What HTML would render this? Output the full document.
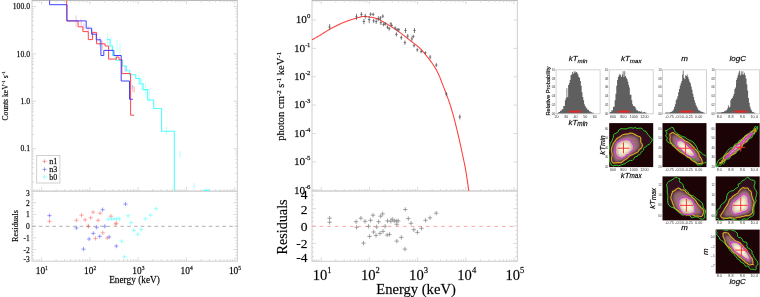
<!DOCTYPE html>
<html><head><meta charset="utf-8"><style>
html,body{margin:0;padding:0;background:#fff;}
svg{display:block;will-change:transform;}
text{stroke:#000;stroke-width:0.28px;stroke-opacity:0.55;}
text.t{stroke:none;}
</style></head><body>
<svg xmlns="http://www.w3.org/2000/svg" width="760" height="297" viewBox="0 0 760 297">
<rect width="760" height="297" fill="#fff"/>
<rect x="32.0" y="0.4" width="205.4" height="190.79999999999998" fill="none" stroke="#d2d2d2" stroke-width="1.1"/>
<line x1="32.00" y1="0.35" x2="237.40" y2="0.35" stroke="#b0b0b0" stroke-width="0.9" />
<rect x="32.0" y="191.2" width="205.4" height="70.0" fill="none" stroke="#d2d2d2" stroke-width="1.1"/>
<line x1="34.12" y1="0.40" x2="34.12" y2="2.40" stroke="#d2d2d2" stroke-width="0.8" />
<line x1="36.92" y1="0.40" x2="36.92" y2="2.40" stroke="#d2d2d2" stroke-width="0.8" />
<line x1="39.39" y1="0.40" x2="39.39" y2="2.40" stroke="#d2d2d2" stroke-width="0.8" />
<line x1="41.60" y1="0.40" x2="41.60" y2="4.40" stroke="#d2d2d2" stroke-width="0.8" />
<line x1="56.14" y1="0.40" x2="56.14" y2="2.40" stroke="#d2d2d2" stroke-width="0.8" />
<line x1="64.64" y1="0.40" x2="64.64" y2="2.40" stroke="#d2d2d2" stroke-width="0.8" />
<line x1="70.68" y1="0.40" x2="70.68" y2="2.40" stroke="#d2d2d2" stroke-width="0.8" />
<line x1="75.36" y1="0.40" x2="75.36" y2="2.40" stroke="#d2d2d2" stroke-width="0.8" />
<line x1="79.18" y1="0.40" x2="79.18" y2="2.40" stroke="#d2d2d2" stroke-width="0.8" />
<line x1="82.42" y1="0.40" x2="82.42" y2="2.40" stroke="#d2d2d2" stroke-width="0.8" />
<line x1="85.22" y1="0.40" x2="85.22" y2="2.40" stroke="#d2d2d2" stroke-width="0.8" />
<line x1="87.69" y1="0.40" x2="87.69" y2="2.40" stroke="#d2d2d2" stroke-width="0.8" />
<line x1="89.90" y1="0.40" x2="89.90" y2="4.40" stroke="#d2d2d2" stroke-width="0.8" />
<line x1="104.44" y1="0.40" x2="104.44" y2="2.40" stroke="#d2d2d2" stroke-width="0.8" />
<line x1="112.94" y1="0.40" x2="112.94" y2="2.40" stroke="#d2d2d2" stroke-width="0.8" />
<line x1="118.98" y1="0.40" x2="118.98" y2="2.40" stroke="#d2d2d2" stroke-width="0.8" />
<line x1="123.66" y1="0.40" x2="123.66" y2="2.40" stroke="#d2d2d2" stroke-width="0.8" />
<line x1="127.48" y1="0.40" x2="127.48" y2="2.40" stroke="#d2d2d2" stroke-width="0.8" />
<line x1="130.72" y1="0.40" x2="130.72" y2="2.40" stroke="#d2d2d2" stroke-width="0.8" />
<line x1="133.52" y1="0.40" x2="133.52" y2="2.40" stroke="#d2d2d2" stroke-width="0.8" />
<line x1="135.99" y1="0.40" x2="135.99" y2="2.40" stroke="#d2d2d2" stroke-width="0.8" />
<line x1="138.20" y1="0.40" x2="138.20" y2="4.40" stroke="#d2d2d2" stroke-width="0.8" />
<line x1="152.74" y1="0.40" x2="152.74" y2="2.40" stroke="#d2d2d2" stroke-width="0.8" />
<line x1="161.24" y1="0.40" x2="161.24" y2="2.40" stroke="#d2d2d2" stroke-width="0.8" />
<line x1="167.28" y1="0.40" x2="167.28" y2="2.40" stroke="#d2d2d2" stroke-width="0.8" />
<line x1="171.96" y1="0.40" x2="171.96" y2="2.40" stroke="#d2d2d2" stroke-width="0.8" />
<line x1="175.78" y1="0.40" x2="175.78" y2="2.40" stroke="#d2d2d2" stroke-width="0.8" />
<line x1="179.02" y1="0.40" x2="179.02" y2="2.40" stroke="#d2d2d2" stroke-width="0.8" />
<line x1="181.82" y1="0.40" x2="181.82" y2="2.40" stroke="#d2d2d2" stroke-width="0.8" />
<line x1="184.29" y1="0.40" x2="184.29" y2="2.40" stroke="#d2d2d2" stroke-width="0.8" />
<line x1="186.50" y1="0.40" x2="186.50" y2="4.40" stroke="#d2d2d2" stroke-width="0.8" />
<line x1="201.04" y1="0.40" x2="201.04" y2="2.40" stroke="#d2d2d2" stroke-width="0.8" />
<line x1="209.54" y1="0.40" x2="209.54" y2="2.40" stroke="#d2d2d2" stroke-width="0.8" />
<line x1="215.58" y1="0.40" x2="215.58" y2="2.40" stroke="#d2d2d2" stroke-width="0.8" />
<line x1="220.26" y1="0.40" x2="220.26" y2="2.40" stroke="#d2d2d2" stroke-width="0.8" />
<line x1="224.08" y1="0.40" x2="224.08" y2="2.40" stroke="#d2d2d2" stroke-width="0.8" />
<line x1="227.32" y1="0.40" x2="227.32" y2="2.40" stroke="#d2d2d2" stroke-width="0.8" />
<line x1="230.12" y1="0.40" x2="230.12" y2="2.40" stroke="#d2d2d2" stroke-width="0.8" />
<line x1="232.59" y1="0.40" x2="232.59" y2="2.40" stroke="#d2d2d2" stroke-width="0.8" />
<line x1="234.80" y1="0.40" x2="234.80" y2="4.40" stroke="#d2d2d2" stroke-width="0.8" />
<line x1="34.12" y1="191.20" x2="34.12" y2="189.20" stroke="#d2d2d2" stroke-width="0.8" />
<line x1="36.92" y1="191.20" x2="36.92" y2="189.20" stroke="#d2d2d2" stroke-width="0.8" />
<line x1="39.39" y1="191.20" x2="39.39" y2="189.20" stroke="#d2d2d2" stroke-width="0.8" />
<line x1="41.60" y1="191.20" x2="41.60" y2="187.20" stroke="#d2d2d2" stroke-width="0.8" />
<line x1="56.14" y1="191.20" x2="56.14" y2="189.20" stroke="#d2d2d2" stroke-width="0.8" />
<line x1="64.64" y1="191.20" x2="64.64" y2="189.20" stroke="#d2d2d2" stroke-width="0.8" />
<line x1="70.68" y1="191.20" x2="70.68" y2="189.20" stroke="#d2d2d2" stroke-width="0.8" />
<line x1="75.36" y1="191.20" x2="75.36" y2="189.20" stroke="#d2d2d2" stroke-width="0.8" />
<line x1="79.18" y1="191.20" x2="79.18" y2="189.20" stroke="#d2d2d2" stroke-width="0.8" />
<line x1="82.42" y1="191.20" x2="82.42" y2="189.20" stroke="#d2d2d2" stroke-width="0.8" />
<line x1="85.22" y1="191.20" x2="85.22" y2="189.20" stroke="#d2d2d2" stroke-width="0.8" />
<line x1="87.69" y1="191.20" x2="87.69" y2="189.20" stroke="#d2d2d2" stroke-width="0.8" />
<line x1="89.90" y1="191.20" x2="89.90" y2="187.20" stroke="#d2d2d2" stroke-width="0.8" />
<line x1="104.44" y1="191.20" x2="104.44" y2="189.20" stroke="#d2d2d2" stroke-width="0.8" />
<line x1="112.94" y1="191.20" x2="112.94" y2="189.20" stroke="#d2d2d2" stroke-width="0.8" />
<line x1="118.98" y1="191.20" x2="118.98" y2="189.20" stroke="#d2d2d2" stroke-width="0.8" />
<line x1="123.66" y1="191.20" x2="123.66" y2="189.20" stroke="#d2d2d2" stroke-width="0.8" />
<line x1="127.48" y1="191.20" x2="127.48" y2="189.20" stroke="#d2d2d2" stroke-width="0.8" />
<line x1="130.72" y1="191.20" x2="130.72" y2="189.20" stroke="#d2d2d2" stroke-width="0.8" />
<line x1="133.52" y1="191.20" x2="133.52" y2="189.20" stroke="#d2d2d2" stroke-width="0.8" />
<line x1="135.99" y1="191.20" x2="135.99" y2="189.20" stroke="#d2d2d2" stroke-width="0.8" />
<line x1="138.20" y1="191.20" x2="138.20" y2="187.20" stroke="#d2d2d2" stroke-width="0.8" />
<line x1="152.74" y1="191.20" x2="152.74" y2="189.20" stroke="#d2d2d2" stroke-width="0.8" />
<line x1="161.24" y1="191.20" x2="161.24" y2="189.20" stroke="#d2d2d2" stroke-width="0.8" />
<line x1="167.28" y1="191.20" x2="167.28" y2="189.20" stroke="#d2d2d2" stroke-width="0.8" />
<line x1="171.96" y1="191.20" x2="171.96" y2="189.20" stroke="#d2d2d2" stroke-width="0.8" />
<line x1="175.78" y1="191.20" x2="175.78" y2="189.20" stroke="#d2d2d2" stroke-width="0.8" />
<line x1="179.02" y1="191.20" x2="179.02" y2="189.20" stroke="#d2d2d2" stroke-width="0.8" />
<line x1="181.82" y1="191.20" x2="181.82" y2="189.20" stroke="#d2d2d2" stroke-width="0.8" />
<line x1="184.29" y1="191.20" x2="184.29" y2="189.20" stroke="#d2d2d2" stroke-width="0.8" />
<line x1="186.50" y1="191.20" x2="186.50" y2="187.20" stroke="#d2d2d2" stroke-width="0.8" />
<line x1="201.04" y1="191.20" x2="201.04" y2="189.20" stroke="#d2d2d2" stroke-width="0.8" />
<line x1="209.54" y1="191.20" x2="209.54" y2="189.20" stroke="#d2d2d2" stroke-width="0.8" />
<line x1="215.58" y1="191.20" x2="215.58" y2="189.20" stroke="#d2d2d2" stroke-width="0.8" />
<line x1="220.26" y1="191.20" x2="220.26" y2="189.20" stroke="#d2d2d2" stroke-width="0.8" />
<line x1="224.08" y1="191.20" x2="224.08" y2="189.20" stroke="#d2d2d2" stroke-width="0.8" />
<line x1="227.32" y1="191.20" x2="227.32" y2="189.20" stroke="#d2d2d2" stroke-width="0.8" />
<line x1="230.12" y1="191.20" x2="230.12" y2="189.20" stroke="#d2d2d2" stroke-width="0.8" />
<line x1="232.59" y1="191.20" x2="232.59" y2="189.20" stroke="#d2d2d2" stroke-width="0.8" />
<line x1="234.80" y1="191.20" x2="234.80" y2="187.20" stroke="#d2d2d2" stroke-width="0.8" />
<line x1="34.12" y1="261.20" x2="34.12" y2="259.20" stroke="#d2d2d2" stroke-width="0.8" />
<line x1="36.92" y1="261.20" x2="36.92" y2="259.20" stroke="#d2d2d2" stroke-width="0.8" />
<line x1="39.39" y1="261.20" x2="39.39" y2="259.20" stroke="#d2d2d2" stroke-width="0.8" />
<line x1="41.60" y1="261.20" x2="41.60" y2="257.20" stroke="#d2d2d2" stroke-width="0.8" />
<line x1="56.14" y1="261.20" x2="56.14" y2="259.20" stroke="#d2d2d2" stroke-width="0.8" />
<line x1="64.64" y1="261.20" x2="64.64" y2="259.20" stroke="#d2d2d2" stroke-width="0.8" />
<line x1="70.68" y1="261.20" x2="70.68" y2="259.20" stroke="#d2d2d2" stroke-width="0.8" />
<line x1="75.36" y1="261.20" x2="75.36" y2="259.20" stroke="#d2d2d2" stroke-width="0.8" />
<line x1="79.18" y1="261.20" x2="79.18" y2="259.20" stroke="#d2d2d2" stroke-width="0.8" />
<line x1="82.42" y1="261.20" x2="82.42" y2="259.20" stroke="#d2d2d2" stroke-width="0.8" />
<line x1="85.22" y1="261.20" x2="85.22" y2="259.20" stroke="#d2d2d2" stroke-width="0.8" />
<line x1="87.69" y1="261.20" x2="87.69" y2="259.20" stroke="#d2d2d2" stroke-width="0.8" />
<line x1="89.90" y1="261.20" x2="89.90" y2="257.20" stroke="#d2d2d2" stroke-width="0.8" />
<line x1="104.44" y1="261.20" x2="104.44" y2="259.20" stroke="#d2d2d2" stroke-width="0.8" />
<line x1="112.94" y1="261.20" x2="112.94" y2="259.20" stroke="#d2d2d2" stroke-width="0.8" />
<line x1="118.98" y1="261.20" x2="118.98" y2="259.20" stroke="#d2d2d2" stroke-width="0.8" />
<line x1="123.66" y1="261.20" x2="123.66" y2="259.20" stroke="#d2d2d2" stroke-width="0.8" />
<line x1="127.48" y1="261.20" x2="127.48" y2="259.20" stroke="#d2d2d2" stroke-width="0.8" />
<line x1="130.72" y1="261.20" x2="130.72" y2="259.20" stroke="#d2d2d2" stroke-width="0.8" />
<line x1="133.52" y1="261.20" x2="133.52" y2="259.20" stroke="#d2d2d2" stroke-width="0.8" />
<line x1="135.99" y1="261.20" x2="135.99" y2="259.20" stroke="#d2d2d2" stroke-width="0.8" />
<line x1="138.20" y1="261.20" x2="138.20" y2="257.20" stroke="#d2d2d2" stroke-width="0.8" />
<line x1="152.74" y1="261.20" x2="152.74" y2="259.20" stroke="#d2d2d2" stroke-width="0.8" />
<line x1="161.24" y1="261.20" x2="161.24" y2="259.20" stroke="#d2d2d2" stroke-width="0.8" />
<line x1="167.28" y1="261.20" x2="167.28" y2="259.20" stroke="#d2d2d2" stroke-width="0.8" />
<line x1="171.96" y1="261.20" x2="171.96" y2="259.20" stroke="#d2d2d2" stroke-width="0.8" />
<line x1="175.78" y1="261.20" x2="175.78" y2="259.20" stroke="#d2d2d2" stroke-width="0.8" />
<line x1="179.02" y1="261.20" x2="179.02" y2="259.20" stroke="#d2d2d2" stroke-width="0.8" />
<line x1="181.82" y1="261.20" x2="181.82" y2="259.20" stroke="#d2d2d2" stroke-width="0.8" />
<line x1="184.29" y1="261.20" x2="184.29" y2="259.20" stroke="#d2d2d2" stroke-width="0.8" />
<line x1="186.50" y1="261.20" x2="186.50" y2="257.20" stroke="#d2d2d2" stroke-width="0.8" />
<line x1="201.04" y1="261.20" x2="201.04" y2="259.20" stroke="#d2d2d2" stroke-width="0.8" />
<line x1="209.54" y1="261.20" x2="209.54" y2="259.20" stroke="#d2d2d2" stroke-width="0.8" />
<line x1="215.58" y1="261.20" x2="215.58" y2="259.20" stroke="#d2d2d2" stroke-width="0.8" />
<line x1="220.26" y1="261.20" x2="220.26" y2="259.20" stroke="#d2d2d2" stroke-width="0.8" />
<line x1="224.08" y1="261.20" x2="224.08" y2="259.20" stroke="#d2d2d2" stroke-width="0.8" />
<line x1="227.32" y1="261.20" x2="227.32" y2="259.20" stroke="#d2d2d2" stroke-width="0.8" />
<line x1="230.12" y1="261.20" x2="230.12" y2="259.20" stroke="#d2d2d2" stroke-width="0.8" />
<line x1="232.59" y1="261.20" x2="232.59" y2="259.20" stroke="#d2d2d2" stroke-width="0.8" />
<line x1="234.80" y1="261.20" x2="234.80" y2="257.20" stroke="#d2d2d2" stroke-width="0.8" />
<line x1="32.00" y1="181.83" x2="34.00" y2="181.83" stroke="#d2d2d2" stroke-width="0.8" />
<line x1="237.40" y1="181.83" x2="235.40" y2="181.83" stroke="#d2d2d2" stroke-width="0.8" />
<line x1="32.00" y1="173.48" x2="34.00" y2="173.48" stroke="#d2d2d2" stroke-width="0.8" />
<line x1="237.40" y1="173.48" x2="235.40" y2="173.48" stroke="#d2d2d2" stroke-width="0.8" />
<line x1="32.00" y1="167.56" x2="34.00" y2="167.56" stroke="#d2d2d2" stroke-width="0.8" />
<line x1="237.40" y1="167.56" x2="235.40" y2="167.56" stroke="#d2d2d2" stroke-width="0.8" />
<line x1="32.00" y1="162.97" x2="34.00" y2="162.97" stroke="#d2d2d2" stroke-width="0.8" />
<line x1="237.40" y1="162.97" x2="235.40" y2="162.97" stroke="#d2d2d2" stroke-width="0.8" />
<line x1="32.00" y1="159.22" x2="34.00" y2="159.22" stroke="#d2d2d2" stroke-width="0.8" />
<line x1="237.40" y1="159.22" x2="235.40" y2="159.22" stroke="#d2d2d2" stroke-width="0.8" />
<line x1="32.00" y1="156.04" x2="34.00" y2="156.04" stroke="#d2d2d2" stroke-width="0.8" />
<line x1="237.40" y1="156.04" x2="235.40" y2="156.04" stroke="#d2d2d2" stroke-width="0.8" />
<line x1="32.00" y1="153.29" x2="34.00" y2="153.29" stroke="#d2d2d2" stroke-width="0.8" />
<line x1="237.40" y1="153.29" x2="235.40" y2="153.29" stroke="#d2d2d2" stroke-width="0.8" />
<line x1="32.00" y1="150.87" x2="34.00" y2="150.87" stroke="#d2d2d2" stroke-width="0.8" />
<line x1="237.40" y1="150.87" x2="235.40" y2="150.87" stroke="#d2d2d2" stroke-width="0.8" />
<line x1="32.00" y1="148.70" x2="36.00" y2="148.70" stroke="#d2d2d2" stroke-width="0.8" />
<line x1="237.40" y1="148.70" x2="233.40" y2="148.70" stroke="#d2d2d2" stroke-width="0.8" />
<line x1="32.00" y1="134.43" x2="34.00" y2="134.43" stroke="#d2d2d2" stroke-width="0.8" />
<line x1="237.40" y1="134.43" x2="235.40" y2="134.43" stroke="#d2d2d2" stroke-width="0.8" />
<line x1="32.00" y1="126.08" x2="34.00" y2="126.08" stroke="#d2d2d2" stroke-width="0.8" />
<line x1="237.40" y1="126.08" x2="235.40" y2="126.08" stroke="#d2d2d2" stroke-width="0.8" />
<line x1="32.00" y1="120.16" x2="34.00" y2="120.16" stroke="#d2d2d2" stroke-width="0.8" />
<line x1="237.40" y1="120.16" x2="235.40" y2="120.16" stroke="#d2d2d2" stroke-width="0.8" />
<line x1="32.00" y1="115.57" x2="34.00" y2="115.57" stroke="#d2d2d2" stroke-width="0.8" />
<line x1="237.40" y1="115.57" x2="235.40" y2="115.57" stroke="#d2d2d2" stroke-width="0.8" />
<line x1="32.00" y1="111.82" x2="34.00" y2="111.82" stroke="#d2d2d2" stroke-width="0.8" />
<line x1="237.40" y1="111.82" x2="235.40" y2="111.82" stroke="#d2d2d2" stroke-width="0.8" />
<line x1="32.00" y1="108.64" x2="34.00" y2="108.64" stroke="#d2d2d2" stroke-width="0.8" />
<line x1="237.40" y1="108.64" x2="235.40" y2="108.64" stroke="#d2d2d2" stroke-width="0.8" />
<line x1="32.00" y1="105.89" x2="34.00" y2="105.89" stroke="#d2d2d2" stroke-width="0.8" />
<line x1="237.40" y1="105.89" x2="235.40" y2="105.89" stroke="#d2d2d2" stroke-width="0.8" />
<line x1="32.00" y1="103.47" x2="34.00" y2="103.47" stroke="#d2d2d2" stroke-width="0.8" />
<line x1="237.40" y1="103.47" x2="235.40" y2="103.47" stroke="#d2d2d2" stroke-width="0.8" />
<line x1="32.00" y1="101.30" x2="36.00" y2="101.30" stroke="#d2d2d2" stroke-width="0.8" />
<line x1="237.40" y1="101.30" x2="233.40" y2="101.30" stroke="#d2d2d2" stroke-width="0.8" />
<line x1="32.00" y1="87.03" x2="34.00" y2="87.03" stroke="#d2d2d2" stroke-width="0.8" />
<line x1="237.40" y1="87.03" x2="235.40" y2="87.03" stroke="#d2d2d2" stroke-width="0.8" />
<line x1="32.00" y1="78.68" x2="34.00" y2="78.68" stroke="#d2d2d2" stroke-width="0.8" />
<line x1="237.40" y1="78.68" x2="235.40" y2="78.68" stroke="#d2d2d2" stroke-width="0.8" />
<line x1="32.00" y1="72.76" x2="34.00" y2="72.76" stroke="#d2d2d2" stroke-width="0.8" />
<line x1="237.40" y1="72.76" x2="235.40" y2="72.76" stroke="#d2d2d2" stroke-width="0.8" />
<line x1="32.00" y1="68.17" x2="34.00" y2="68.17" stroke="#d2d2d2" stroke-width="0.8" />
<line x1="237.40" y1="68.17" x2="235.40" y2="68.17" stroke="#d2d2d2" stroke-width="0.8" />
<line x1="32.00" y1="64.42" x2="34.00" y2="64.42" stroke="#d2d2d2" stroke-width="0.8" />
<line x1="237.40" y1="64.42" x2="235.40" y2="64.42" stroke="#d2d2d2" stroke-width="0.8" />
<line x1="32.00" y1="61.24" x2="34.00" y2="61.24" stroke="#d2d2d2" stroke-width="0.8" />
<line x1="237.40" y1="61.24" x2="235.40" y2="61.24" stroke="#d2d2d2" stroke-width="0.8" />
<line x1="32.00" y1="58.49" x2="34.00" y2="58.49" stroke="#d2d2d2" stroke-width="0.8" />
<line x1="237.40" y1="58.49" x2="235.40" y2="58.49" stroke="#d2d2d2" stroke-width="0.8" />
<line x1="32.00" y1="56.07" x2="34.00" y2="56.07" stroke="#d2d2d2" stroke-width="0.8" />
<line x1="237.40" y1="56.07" x2="235.40" y2="56.07" stroke="#d2d2d2" stroke-width="0.8" />
<line x1="32.00" y1="53.90" x2="36.00" y2="53.90" stroke="#d2d2d2" stroke-width="0.8" />
<line x1="237.40" y1="53.90" x2="233.40" y2="53.90" stroke="#d2d2d2" stroke-width="0.8" />
<line x1="32.00" y1="39.63" x2="34.00" y2="39.63" stroke="#d2d2d2" stroke-width="0.8" />
<line x1="237.40" y1="39.63" x2="235.40" y2="39.63" stroke="#d2d2d2" stroke-width="0.8" />
<line x1="32.00" y1="31.28" x2="34.00" y2="31.28" stroke="#d2d2d2" stroke-width="0.8" />
<line x1="237.40" y1="31.28" x2="235.40" y2="31.28" stroke="#d2d2d2" stroke-width="0.8" />
<line x1="32.00" y1="25.36" x2="34.00" y2="25.36" stroke="#d2d2d2" stroke-width="0.8" />
<line x1="237.40" y1="25.36" x2="235.40" y2="25.36" stroke="#d2d2d2" stroke-width="0.8" />
<line x1="32.00" y1="20.77" x2="34.00" y2="20.77" stroke="#d2d2d2" stroke-width="0.8" />
<line x1="237.40" y1="20.77" x2="235.40" y2="20.77" stroke="#d2d2d2" stroke-width="0.8" />
<line x1="32.00" y1="17.02" x2="34.00" y2="17.02" stroke="#d2d2d2" stroke-width="0.8" />
<line x1="237.40" y1="17.02" x2="235.40" y2="17.02" stroke="#d2d2d2" stroke-width="0.8" />
<line x1="32.00" y1="13.84" x2="34.00" y2="13.84" stroke="#d2d2d2" stroke-width="0.8" />
<line x1="237.40" y1="13.84" x2="235.40" y2="13.84" stroke="#d2d2d2" stroke-width="0.8" />
<line x1="32.00" y1="11.09" x2="34.00" y2="11.09" stroke="#d2d2d2" stroke-width="0.8" />
<line x1="237.40" y1="11.09" x2="235.40" y2="11.09" stroke="#d2d2d2" stroke-width="0.8" />
<line x1="32.00" y1="8.67" x2="34.00" y2="8.67" stroke="#d2d2d2" stroke-width="0.8" />
<line x1="237.40" y1="8.67" x2="235.40" y2="8.67" stroke="#d2d2d2" stroke-width="0.8" />
<line x1="32.00" y1="6.50" x2="36.00" y2="6.50" stroke="#d2d2d2" stroke-width="0.8" />
<line x1="237.40" y1="6.50" x2="233.40" y2="6.50" stroke="#d2d2d2" stroke-width="0.8" />
<line x1="32.00" y1="258.27" x2="34.00" y2="258.27" stroke="#d2d2d2" stroke-width="0.8" />
<line x1="237.40" y1="258.27" x2="235.40" y2="258.27" stroke="#d2d2d2" stroke-width="0.8" />
<line x1="32.00" y1="255.35" x2="34.00" y2="255.35" stroke="#d2d2d2" stroke-width="0.8" />
<line x1="237.40" y1="255.35" x2="235.40" y2="255.35" stroke="#d2d2d2" stroke-width="0.8" />
<line x1="32.00" y1="252.42" x2="34.00" y2="252.42" stroke="#d2d2d2" stroke-width="0.8" />
<line x1="237.40" y1="252.42" x2="235.40" y2="252.42" stroke="#d2d2d2" stroke-width="0.8" />
<line x1="32.00" y1="249.50" x2="36.00" y2="249.50" stroke="#d2d2d2" stroke-width="0.8" />
<line x1="237.40" y1="249.50" x2="233.40" y2="249.50" stroke="#d2d2d2" stroke-width="0.8" />
<line x1="32.00" y1="246.57" x2="34.00" y2="246.57" stroke="#d2d2d2" stroke-width="0.8" />
<line x1="237.40" y1="246.57" x2="235.40" y2="246.57" stroke="#d2d2d2" stroke-width="0.8" />
<line x1="32.00" y1="243.65" x2="34.00" y2="243.65" stroke="#d2d2d2" stroke-width="0.8" />
<line x1="237.40" y1="243.65" x2="235.40" y2="243.65" stroke="#d2d2d2" stroke-width="0.8" />
<line x1="32.00" y1="240.72" x2="34.00" y2="240.72" stroke="#d2d2d2" stroke-width="0.8" />
<line x1="237.40" y1="240.72" x2="235.40" y2="240.72" stroke="#d2d2d2" stroke-width="0.8" />
<line x1="32.00" y1="237.80" x2="36.00" y2="237.80" stroke="#d2d2d2" stroke-width="0.8" />
<line x1="237.40" y1="237.80" x2="233.40" y2="237.80" stroke="#d2d2d2" stroke-width="0.8" />
<line x1="32.00" y1="234.88" x2="34.00" y2="234.88" stroke="#d2d2d2" stroke-width="0.8" />
<line x1="237.40" y1="234.88" x2="235.40" y2="234.88" stroke="#d2d2d2" stroke-width="0.8" />
<line x1="32.00" y1="231.95" x2="34.00" y2="231.95" stroke="#d2d2d2" stroke-width="0.8" />
<line x1="237.40" y1="231.95" x2="235.40" y2="231.95" stroke="#d2d2d2" stroke-width="0.8" />
<line x1="32.00" y1="229.03" x2="34.00" y2="229.03" stroke="#d2d2d2" stroke-width="0.8" />
<line x1="237.40" y1="229.03" x2="235.40" y2="229.03" stroke="#d2d2d2" stroke-width="0.8" />
<line x1="32.00" y1="226.10" x2="36.00" y2="226.10" stroke="#d2d2d2" stroke-width="0.8" />
<line x1="237.40" y1="226.10" x2="233.40" y2="226.10" stroke="#d2d2d2" stroke-width="0.8" />
<line x1="32.00" y1="223.17" x2="34.00" y2="223.17" stroke="#d2d2d2" stroke-width="0.8" />
<line x1="237.40" y1="223.17" x2="235.40" y2="223.17" stroke="#d2d2d2" stroke-width="0.8" />
<line x1="32.00" y1="220.25" x2="34.00" y2="220.25" stroke="#d2d2d2" stroke-width="0.8" />
<line x1="237.40" y1="220.25" x2="235.40" y2="220.25" stroke="#d2d2d2" stroke-width="0.8" />
<line x1="32.00" y1="217.32" x2="34.00" y2="217.32" stroke="#d2d2d2" stroke-width="0.8" />
<line x1="237.40" y1="217.32" x2="235.40" y2="217.32" stroke="#d2d2d2" stroke-width="0.8" />
<line x1="32.00" y1="214.40" x2="36.00" y2="214.40" stroke="#d2d2d2" stroke-width="0.8" />
<line x1="237.40" y1="214.40" x2="233.40" y2="214.40" stroke="#d2d2d2" stroke-width="0.8" />
<line x1="32.00" y1="211.47" x2="34.00" y2="211.47" stroke="#d2d2d2" stroke-width="0.8" />
<line x1="237.40" y1="211.47" x2="235.40" y2="211.47" stroke="#d2d2d2" stroke-width="0.8" />
<line x1="32.00" y1="208.55" x2="34.00" y2="208.55" stroke="#d2d2d2" stroke-width="0.8" />
<line x1="237.40" y1="208.55" x2="235.40" y2="208.55" stroke="#d2d2d2" stroke-width="0.8" />
<line x1="32.00" y1="205.62" x2="34.00" y2="205.62" stroke="#d2d2d2" stroke-width="0.8" />
<line x1="237.40" y1="205.62" x2="235.40" y2="205.62" stroke="#d2d2d2" stroke-width="0.8" />
<line x1="32.00" y1="202.70" x2="36.00" y2="202.70" stroke="#d2d2d2" stroke-width="0.8" />
<line x1="237.40" y1="202.70" x2="233.40" y2="202.70" stroke="#d2d2d2" stroke-width="0.8" />
<line x1="32.00" y1="199.78" x2="34.00" y2="199.78" stroke="#d2d2d2" stroke-width="0.8" />
<line x1="237.40" y1="199.78" x2="235.40" y2="199.78" stroke="#d2d2d2" stroke-width="0.8" />
<line x1="32.00" y1="196.85" x2="34.00" y2="196.85" stroke="#d2d2d2" stroke-width="0.8" />
<line x1="237.40" y1="196.85" x2="235.40" y2="196.85" stroke="#d2d2d2" stroke-width="0.8" />
<line x1="32.00" y1="193.93" x2="34.00" y2="193.93" stroke="#d2d2d2" stroke-width="0.8" />
<line x1="237.40" y1="193.93" x2="235.40" y2="193.93" stroke="#d2d2d2" stroke-width="0.8" />
<line x1="32.00" y1="226.30" x2="237.40" y2="226.30" stroke="#a8a8a8" stroke-width="0.9" stroke-dasharray="3.6,3.2"/>
<text x="30.00" y="9.20" font-family="Liberation Serif" font-size="7.7" text-anchor="end" fill="#000" >100.0</text>
<text x="30.00" y="56.60" font-family="Liberation Serif" font-size="7.7" text-anchor="end" fill="#000" >10.0</text>
<text x="30.00" y="104.00" font-family="Liberation Serif" font-size="7.7" text-anchor="end" fill="#000" >1.0</text>
<text x="30.00" y="151.40" font-family="Liberation Serif" font-size="7.7" text-anchor="end" fill="#000" >0.1</text>
<text x="29.80" y="195.90" font-family="Liberation Serif" font-size="7.5" text-anchor="end" fill="#000" >3</text>
<text x="29.80" y="205.80" font-family="Liberation Serif" font-size="7.5" text-anchor="end" fill="#000" >2</text>
<text x="29.80" y="217.40" font-family="Liberation Serif" font-size="7.5" text-anchor="end" fill="#000" >1</text>
<text x="29.80" y="229.10" font-family="Liberation Serif" font-size="7.5" text-anchor="end" fill="#000" >0</text>
<text x="29.80" y="240.80" font-family="Liberation Serif" font-size="7.5" text-anchor="end" fill="#000" >-1</text>
<text x="29.80" y="252.50" font-family="Liberation Serif" font-size="7.5" text-anchor="end" fill="#000" >-2</text>
<text x="29.80" y="262.00" font-family="Liberation Serif" font-size="7.5" text-anchor="end" fill="#000" >-3</text>
<text x="41.80" y="274.0" font-family="Liberation Serif" font-size="9.4" fill="#000" text-anchor="middle">10<tspan dy="-3.9" font-size="5.6">1</tspan></text>
<text x="90.10" y="274.0" font-family="Liberation Serif" font-size="9.4" fill="#000" text-anchor="middle">10<tspan dy="-3.9" font-size="5.6">2</tspan></text>
<text x="138.40" y="274.0" font-family="Liberation Serif" font-size="9.4" fill="#000" text-anchor="middle">10<tspan dy="-3.9" font-size="5.6">3</tspan></text>
<text x="186.70" y="274.0" font-family="Liberation Serif" font-size="9.4" fill="#000" text-anchor="middle">10<tspan dy="-3.9" font-size="5.6">4</tspan></text>
<text x="235.00" y="274.0" font-family="Liberation Serif" font-size="9.4" fill="#000" text-anchor="middle">10<tspan dy="-3.9" font-size="5.6">5</tspan></text>
<text x="134.50" y="283.20" font-family="Liberation Serif" font-size="9.3" text-anchor="middle" fill="#000" >Energy (keV)</text>
<text transform="translate(8.2,95.8) rotate(-90)" font-family="Liberation Serif" font-size="7.6" text-anchor="middle" fill="#000">Counts keV<tspan dy="-3.6" font-size="5">-1</tspan><tspan dy="3.6"> s</tspan><tspan dy="-3.6" font-size="5">-1</tspan></text>
<text transform="translate(18,226) rotate(-90)" font-family="Liberation Serif" font-size="8.2" text-anchor="middle" fill="#000">Residuals</text>
<rect x="36.7" y="155.4" width="23.2" height="27.6" fill="none" stroke="#c4c4c4" stroke-width="0.8"/>
<line x1="42.50" y1="161.40" x2="46.50" y2="161.40" stroke="#ff8080" stroke-width="0.8" />
<line x1="44.50" y1="159.40" x2="44.50" y2="163.40" stroke="#ff8080" stroke-width="0.8" />
<text x="49.30" y="164.00" font-family="Liberation Serif" font-size="8" text-anchor="start" fill="#000" >n1</text>
<line x1="42.50" y1="169.40" x2="46.50" y2="169.40" stroke="#8080ff" stroke-width="0.8" />
<line x1="44.50" y1="167.40" x2="44.50" y2="171.40" stroke="#8080ff" stroke-width="0.8" />
<text x="49.30" y="172.00" font-family="Liberation Serif" font-size="8" text-anchor="start" fill="#000" >n3</text>
<line x1="42.50" y1="176.90" x2="46.50" y2="176.90" stroke="#80ffff" stroke-width="0.8" />
<line x1="44.50" y1="174.90" x2="44.50" y2="178.90" stroke="#80ffff" stroke-width="0.8" />
<text x="49.30" y="179.50" font-family="Liberation Serif" font-size="8" text-anchor="start" fill="#000" >b0</text>
<line x1="76.10" y1="15.40" x2="76.10" y2="26.80" stroke="#e8b0e0" stroke-width="0.8" />
<line x1="81.20" y1="18.80" x2="81.20" y2="26.20" stroke="#ffb0b0" stroke-width="0.8" />
<line x1="83.90" y1="23.50" x2="83.90" y2="30.20" stroke="#c8b8ff" stroke-width="0.8" />
<line x1="88.20" y1="26.20" x2="88.20" y2="33.60" stroke="#ffb8b8" stroke-width="0.8" />
<line x1="92.30" y1="29.00" x2="92.30" y2="36.50" stroke="#c0c0ff" stroke-width="0.8" />
<line x1="96.30" y1="33.00" x2="96.30" y2="42.00" stroke="#ffb8b8" stroke-width="0.8" />
<line x1="99.70" y1="37.00" x2="99.70" y2="46.00" stroke="#c0c0ff" stroke-width="0.8" />
<line x1="102.40" y1="41.00" x2="102.40" y2="50.00" stroke="#ffb8b8" stroke-width="0.8" />
<line x1="107.60" y1="33.80" x2="107.60" y2="45.00" stroke="#b0ffff" stroke-width="0.8" />
<line x1="111.00" y1="37.00" x2="111.00" y2="50.00" stroke="#b0ffff" stroke-width="0.8" />
<line x1="117.00" y1="40.00" x2="117.00" y2="52.00" stroke="#b0ffff" stroke-width="0.8" />
<line x1="120.00" y1="43.00" x2="120.00" y2="58.00" stroke="#b0ffff" stroke-width="0.8" />
<line x1="125.10" y1="65.90" x2="125.10" y2="71.80" stroke="#b8b8ff" stroke-width="0.8" />
<line x1="132.80" y1="85.90" x2="132.80" y2="91.80" stroke="#ffa8a8" stroke-width="0.8" />
<line x1="134.30" y1="86.50" x2="134.30" y2="92.50" stroke="#ffa8a8" stroke-width="0.8" />
<line x1="132.40" y1="85.00" x2="132.40" y2="89.00" stroke="#b0b0ff" stroke-width="0.8" />
<line x1="138.70" y1="74.80" x2="138.70" y2="85.00" stroke="#b0ffff" stroke-width="0.8" />
<line x1="141.70" y1="78.50" x2="141.70" y2="89.60" stroke="#b0ffff" stroke-width="0.8" />
<line x1="145.40" y1="83.70" x2="145.40" y2="95.50" stroke="#b0ffff" stroke-width="0.8" />
<line x1="149.30" y1="89.60" x2="149.30" y2="102.00" stroke="#b0ffff" stroke-width="0.8" />
<line x1="166.30" y1="127.00" x2="166.30" y2="135.00" stroke="#a0ffff" stroke-width="0.8" />
<line x1="180.00" y1="151.00" x2="180.00" y2="158.00" stroke="#a0ffff" stroke-width="0.8" />
<line x1="194.30" y1="183.00" x2="194.30" y2="189.00" stroke="#a0ffff" stroke-width="0.8" />
<path d="M107.00,39.50 L110.00,39.50 L110.00,46.00 L112.50,46.00 L112.50,55.50 L116.00,55.50 L116.00,60.20 L122.60,60.20 L122.60,66.00 L126.30,66.00 L126.30,70.80 L129.60,70.80 L129.60,74.80 L135.80,74.80 L135.80,78.50 L139.90,78.50 L139.90,83.70 L143.10,83.70 L143.10,89.60 L147.60,89.60 L147.60,100.00 L153.70,100.00 L153.70,108.50 L161.60,108.50 L161.60,131.30 L174.30,131.30 L174.30,190.50" stroke="#50ffff" stroke-width="1.1" fill="none" />
<path d="M66.70,0.50 L66.70,20.90 L78.10,20.90 L78.10,26.80 L82.90,26.80 L82.90,31.60 L88.30,31.60 L88.30,39.60 L92.60,39.60 L92.60,32.40 L96.60,32.40 L96.60,43.80 L100.40,43.80 L105.10,43.80 L105.10,46.00 L108.60,46.00 L108.60,59.10 L116.40,59.10 L116.40,57.00 L119.00,57.00 L119.00,59.60 L121.80,59.60 L121.80,73.60 L130.60,73.60 L130.60,115.20 L134.20,115.20" stroke="#ff4646" stroke-width="1.0" fill="none" />
<path d="M49.60,0.50 L49.60,4.70 L67.00,4.70 L67.00,20.90 L86.20,20.90 L86.20,28.20 L91.60,28.20 L91.60,34.20 L96.30,34.20 L96.30,39.80 L100.90,39.80 L100.90,55.50 L103.80,55.50 L103.80,50.40 L113.90,50.40 L113.90,55.50 L121.20,55.50 L121.20,81.00 L129.50,81.00 L129.50,99.30 L132.80,99.30" stroke="#4040ff" stroke-width="1.0" fill="none" />
<line x1="203.50" y1="190.30" x2="209.60" y2="190.30" stroke="#50ffff" stroke-width="1.3" />
<line x1="47.40" y1="215.60" x2="51.60" y2="215.60" stroke="#7878ff" stroke-width="0.75" />
<line x1="49.50" y1="213.50" x2="49.50" y2="217.70" stroke="#7878ff" stroke-width="0.75" />
<line x1="47.40" y1="221.30" x2="51.60" y2="221.30" stroke="#ff8a8a" stroke-width="0.75" />
<line x1="49.50" y1="219.20" x2="49.50" y2="223.40" stroke="#ff8a8a" stroke-width="0.75" />
<line x1="74.30" y1="220.30" x2="78.50" y2="220.30" stroke="#ff8a8a" stroke-width="0.75" />
<line x1="76.40" y1="218.20" x2="76.40" y2="222.40" stroke="#ff8a8a" stroke-width="0.75" />
<line x1="74.30" y1="227.90" x2="78.50" y2="227.90" stroke="#7878ff" stroke-width="0.75" />
<line x1="76.40" y1="225.80" x2="76.40" y2="230.00" stroke="#7878ff" stroke-width="0.75" />
<line x1="79.40" y1="215.20" x2="83.60" y2="215.20" stroke="#ff8a8a" stroke-width="0.75" />
<line x1="81.50" y1="213.10" x2="81.50" y2="217.30" stroke="#ff8a8a" stroke-width="0.75" />
<line x1="83.00" y1="219.80" x2="87.20" y2="219.80" stroke="#ff8a8a" stroke-width="0.75" />
<line x1="85.10" y1="217.70" x2="85.10" y2="221.90" stroke="#ff8a8a" stroke-width="0.75" />
<line x1="86.20" y1="226.30" x2="90.40" y2="226.30" stroke="#e06060" stroke-width="0.75" />
<line x1="88.30" y1="224.20" x2="88.30" y2="228.40" stroke="#e06060" stroke-width="0.75" />
<line x1="88.60" y1="217.80" x2="92.80" y2="217.80" stroke="#ff8a8a" stroke-width="0.75" />
<line x1="90.70" y1="215.70" x2="90.70" y2="219.90" stroke="#ff8a8a" stroke-width="0.75" />
<line x1="91.00" y1="212.20" x2="95.20" y2="212.20" stroke="#ff8a8a" stroke-width="0.75" />
<line x1="93.10" y1="210.10" x2="93.10" y2="214.30" stroke="#ff8a8a" stroke-width="0.75" />
<line x1="87.00" y1="239.00" x2="91.20" y2="239.00" stroke="#7878ff" stroke-width="0.75" />
<line x1="89.10" y1="236.90" x2="89.10" y2="241.10" stroke="#7878ff" stroke-width="0.75" />
<line x1="81.40" y1="249.10" x2="85.60" y2="249.10" stroke="#7878ff" stroke-width="0.75" />
<line x1="83.50" y1="247.00" x2="83.50" y2="251.20" stroke="#7878ff" stroke-width="0.75" />
<line x1="91.20" y1="233.40" x2="95.40" y2="233.40" stroke="#7878ff" stroke-width="0.75" />
<line x1="93.30" y1="231.30" x2="93.30" y2="235.50" stroke="#7878ff" stroke-width="0.75" />
<line x1="93.40" y1="238.40" x2="97.60" y2="238.40" stroke="#ff8a8a" stroke-width="0.75" />
<line x1="95.50" y1="236.30" x2="95.50" y2="240.50" stroke="#ff8a8a" stroke-width="0.75" />
<line x1="94.60" y1="227.30" x2="98.80" y2="227.30" stroke="#7878ff" stroke-width="0.75" />
<line x1="96.70" y1="225.20" x2="96.70" y2="229.40" stroke="#7878ff" stroke-width="0.75" />
<line x1="96.00" y1="220.30" x2="100.20" y2="220.30" stroke="#ff8a8a" stroke-width="0.75" />
<line x1="98.10" y1="218.20" x2="98.10" y2="222.40" stroke="#ff8a8a" stroke-width="0.75" />
<line x1="98.10" y1="213.20" x2="102.30" y2="213.20" stroke="#ff8a8a" stroke-width="0.75" />
<line x1="100.20" y1="211.10" x2="100.20" y2="215.30" stroke="#ff8a8a" stroke-width="0.75" />
<line x1="100.50" y1="209.70" x2="104.70" y2="209.70" stroke="#7878ff" stroke-width="0.75" />
<line x1="102.60" y1="207.60" x2="102.60" y2="211.80" stroke="#7878ff" stroke-width="0.75" />
<line x1="97.60" y1="236.40" x2="101.80" y2="236.40" stroke="#7878ff" stroke-width="0.75" />
<line x1="99.70" y1="234.30" x2="99.70" y2="238.50" stroke="#7878ff" stroke-width="0.75" />
<line x1="100.70" y1="232.80" x2="104.90" y2="232.80" stroke="#ff8a8a" stroke-width="0.75" />
<line x1="102.80" y1="230.70" x2="102.80" y2="234.90" stroke="#ff8a8a" stroke-width="0.75" />
<line x1="102.70" y1="226.30" x2="106.90" y2="226.30" stroke="#7878ff" stroke-width="0.75" />
<line x1="104.80" y1="224.20" x2="104.80" y2="228.40" stroke="#7878ff" stroke-width="0.75" />
<line x1="105.10" y1="238.00" x2="109.30" y2="238.00" stroke="#ff8a8a" stroke-width="0.75" />
<line x1="107.20" y1="235.90" x2="107.20" y2="240.10" stroke="#ff8a8a" stroke-width="0.75" />
<line x1="107.10" y1="237.00" x2="111.30" y2="237.00" stroke="#7878ff" stroke-width="0.75" />
<line x1="109.20" y1="234.90" x2="109.20" y2="239.10" stroke="#7878ff" stroke-width="0.75" />
<line x1="108.80" y1="216.20" x2="113.00" y2="216.20" stroke="#ff8a8a" stroke-width="0.75" />
<line x1="110.90" y1="214.10" x2="110.90" y2="218.30" stroke="#ff8a8a" stroke-width="0.75" />
<line x1="106.10" y1="219.20" x2="110.30" y2="219.20" stroke="#78ffff" stroke-width="0.75" />
<line x1="108.20" y1="217.10" x2="108.20" y2="221.30" stroke="#78ffff" stroke-width="0.75" />
<line x1="109.40" y1="218.80" x2="113.60" y2="218.80" stroke="#78ffff" stroke-width="0.75" />
<line x1="111.50" y1="216.70" x2="111.50" y2="220.90" stroke="#78ffff" stroke-width="0.75" />
<line x1="111.90" y1="218.80" x2="116.10" y2="218.80" stroke="#78ffff" stroke-width="0.75" />
<line x1="114.00" y1="216.70" x2="114.00" y2="220.90" stroke="#78ffff" stroke-width="0.75" />
<line x1="114.40" y1="218.80" x2="118.60" y2="218.80" stroke="#78ffff" stroke-width="0.75" />
<line x1="116.50" y1="216.70" x2="116.50" y2="220.90" stroke="#78ffff" stroke-width="0.75" />
<line x1="117.20" y1="218.80" x2="121.40" y2="218.80" stroke="#78ffff" stroke-width="0.75" />
<line x1="119.30" y1="216.70" x2="119.30" y2="220.90" stroke="#78ffff" stroke-width="0.75" />
<line x1="114.20" y1="223.30" x2="118.40" y2="223.30" stroke="#ff8a8a" stroke-width="0.75" />
<line x1="116.30" y1="221.20" x2="116.30" y2="225.40" stroke="#ff8a8a" stroke-width="0.75" />
<line x1="123.40" y1="204.10" x2="127.60" y2="204.10" stroke="#7878ff" stroke-width="0.75" />
<line x1="125.50" y1="202.00" x2="125.50" y2="206.20" stroke="#7878ff" stroke-width="0.75" />
<line x1="126.00" y1="215.80" x2="130.20" y2="215.80" stroke="#78ffff" stroke-width="0.75" />
<line x1="128.10" y1="213.70" x2="128.10" y2="217.90" stroke="#78ffff" stroke-width="0.75" />
<line x1="129.00" y1="222.70" x2="133.20" y2="222.70" stroke="#78ffff" stroke-width="0.75" />
<line x1="131.10" y1="220.60" x2="131.10" y2="224.80" stroke="#78ffff" stroke-width="0.75" />
<line x1="131.60" y1="230.40" x2="135.80" y2="230.40" stroke="#78ffff" stroke-width="0.75" />
<line x1="133.70" y1="228.30" x2="133.70" y2="232.50" stroke="#78ffff" stroke-width="0.75" />
<line x1="135.70" y1="234.40" x2="139.90" y2="234.40" stroke="#78ffff" stroke-width="0.75" />
<line x1="137.80" y1="232.30" x2="137.80" y2="236.50" stroke="#78ffff" stroke-width="0.75" />
<line x1="139.10" y1="229.30" x2="143.30" y2="229.30" stroke="#78ffff" stroke-width="0.75" />
<line x1="141.20" y1="227.20" x2="141.20" y2="231.40" stroke="#78ffff" stroke-width="0.75" />
<line x1="143.20" y1="218.80" x2="147.40" y2="218.80" stroke="#78ffff" stroke-width="0.75" />
<line x1="145.30" y1="216.70" x2="145.30" y2="220.90" stroke="#78ffff" stroke-width="0.75" />
<line x1="148.20" y1="215.20" x2="152.40" y2="215.20" stroke="#78ffff" stroke-width="0.75" />
<line x1="150.30" y1="213.10" x2="150.30" y2="217.30" stroke="#78ffff" stroke-width="0.75" />
<line x1="153.90" y1="208.70" x2="158.10" y2="208.70" stroke="#78ffff" stroke-width="0.75" />
<line x1="156.00" y1="206.60" x2="156.00" y2="210.80" stroke="#78ffff" stroke-width="0.75" />
<line x1="119.50" y1="241.10" x2="123.70" y2="241.10" stroke="#78ffff" stroke-width="0.75" />
<line x1="121.60" y1="239.00" x2="121.60" y2="243.20" stroke="#78ffff" stroke-width="0.75" />
<line x1="122.30" y1="256.80" x2="126.50" y2="256.80" stroke="#78ffff" stroke-width="0.75" />
<line x1="124.40" y1="254.70" x2="124.40" y2="258.90" stroke="#78ffff" stroke-width="0.75" />
<line x1="114.20" y1="246.10" x2="118.40" y2="246.10" stroke="#7878ff" stroke-width="0.75" />
<line x1="116.30" y1="244.00" x2="116.30" y2="248.20" stroke="#7878ff" stroke-width="0.75" />
<line x1="113.60" y1="224.00" x2="117.80" y2="224.00" stroke="#ff8a8a" stroke-width="0.75" />
<line x1="115.70" y1="221.90" x2="115.70" y2="226.10" stroke="#ff8a8a" stroke-width="0.75" />
<rect x="312.0" y="0.4" width="205.39999999999998" height="190.6" fill="none" stroke="#d2d2d2" stroke-width="1.1"/>
<line x1="312.00" y1="0.35" x2="517.40" y2="0.35" stroke="#b0b0b0" stroke-width="0.9" />
<rect x="312.0" y="191.0" width="205.39999999999998" height="70.30000000000001" fill="none" stroke="#d2d2d2" stroke-width="1.1"/>
<line x1="313.73" y1="0.40" x2="313.73" y2="2.40" stroke="#d2d2d2" stroke-width="0.8" />
<line x1="316.53" y1="0.40" x2="316.53" y2="2.40" stroke="#d2d2d2" stroke-width="0.8" />
<line x1="318.99" y1="0.40" x2="318.99" y2="2.40" stroke="#d2d2d2" stroke-width="0.8" />
<line x1="321.20" y1="0.40" x2="321.20" y2="4.40" stroke="#d2d2d2" stroke-width="0.8" />
<line x1="335.71" y1="0.40" x2="335.71" y2="2.40" stroke="#d2d2d2" stroke-width="0.8" />
<line x1="344.20" y1="0.40" x2="344.20" y2="2.40" stroke="#d2d2d2" stroke-width="0.8" />
<line x1="350.22" y1="0.40" x2="350.22" y2="2.40" stroke="#d2d2d2" stroke-width="0.8" />
<line x1="354.89" y1="0.40" x2="354.89" y2="2.40" stroke="#d2d2d2" stroke-width="0.8" />
<line x1="358.71" y1="0.40" x2="358.71" y2="2.40" stroke="#d2d2d2" stroke-width="0.8" />
<line x1="361.93" y1="0.40" x2="361.93" y2="2.40" stroke="#d2d2d2" stroke-width="0.8" />
<line x1="364.73" y1="0.40" x2="364.73" y2="2.40" stroke="#d2d2d2" stroke-width="0.8" />
<line x1="367.19" y1="0.40" x2="367.19" y2="2.40" stroke="#d2d2d2" stroke-width="0.8" />
<line x1="369.40" y1="0.40" x2="369.40" y2="4.40" stroke="#d2d2d2" stroke-width="0.8" />
<line x1="383.91" y1="0.40" x2="383.91" y2="2.40" stroke="#d2d2d2" stroke-width="0.8" />
<line x1="392.40" y1="0.40" x2="392.40" y2="2.40" stroke="#d2d2d2" stroke-width="0.8" />
<line x1="398.42" y1="0.40" x2="398.42" y2="2.40" stroke="#d2d2d2" stroke-width="0.8" />
<line x1="403.09" y1="0.40" x2="403.09" y2="2.40" stroke="#d2d2d2" stroke-width="0.8" />
<line x1="406.91" y1="0.40" x2="406.91" y2="2.40" stroke="#d2d2d2" stroke-width="0.8" />
<line x1="410.13" y1="0.40" x2="410.13" y2="2.40" stroke="#d2d2d2" stroke-width="0.8" />
<line x1="412.93" y1="0.40" x2="412.93" y2="2.40" stroke="#d2d2d2" stroke-width="0.8" />
<line x1="415.39" y1="0.40" x2="415.39" y2="2.40" stroke="#d2d2d2" stroke-width="0.8" />
<line x1="417.60" y1="0.40" x2="417.60" y2="4.40" stroke="#d2d2d2" stroke-width="0.8" />
<line x1="432.11" y1="0.40" x2="432.11" y2="2.40" stroke="#d2d2d2" stroke-width="0.8" />
<line x1="440.60" y1="0.40" x2="440.60" y2="2.40" stroke="#d2d2d2" stroke-width="0.8" />
<line x1="446.62" y1="0.40" x2="446.62" y2="2.40" stroke="#d2d2d2" stroke-width="0.8" />
<line x1="451.29" y1="0.40" x2="451.29" y2="2.40" stroke="#d2d2d2" stroke-width="0.8" />
<line x1="455.11" y1="0.40" x2="455.11" y2="2.40" stroke="#d2d2d2" stroke-width="0.8" />
<line x1="458.33" y1="0.40" x2="458.33" y2="2.40" stroke="#d2d2d2" stroke-width="0.8" />
<line x1="461.13" y1="0.40" x2="461.13" y2="2.40" stroke="#d2d2d2" stroke-width="0.8" />
<line x1="463.59" y1="0.40" x2="463.59" y2="2.40" stroke="#d2d2d2" stroke-width="0.8" />
<line x1="465.80" y1="0.40" x2="465.80" y2="4.40" stroke="#d2d2d2" stroke-width="0.8" />
<line x1="480.31" y1="0.40" x2="480.31" y2="2.40" stroke="#d2d2d2" stroke-width="0.8" />
<line x1="488.80" y1="0.40" x2="488.80" y2="2.40" stroke="#d2d2d2" stroke-width="0.8" />
<line x1="494.82" y1="0.40" x2="494.82" y2="2.40" stroke="#d2d2d2" stroke-width="0.8" />
<line x1="499.49" y1="0.40" x2="499.49" y2="2.40" stroke="#d2d2d2" stroke-width="0.8" />
<line x1="503.31" y1="0.40" x2="503.31" y2="2.40" stroke="#d2d2d2" stroke-width="0.8" />
<line x1="506.53" y1="0.40" x2="506.53" y2="2.40" stroke="#d2d2d2" stroke-width="0.8" />
<line x1="509.33" y1="0.40" x2="509.33" y2="2.40" stroke="#d2d2d2" stroke-width="0.8" />
<line x1="511.79" y1="0.40" x2="511.79" y2="2.40" stroke="#d2d2d2" stroke-width="0.8" />
<line x1="514.00" y1="0.40" x2="514.00" y2="4.40" stroke="#d2d2d2" stroke-width="0.8" />
<line x1="313.73" y1="191.00" x2="313.73" y2="189.00" stroke="#d2d2d2" stroke-width="0.8" />
<line x1="316.53" y1="191.00" x2="316.53" y2="189.00" stroke="#d2d2d2" stroke-width="0.8" />
<line x1="318.99" y1="191.00" x2="318.99" y2="189.00" stroke="#d2d2d2" stroke-width="0.8" />
<line x1="321.20" y1="191.00" x2="321.20" y2="187.00" stroke="#d2d2d2" stroke-width="0.8" />
<line x1="335.71" y1="191.00" x2="335.71" y2="189.00" stroke="#d2d2d2" stroke-width="0.8" />
<line x1="344.20" y1="191.00" x2="344.20" y2="189.00" stroke="#d2d2d2" stroke-width="0.8" />
<line x1="350.22" y1="191.00" x2="350.22" y2="189.00" stroke="#d2d2d2" stroke-width="0.8" />
<line x1="354.89" y1="191.00" x2="354.89" y2="189.00" stroke="#d2d2d2" stroke-width="0.8" />
<line x1="358.71" y1="191.00" x2="358.71" y2="189.00" stroke="#d2d2d2" stroke-width="0.8" />
<line x1="361.93" y1="191.00" x2="361.93" y2="189.00" stroke="#d2d2d2" stroke-width="0.8" />
<line x1="364.73" y1="191.00" x2="364.73" y2="189.00" stroke="#d2d2d2" stroke-width="0.8" />
<line x1="367.19" y1="191.00" x2="367.19" y2="189.00" stroke="#d2d2d2" stroke-width="0.8" />
<line x1="369.40" y1="191.00" x2="369.40" y2="187.00" stroke="#d2d2d2" stroke-width="0.8" />
<line x1="383.91" y1="191.00" x2="383.91" y2="189.00" stroke="#d2d2d2" stroke-width="0.8" />
<line x1="392.40" y1="191.00" x2="392.40" y2="189.00" stroke="#d2d2d2" stroke-width="0.8" />
<line x1="398.42" y1="191.00" x2="398.42" y2="189.00" stroke="#d2d2d2" stroke-width="0.8" />
<line x1="403.09" y1="191.00" x2="403.09" y2="189.00" stroke="#d2d2d2" stroke-width="0.8" />
<line x1="406.91" y1="191.00" x2="406.91" y2="189.00" stroke="#d2d2d2" stroke-width="0.8" />
<line x1="410.13" y1="191.00" x2="410.13" y2="189.00" stroke="#d2d2d2" stroke-width="0.8" />
<line x1="412.93" y1="191.00" x2="412.93" y2="189.00" stroke="#d2d2d2" stroke-width="0.8" />
<line x1="415.39" y1="191.00" x2="415.39" y2="189.00" stroke="#d2d2d2" stroke-width="0.8" />
<line x1="417.60" y1="191.00" x2="417.60" y2="187.00" stroke="#d2d2d2" stroke-width="0.8" />
<line x1="432.11" y1="191.00" x2="432.11" y2="189.00" stroke="#d2d2d2" stroke-width="0.8" />
<line x1="440.60" y1="191.00" x2="440.60" y2="189.00" stroke="#d2d2d2" stroke-width="0.8" />
<line x1="446.62" y1="191.00" x2="446.62" y2="189.00" stroke="#d2d2d2" stroke-width="0.8" />
<line x1="451.29" y1="191.00" x2="451.29" y2="189.00" stroke="#d2d2d2" stroke-width="0.8" />
<line x1="455.11" y1="191.00" x2="455.11" y2="189.00" stroke="#d2d2d2" stroke-width="0.8" />
<line x1="458.33" y1="191.00" x2="458.33" y2="189.00" stroke="#d2d2d2" stroke-width="0.8" />
<line x1="461.13" y1="191.00" x2="461.13" y2="189.00" stroke="#d2d2d2" stroke-width="0.8" />
<line x1="463.59" y1="191.00" x2="463.59" y2="189.00" stroke="#d2d2d2" stroke-width="0.8" />
<line x1="465.80" y1="191.00" x2="465.80" y2="187.00" stroke="#d2d2d2" stroke-width="0.8" />
<line x1="480.31" y1="191.00" x2="480.31" y2="189.00" stroke="#d2d2d2" stroke-width="0.8" />
<line x1="488.80" y1="191.00" x2="488.80" y2="189.00" stroke="#d2d2d2" stroke-width="0.8" />
<line x1="494.82" y1="191.00" x2="494.82" y2="189.00" stroke="#d2d2d2" stroke-width="0.8" />
<line x1="499.49" y1="191.00" x2="499.49" y2="189.00" stroke="#d2d2d2" stroke-width="0.8" />
<line x1="503.31" y1="191.00" x2="503.31" y2="189.00" stroke="#d2d2d2" stroke-width="0.8" />
<line x1="506.53" y1="191.00" x2="506.53" y2="189.00" stroke="#d2d2d2" stroke-width="0.8" />
<line x1="509.33" y1="191.00" x2="509.33" y2="189.00" stroke="#d2d2d2" stroke-width="0.8" />
<line x1="511.79" y1="191.00" x2="511.79" y2="189.00" stroke="#d2d2d2" stroke-width="0.8" />
<line x1="514.00" y1="191.00" x2="514.00" y2="187.00" stroke="#d2d2d2" stroke-width="0.8" />
<line x1="313.73" y1="261.30" x2="313.73" y2="259.30" stroke="#d2d2d2" stroke-width="0.8" />
<line x1="316.53" y1="261.30" x2="316.53" y2="259.30" stroke="#d2d2d2" stroke-width="0.8" />
<line x1="318.99" y1="261.30" x2="318.99" y2="259.30" stroke="#d2d2d2" stroke-width="0.8" />
<line x1="321.20" y1="261.30" x2="321.20" y2="257.30" stroke="#d2d2d2" stroke-width="0.8" />
<line x1="335.71" y1="261.30" x2="335.71" y2="259.30" stroke="#d2d2d2" stroke-width="0.8" />
<line x1="344.20" y1="261.30" x2="344.20" y2="259.30" stroke="#d2d2d2" stroke-width="0.8" />
<line x1="350.22" y1="261.30" x2="350.22" y2="259.30" stroke="#d2d2d2" stroke-width="0.8" />
<line x1="354.89" y1="261.30" x2="354.89" y2="259.30" stroke="#d2d2d2" stroke-width="0.8" />
<line x1="358.71" y1="261.30" x2="358.71" y2="259.30" stroke="#d2d2d2" stroke-width="0.8" />
<line x1="361.93" y1="261.30" x2="361.93" y2="259.30" stroke="#d2d2d2" stroke-width="0.8" />
<line x1="364.73" y1="261.30" x2="364.73" y2="259.30" stroke="#d2d2d2" stroke-width="0.8" />
<line x1="367.19" y1="261.30" x2="367.19" y2="259.30" stroke="#d2d2d2" stroke-width="0.8" />
<line x1="369.40" y1="261.30" x2="369.40" y2="257.30" stroke="#d2d2d2" stroke-width="0.8" />
<line x1="383.91" y1="261.30" x2="383.91" y2="259.30" stroke="#d2d2d2" stroke-width="0.8" />
<line x1="392.40" y1="261.30" x2="392.40" y2="259.30" stroke="#d2d2d2" stroke-width="0.8" />
<line x1="398.42" y1="261.30" x2="398.42" y2="259.30" stroke="#d2d2d2" stroke-width="0.8" />
<line x1="403.09" y1="261.30" x2="403.09" y2="259.30" stroke="#d2d2d2" stroke-width="0.8" />
<line x1="406.91" y1="261.30" x2="406.91" y2="259.30" stroke="#d2d2d2" stroke-width="0.8" />
<line x1="410.13" y1="261.30" x2="410.13" y2="259.30" stroke="#d2d2d2" stroke-width="0.8" />
<line x1="412.93" y1="261.30" x2="412.93" y2="259.30" stroke="#d2d2d2" stroke-width="0.8" />
<line x1="415.39" y1="261.30" x2="415.39" y2="259.30" stroke="#d2d2d2" stroke-width="0.8" />
<line x1="417.60" y1="261.30" x2="417.60" y2="257.30" stroke="#d2d2d2" stroke-width="0.8" />
<line x1="432.11" y1="261.30" x2="432.11" y2="259.30" stroke="#d2d2d2" stroke-width="0.8" />
<line x1="440.60" y1="261.30" x2="440.60" y2="259.30" stroke="#d2d2d2" stroke-width="0.8" />
<line x1="446.62" y1="261.30" x2="446.62" y2="259.30" stroke="#d2d2d2" stroke-width="0.8" />
<line x1="451.29" y1="261.30" x2="451.29" y2="259.30" stroke="#d2d2d2" stroke-width="0.8" />
<line x1="455.11" y1="261.30" x2="455.11" y2="259.30" stroke="#d2d2d2" stroke-width="0.8" />
<line x1="458.33" y1="261.30" x2="458.33" y2="259.30" stroke="#d2d2d2" stroke-width="0.8" />
<line x1="461.13" y1="261.30" x2="461.13" y2="259.30" stroke="#d2d2d2" stroke-width="0.8" />
<line x1="463.59" y1="261.30" x2="463.59" y2="259.30" stroke="#d2d2d2" stroke-width="0.8" />
<line x1="465.80" y1="261.30" x2="465.80" y2="257.30" stroke="#d2d2d2" stroke-width="0.8" />
<line x1="480.31" y1="261.30" x2="480.31" y2="259.30" stroke="#d2d2d2" stroke-width="0.8" />
<line x1="488.80" y1="261.30" x2="488.80" y2="259.30" stroke="#d2d2d2" stroke-width="0.8" />
<line x1="494.82" y1="261.30" x2="494.82" y2="259.30" stroke="#d2d2d2" stroke-width="0.8" />
<line x1="499.49" y1="261.30" x2="499.49" y2="259.30" stroke="#d2d2d2" stroke-width="0.8" />
<line x1="503.31" y1="261.30" x2="503.31" y2="259.30" stroke="#d2d2d2" stroke-width="0.8" />
<line x1="506.53" y1="261.30" x2="506.53" y2="259.30" stroke="#d2d2d2" stroke-width="0.8" />
<line x1="509.33" y1="261.30" x2="509.33" y2="259.30" stroke="#d2d2d2" stroke-width="0.8" />
<line x1="511.79" y1="261.30" x2="511.79" y2="259.30" stroke="#d2d2d2" stroke-width="0.8" />
<line x1="514.00" y1="261.30" x2="514.00" y2="257.30" stroke="#d2d2d2" stroke-width="0.8" />
<line x1="312.00" y1="20.00" x2="316.00" y2="20.00" stroke="#d2d2d2" stroke-width="0.8" />
<line x1="517.40" y1="20.00" x2="513.40" y2="20.00" stroke="#d2d2d2" stroke-width="0.8" />
<line x1="312.00" y1="48.38" x2="316.00" y2="48.38" stroke="#d2d2d2" stroke-width="0.8" />
<line x1="517.40" y1="48.38" x2="513.40" y2="48.38" stroke="#d2d2d2" stroke-width="0.8" />
<line x1="312.00" y1="76.76" x2="316.00" y2="76.76" stroke="#d2d2d2" stroke-width="0.8" />
<line x1="517.40" y1="76.76" x2="513.40" y2="76.76" stroke="#d2d2d2" stroke-width="0.8" />
<line x1="312.00" y1="105.14" x2="316.00" y2="105.14" stroke="#d2d2d2" stroke-width="0.8" />
<line x1="517.40" y1="105.14" x2="513.40" y2="105.14" stroke="#d2d2d2" stroke-width="0.8" />
<line x1="312.00" y1="133.52" x2="316.00" y2="133.52" stroke="#d2d2d2" stroke-width="0.8" />
<line x1="517.40" y1="133.52" x2="513.40" y2="133.52" stroke="#d2d2d2" stroke-width="0.8" />
<line x1="312.00" y1="161.90" x2="316.00" y2="161.90" stroke="#d2d2d2" stroke-width="0.8" />
<line x1="517.40" y1="161.90" x2="513.40" y2="161.90" stroke="#d2d2d2" stroke-width="0.8" />
<line x1="312.00" y1="190.28" x2="316.00" y2="190.28" stroke="#d2d2d2" stroke-width="0.8" />
<line x1="517.40" y1="190.28" x2="513.40" y2="190.28" stroke="#d2d2d2" stroke-width="0.8" />
<line x1="312.00" y1="260.80" x2="316.00" y2="260.80" stroke="#d2d2d2" stroke-width="0.8" />
<line x1="517.40" y1="260.80" x2="513.40" y2="260.80" stroke="#d2d2d2" stroke-width="0.8" />
<line x1="312.00" y1="256.45" x2="314.00" y2="256.45" stroke="#d2d2d2" stroke-width="0.8" />
<line x1="517.40" y1="256.45" x2="515.40" y2="256.45" stroke="#d2d2d2" stroke-width="0.8" />
<line x1="312.00" y1="252.10" x2="314.00" y2="252.10" stroke="#d2d2d2" stroke-width="0.8" />
<line x1="517.40" y1="252.10" x2="515.40" y2="252.10" stroke="#d2d2d2" stroke-width="0.8" />
<line x1="312.00" y1="247.75" x2="314.00" y2="247.75" stroke="#d2d2d2" stroke-width="0.8" />
<line x1="517.40" y1="247.75" x2="515.40" y2="247.75" stroke="#d2d2d2" stroke-width="0.8" />
<line x1="312.00" y1="243.40" x2="316.00" y2="243.40" stroke="#d2d2d2" stroke-width="0.8" />
<line x1="517.40" y1="243.40" x2="513.40" y2="243.40" stroke="#d2d2d2" stroke-width="0.8" />
<line x1="312.00" y1="239.05" x2="314.00" y2="239.05" stroke="#d2d2d2" stroke-width="0.8" />
<line x1="517.40" y1="239.05" x2="515.40" y2="239.05" stroke="#d2d2d2" stroke-width="0.8" />
<line x1="312.00" y1="234.70" x2="314.00" y2="234.70" stroke="#d2d2d2" stroke-width="0.8" />
<line x1="517.40" y1="234.70" x2="515.40" y2="234.70" stroke="#d2d2d2" stroke-width="0.8" />
<line x1="312.00" y1="230.35" x2="314.00" y2="230.35" stroke="#d2d2d2" stroke-width="0.8" />
<line x1="517.40" y1="230.35" x2="515.40" y2="230.35" stroke="#d2d2d2" stroke-width="0.8" />
<line x1="312.00" y1="226.00" x2="316.00" y2="226.00" stroke="#d2d2d2" stroke-width="0.8" />
<line x1="517.40" y1="226.00" x2="513.40" y2="226.00" stroke="#d2d2d2" stroke-width="0.8" />
<line x1="312.00" y1="221.65" x2="314.00" y2="221.65" stroke="#d2d2d2" stroke-width="0.8" />
<line x1="517.40" y1="221.65" x2="515.40" y2="221.65" stroke="#d2d2d2" stroke-width="0.8" />
<line x1="312.00" y1="217.30" x2="314.00" y2="217.30" stroke="#d2d2d2" stroke-width="0.8" />
<line x1="517.40" y1="217.30" x2="515.40" y2="217.30" stroke="#d2d2d2" stroke-width="0.8" />
<line x1="312.00" y1="212.95" x2="314.00" y2="212.95" stroke="#d2d2d2" stroke-width="0.8" />
<line x1="517.40" y1="212.95" x2="515.40" y2="212.95" stroke="#d2d2d2" stroke-width="0.8" />
<line x1="312.00" y1="208.60" x2="316.00" y2="208.60" stroke="#d2d2d2" stroke-width="0.8" />
<line x1="517.40" y1="208.60" x2="513.40" y2="208.60" stroke="#d2d2d2" stroke-width="0.8" />
<line x1="312.00" y1="204.25" x2="314.00" y2="204.25" stroke="#d2d2d2" stroke-width="0.8" />
<line x1="517.40" y1="204.25" x2="515.40" y2="204.25" stroke="#d2d2d2" stroke-width="0.8" />
<line x1="312.00" y1="199.90" x2="314.00" y2="199.90" stroke="#d2d2d2" stroke-width="0.8" />
<line x1="517.40" y1="199.90" x2="515.40" y2="199.90" stroke="#d2d2d2" stroke-width="0.8" />
<line x1="312.00" y1="195.55" x2="314.00" y2="195.55" stroke="#d2d2d2" stroke-width="0.8" />
<line x1="517.40" y1="195.55" x2="515.40" y2="195.55" stroke="#d2d2d2" stroke-width="0.8" />
<line x1="312.00" y1="226.40" x2="517.40" y2="226.40" stroke="#ff9a9a" stroke-width="0.9" stroke-dasharray="3.5,4.1"/>
<text x="309.9" y="23.30" font-family="Liberation Serif" font-size="11.3" fill="#000" text-anchor="end">10<tspan dy="-5.0" font-size="6.8" letter-spacing="-0.5">0</tspan></text>
<text x="309.9" y="51.68" font-family="Liberation Serif" font-size="11.3" fill="#000" text-anchor="end">10<tspan dy="-5.0" font-size="6.8" letter-spacing="-0.5">-1</tspan></text>
<text x="309.9" y="80.06" font-family="Liberation Serif" font-size="11.3" fill="#000" text-anchor="end">10<tspan dy="-5.0" font-size="6.8" letter-spacing="-0.5">-2</tspan></text>
<text x="309.9" y="108.44" font-family="Liberation Serif" font-size="11.3" fill="#000" text-anchor="end">10<tspan dy="-5.0" font-size="6.8" letter-spacing="-0.5">-3</tspan></text>
<text x="309.9" y="136.82" font-family="Liberation Serif" font-size="11.3" fill="#000" text-anchor="end">10<tspan dy="-5.0" font-size="6.8" letter-spacing="-0.5">-4</tspan></text>
<text x="309.9" y="165.20" font-family="Liberation Serif" font-size="11.3" fill="#000" text-anchor="end">10<tspan dy="-5.0" font-size="6.8" letter-spacing="-0.5">-5</tspan></text>
<text x="309.9" y="193.58" font-family="Liberation Serif" font-size="11.3" fill="#000" text-anchor="end">10<tspan dy="-5.0" font-size="6.8" letter-spacing="-0.5">-6</tspan></text>
<text x="307.50" y="199.30" font-family="Liberation Serif" font-size="13.5" text-anchor="end" fill="#000" >4</text>
<text x="307.50" y="214.20" font-family="Liberation Serif" font-size="13.5" text-anchor="end" fill="#000" >2</text>
<text x="307.50" y="230.90" font-family="Liberation Serif" font-size="13.5" text-anchor="end" fill="#000" >0</text>
<text x="307.50" y="247.90" font-family="Liberation Serif" font-size="13.5" text-anchor="end" fill="#000" >-2</text>
<text x="307.50" y="262.20" font-family="Liberation Serif" font-size="13.5" text-anchor="end" fill="#000" >-4</text>
<text x="312.70" y="279.8" font-family="Liberation Serif" font-size="14.6" fill="#000">10<tspan dy="-7.0" font-size="8.6">1</tspan></text>
<text x="360.90" y="279.8" font-family="Liberation Serif" font-size="14.6" fill="#000">10<tspan dy="-7.0" font-size="8.6">2</tspan></text>
<text x="409.10" y="279.8" font-family="Liberation Serif" font-size="14.6" fill="#000">10<tspan dy="-7.0" font-size="8.6">3</tspan></text>
<text x="457.30" y="279.8" font-family="Liberation Serif" font-size="14.6" fill="#000">10<tspan dy="-7.0" font-size="8.6">4</tspan></text>
<text x="505.50" y="279.8" font-family="Liberation Serif" font-size="14.6" fill="#000">10<tspan dy="-7.0" font-size="8.6">5</tspan></text>
<text x="416.00" y="293.60" font-family="Liberation Serif" font-size="14.6" text-anchor="middle" fill="#000" >Energy (keV)</text>
<text transform="translate(284.4,96.3) rotate(-90)" font-family="Liberation Serif" font-size="10.5" text-anchor="middle" fill="#000">photon cm<tspan dy="-3.6" font-size="7">-2</tspan><tspan dy="3.6"> s</tspan><tspan dy="-3.6" font-size="7">-1</tspan><tspan dy="3.6"> keV</tspan><tspan dy="-3.6" font-size="7">-1</tspan></text>
<text transform="translate(286.8,227) rotate(-90)" font-family="Liberation Serif" font-size="14.2" text-anchor="middle" fill="#000">Residuals</text>
<path d="M312.00,39.80 L312.50,39.53 L313.00,39.26 L313.50,38.99 L314.00,38.71 L314.50,38.44 L315.00,38.16 L315.50,37.88 L316.00,37.60 L316.50,37.32 L317.00,37.03 L317.50,36.75 L318.00,36.46 L318.50,36.17 L319.00,35.88 L319.50,35.59 L320.00,35.30 L320.50,35.00 L321.00,34.70 L321.50,34.39 L322.00,34.08 L322.50,33.77 L323.00,33.45 L323.50,33.13 L324.00,32.81 L324.50,32.49 L325.00,32.16 L325.50,31.84 L326.00,31.52 L326.50,31.21 L327.00,30.89 L327.50,30.58 L328.00,30.28 L328.50,29.98 L329.00,29.68 L329.50,29.39 L330.00,29.11 L330.50,28.84 L331.00,28.56 L331.50,28.29 L332.00,28.02 L332.50,27.75 L333.00,27.48 L333.50,27.22 L334.00,26.95 L334.50,26.69 L335.00,26.43 L335.50,26.17 L336.00,25.92 L336.50,25.67 L337.00,25.42 L337.50,25.17 L338.00,24.93 L338.50,24.69 L339.00,24.45 L339.50,24.21 L340.00,23.98 L340.50,23.76 L341.00,23.53 L341.50,23.31 L342.00,23.10 L342.50,22.89 L343.00,22.68 L343.50,22.48 L344.00,22.28 L344.50,22.09 L345.00,21.89 L345.50,21.70 L346.00,21.51 L346.50,21.33 L347.00,21.14 L347.50,20.96 L348.00,20.78 L348.50,20.61 L349.00,20.43 L349.50,20.26 L350.00,20.09 L350.50,19.93 L351.00,19.76 L351.50,19.60 L352.00,19.44 L352.50,19.29 L353.00,19.13 L353.50,18.98 L354.00,18.84 L354.50,18.69 L355.00,18.55 L355.50,18.41 L356.00,18.28 L356.50,18.15 L357.00,18.01 L357.50,17.86 L358.00,17.71 L358.50,17.56 L359.00,17.41 L359.50,17.27 L360.00,17.13 L360.50,16.99 L361.00,16.87 L361.50,16.76 L362.00,16.67 L362.50,16.60 L363.00,16.54 L363.50,16.51 L364.00,16.50 L364.50,16.51 L365.00,16.52 L365.50,16.55 L366.00,16.58 L366.50,16.63 L367.00,16.67 L367.50,16.73 L368.00,16.79 L368.50,16.86 L369.00,16.93 L369.50,17.00 L370.00,17.08 L370.50,17.16 L371.00,17.24 L371.50,17.32 L372.00,17.40 L372.50,17.49 L373.00,17.59 L373.50,17.70 L374.00,17.83 L374.50,17.96 L375.00,18.11 L375.50,18.26 L376.00,18.42 L376.50,18.59 L377.00,18.76 L377.50,18.94 L378.00,19.13 L378.50,19.34 L379.00,19.56 L379.50,19.80 L380.00,20.06 L380.50,20.32 L381.00,20.59 L381.50,20.87 L382.00,21.16 L382.50,21.45 L383.00,21.74 L383.50,22.03 L384.00,22.33 L384.50,22.62 L385.00,22.90 L385.50,23.18 L386.00,23.47 L386.50,23.76 L387.00,24.05 L387.50,24.34 L388.00,24.64 L388.50,24.94 L389.00,25.24 L389.50,25.54 L390.00,25.85 L390.50,26.16 L391.00,26.47 L391.50,26.78 L392.00,27.10 L392.50,27.42 L393.00,27.74 L393.50,28.07 L394.00,28.39 L394.50,28.73 L395.00,29.06 L395.50,29.40 L396.00,29.74 L396.50,30.09 L397.00,30.43 L397.50,30.78 L398.00,31.14 L398.50,31.49 L399.00,31.85 L399.50,32.21 L400.00,32.58 L400.50,32.94 L401.00,33.31 L401.50,33.68 L402.00,34.05 L402.50,34.42 L403.00,34.80 L403.50,35.19 L404.00,35.58 L404.50,35.97 L405.00,36.36 L405.50,36.75 L406.00,37.15 L406.50,37.55 L407.00,37.95 L407.50,38.35 L408.00,38.76 L408.50,39.16 L409.00,39.56 L409.50,39.96 L410.00,40.36 L410.50,40.76 L411.00,41.15 L411.50,41.54 L412.00,41.92 L412.50,42.30 L413.00,42.68 L413.50,43.05 L414.00,43.43 L414.50,43.81 L415.00,44.19 L415.50,44.57 L416.00,44.95 L416.50,45.35 L417.00,45.74 L417.50,46.15 L418.00,46.56 L418.50,46.99 L419.00,47.42 L419.50,47.87 L420.00,48.33 L420.50,48.81 L421.00,49.30 L421.50,49.81 L422.00,50.35 L422.50,50.91 L423.00,51.49 L423.50,52.09 L424.00,52.69 L424.50,53.31 L425.00,53.94 L425.50,54.57 L426.00,55.21 L426.50,55.84 L427.00,56.47 L427.50,57.10 L428.00,57.73 L428.50,58.36 L429.00,58.99 L429.50,59.63 L430.00,60.28 L430.50,60.93 L431.00,61.60 L431.50,62.28 L432.00,62.98 L432.50,63.70 L433.00,64.44 L433.50,65.20 L434.00,65.98 L434.50,66.79 L435.00,67.62 L435.50,68.47 L436.00,69.34 L436.50,70.25 L437.00,71.18 L437.50,72.14 L438.00,73.14 L438.50,74.17 L439.00,75.24 L439.50,76.40 L440.00,77.64 L440.50,78.94 L441.00,80.27 L441.50,81.59 L442.00,82.89 L442.50,84.15 L443.00,85.38 L443.50,86.62 L444.00,87.88 L444.50,89.19 L445.00,90.54 L445.50,91.91 L446.00,93.29 L446.50,94.66 L447.00,96.00 L447.50,97.31 L448.00,98.62 L448.50,99.95 L449.00,101.33 L449.50,102.78 L450.00,104.31 L450.50,105.89 L451.00,107.52 L451.50,109.17 L452.00,110.84 L452.50,112.54 L453.00,114.28 L453.50,116.06 L454.00,117.90 L454.50,119.81 L455.00,121.79 L455.50,123.82 L456.00,125.87 L456.50,127.92 L457.00,130.00 L457.50,132.10 L458.00,134.22 L458.50,136.34 L459.00,138.49 L459.50,140.65 L460.00,142.86 L460.50,145.10 L461.00,147.40 L461.50,149.74 L462.00,152.11 L462.50,154.49 L463.00,156.87 L463.50,159.20 L464.00,161.51 L464.50,163.87 L465.00,166.36 L465.50,169.06 L466.00,172.05 L466.50,175.27 L467.00,178.60 L467.50,181.94 L468.00,185.35 L468.50,188.86 L468.80,191.00" stroke="#ff3c3c" stroke-width="1.05" fill="none" />
<line x1="329.60" y1="24.00" x2="329.60" y2="30.00" stroke="#5a5a5a" stroke-width="0.8" />
<line x1="328.40" y1="27.00" x2="330.80" y2="27.00" stroke="#5a5a5a" stroke-width="0.8" />
<line x1="356.50" y1="13.80" x2="356.50" y2="19.80" stroke="#5a5a5a" stroke-width="0.8" />
<line x1="355.30" y1="16.80" x2="357.70" y2="16.80" stroke="#5a5a5a" stroke-width="0.8" />
<line x1="361.40" y1="12.00" x2="361.40" y2="16.80" stroke="#5a5a5a" stroke-width="0.8" />
<line x1="360.20" y1="14.40" x2="362.60" y2="14.40" stroke="#5a5a5a" stroke-width="0.8" />
<line x1="363.90" y1="18.80" x2="363.90" y2="24.20" stroke="#5a5a5a" stroke-width="0.8" />
<line x1="362.70" y1="21.50" x2="365.10" y2="21.50" stroke="#5a5a5a" stroke-width="0.8" />
<line x1="365.30" y1="13.80" x2="365.30" y2="18.60" stroke="#5a5a5a" stroke-width="0.8" />
<line x1="364.10" y1="16.20" x2="366.50" y2="16.20" stroke="#5a5a5a" stroke-width="0.8" />
<line x1="369.20" y1="16.20" x2="369.20" y2="23.20" stroke="#5a5a5a" stroke-width="0.8" />
<line x1="368.00" y1="19.70" x2="370.40" y2="19.70" stroke="#5a5a5a" stroke-width="0.8" />
<line x1="370.60" y1="12.40" x2="370.60" y2="16.00" stroke="#5a5a5a" stroke-width="0.8" />
<line x1="369.40" y1="14.20" x2="371.80" y2="14.20" stroke="#5a5a5a" stroke-width="0.8" />
<line x1="373.20" y1="12.60" x2="373.20" y2="16.20" stroke="#5a5a5a" stroke-width="0.8" />
<line x1="372.00" y1="14.40" x2="374.40" y2="14.40" stroke="#5a5a5a" stroke-width="0.8" />
<line x1="373.60" y1="18.90" x2="373.60" y2="22.90" stroke="#5a5a5a" stroke-width="0.8" />
<line x1="372.40" y1="20.90" x2="374.80" y2="20.90" stroke="#5a5a5a" stroke-width="0.8" />
<line x1="376.20" y1="19.10" x2="376.20" y2="23.90" stroke="#5a5a5a" stroke-width="0.8" />
<line x1="375.00" y1="21.50" x2="377.40" y2="21.50" stroke="#5a5a5a" stroke-width="0.8" />
<line x1="378.30" y1="16.20" x2="378.30" y2="21.00" stroke="#5a5a5a" stroke-width="0.8" />
<line x1="377.10" y1="18.60" x2="379.50" y2="18.60" stroke="#5a5a5a" stroke-width="0.8" />
<line x1="380.40" y1="16.00" x2="380.40" y2="20.00" stroke="#5a5a5a" stroke-width="0.8" />
<line x1="379.20" y1="18.00" x2="381.60" y2="18.00" stroke="#5a5a5a" stroke-width="0.8" />
<line x1="380.90" y1="20.30" x2="380.90" y2="25.10" stroke="#5a5a5a" stroke-width="0.8" />
<line x1="379.70" y1="22.70" x2="382.10" y2="22.70" stroke="#5a5a5a" stroke-width="0.8" />
<line x1="382.80" y1="14.40" x2="382.80" y2="18.00" stroke="#5a5a5a" stroke-width="0.8" />
<line x1="381.60" y1="16.20" x2="384.00" y2="16.20" stroke="#5a5a5a" stroke-width="0.8" />
<line x1="383.60" y1="22.70" x2="383.60" y2="26.30" stroke="#5a5a5a" stroke-width="0.8" />
<line x1="382.40" y1="24.50" x2="384.80" y2="24.50" stroke="#5a5a5a" stroke-width="0.8" />
<line x1="385.30" y1="22.00" x2="385.30" y2="25.60" stroke="#5a5a5a" stroke-width="0.8" />
<line x1="384.10" y1="23.80" x2="386.50" y2="23.80" stroke="#5a5a5a" stroke-width="0.8" />
<line x1="387.50" y1="25.50" x2="387.50" y2="28.90" stroke="#5a5a5a" stroke-width="0.8" />
<line x1="386.30" y1="27.20" x2="388.70" y2="27.20" stroke="#5a5a5a" stroke-width="0.8" />
<line x1="389.20" y1="27.10" x2="389.20" y2="30.50" stroke="#5a5a5a" stroke-width="0.8" />
<line x1="388.00" y1="28.80" x2="390.40" y2="28.80" stroke="#5a5a5a" stroke-width="0.8" />
<line x1="390.90" y1="22.10" x2="390.90" y2="25.50" stroke="#5a5a5a" stroke-width="0.8" />
<line x1="389.70" y1="23.80" x2="392.10" y2="23.80" stroke="#5a5a5a" stroke-width="0.8" />
<line x1="391.70" y1="24.20" x2="391.70" y2="26.80" stroke="#5a5a5a" stroke-width="0.8" />
<line x1="390.50" y1="25.50" x2="392.90" y2="25.50" stroke="#5a5a5a" stroke-width="0.8" />
<line x1="395.10" y1="26.30" x2="395.10" y2="29.70" stroke="#5a5a5a" stroke-width="0.8" />
<line x1="393.90" y1="28.00" x2="396.30" y2="28.00" stroke="#5a5a5a" stroke-width="0.8" />
<line x1="396.40" y1="32.30" x2="396.40" y2="36.50" stroke="#5a5a5a" stroke-width="0.8" />
<line x1="395.20" y1="34.40" x2="397.60" y2="34.40" stroke="#5a5a5a" stroke-width="0.8" />
<line x1="397.10" y1="28.00" x2="397.10" y2="31.40" stroke="#5a5a5a" stroke-width="0.8" />
<line x1="395.90" y1="29.70" x2="398.30" y2="29.70" stroke="#5a5a5a" stroke-width="0.8" />
<line x1="398.80" y1="28.00" x2="398.80" y2="31.40" stroke="#5a5a5a" stroke-width="0.8" />
<line x1="397.60" y1="29.70" x2="400.00" y2="29.70" stroke="#5a5a5a" stroke-width="0.8" />
<line x1="401.30" y1="35.50" x2="401.30" y2="39.70" stroke="#5a5a5a" stroke-width="0.8" />
<line x1="400.10" y1="37.60" x2="402.50" y2="37.60" stroke="#5a5a5a" stroke-width="0.8" />
<line x1="404.90" y1="40.50" x2="404.90" y2="44.70" stroke="#5a5a5a" stroke-width="0.8" />
<line x1="403.70" y1="42.60" x2="406.10" y2="42.60" stroke="#5a5a5a" stroke-width="0.8" />
<line x1="405.50" y1="28.00" x2="405.50" y2="33.00" stroke="#5a5a5a" stroke-width="0.8" />
<line x1="404.30" y1="30.50" x2="406.70" y2="30.50" stroke="#5a5a5a" stroke-width="0.8" />
<line x1="407.70" y1="34.00" x2="407.70" y2="38.20" stroke="#5a5a5a" stroke-width="0.8" />
<line x1="406.50" y1="36.10" x2="408.90" y2="36.10" stroke="#5a5a5a" stroke-width="0.8" />
<line x1="411.90" y1="36.40" x2="411.90" y2="41.40" stroke="#5a5a5a" stroke-width="0.8" />
<line x1="410.70" y1="38.90" x2="413.10" y2="38.90" stroke="#5a5a5a" stroke-width="0.8" />
<line x1="413.30" y1="34.70" x2="413.30" y2="38.10" stroke="#5a5a5a" stroke-width="0.8" />
<line x1="412.10" y1="36.40" x2="414.50" y2="36.40" stroke="#5a5a5a" stroke-width="0.8" />
<line x1="414.50" y1="28.00" x2="414.50" y2="33.00" stroke="#5a5a5a" stroke-width="0.8" />
<line x1="413.30" y1="30.50" x2="415.70" y2="30.50" stroke="#5a5a5a" stroke-width="0.8" />
<line x1="414.00" y1="44.00" x2="414.00" y2="47.40" stroke="#5a5a5a" stroke-width="0.8" />
<line x1="412.80" y1="45.70" x2="415.20" y2="45.70" stroke="#5a5a5a" stroke-width="0.8" />
<line x1="417.30" y1="48.20" x2="417.30" y2="51.60" stroke="#5a5a5a" stroke-width="0.8" />
<line x1="416.10" y1="49.90" x2="418.50" y2="49.90" stroke="#5a5a5a" stroke-width="0.8" />
<line x1="421.20" y1="49.90" x2="421.20" y2="53.30" stroke="#5a5a5a" stroke-width="0.8" />
<line x1="420.00" y1="51.60" x2="422.40" y2="51.60" stroke="#5a5a5a" stroke-width="0.8" />
<line x1="425.40" y1="51.40" x2="425.40" y2="54.00" stroke="#5a5a5a" stroke-width="0.8" />
<line x1="424.20" y1="52.70" x2="426.60" y2="52.70" stroke="#5a5a5a" stroke-width="0.8" />
<line x1="430.10" y1="55.00" x2="430.10" y2="59.20" stroke="#5a5a5a" stroke-width="0.8" />
<line x1="428.90" y1="57.10" x2="431.30" y2="57.10" stroke="#5a5a5a" stroke-width="0.8" />
<line x1="436.30" y1="63.10" x2="436.30" y2="67.10" stroke="#5a5a5a" stroke-width="0.8" />
<line x1="435.10" y1="65.10" x2="437.50" y2="65.10" stroke="#5a5a5a" stroke-width="0.8" />
<line x1="446.40" y1="92.10" x2="446.40" y2="96.10" stroke="#5a5a5a" stroke-width="0.8" />
<line x1="445.20" y1="94.10" x2="447.60" y2="94.10" stroke="#5a5a5a" stroke-width="0.8" />
<line x1="459.80" y1="114.40" x2="459.80" y2="119.40" stroke="#5a5a5a" stroke-width="0.8" />
<line x1="458.60" y1="116.90" x2="461.00" y2="116.90" stroke="#5a5a5a" stroke-width="0.8" />
<line x1="327.40" y1="218.20" x2="331.80" y2="218.20" stroke="#8c8c8c" stroke-width="0.8" />
<line x1="329.60" y1="216.00" x2="329.60" y2="220.40" stroke="#8c8c8c" stroke-width="0.8" />
<line x1="327.40" y1="222.30" x2="331.80" y2="222.30" stroke="#8c8c8c" stroke-width="0.8" />
<line x1="329.60" y1="220.10" x2="329.60" y2="224.50" stroke="#8c8c8c" stroke-width="0.8" />
<line x1="353.90" y1="221.70" x2="358.30" y2="221.70" stroke="#8c8c8c" stroke-width="0.8" />
<line x1="356.10" y1="219.50" x2="356.10" y2="223.90" stroke="#8c8c8c" stroke-width="0.8" />
<line x1="354.40" y1="227.30" x2="358.80" y2="227.30" stroke="#8c8c8c" stroke-width="0.8" />
<line x1="356.60" y1="225.10" x2="356.60" y2="229.50" stroke="#8c8c8c" stroke-width="0.8" />
<line x1="358.70" y1="218.20" x2="363.10" y2="218.20" stroke="#8c8c8c" stroke-width="0.8" />
<line x1="360.90" y1="216.00" x2="360.90" y2="220.40" stroke="#8c8c8c" stroke-width="0.8" />
<line x1="361.30" y1="243.10" x2="365.70" y2="243.10" stroke="#8c8c8c" stroke-width="0.8" />
<line x1="363.50" y1="240.90" x2="363.50" y2="245.30" stroke="#8c8c8c" stroke-width="0.8" />
<line x1="362.80" y1="221.30" x2="367.20" y2="221.30" stroke="#8c8c8c" stroke-width="0.8" />
<line x1="365.00" y1="219.10" x2="365.00" y2="223.50" stroke="#8c8c8c" stroke-width="0.8" />
<line x1="366.40" y1="226.30" x2="370.80" y2="226.30" stroke="#8c8c8c" stroke-width="0.8" />
<line x1="368.60" y1="224.10" x2="368.60" y2="228.50" stroke="#8c8c8c" stroke-width="0.8" />
<line x1="367.40" y1="236.40" x2="371.80" y2="236.40" stroke="#8c8c8c" stroke-width="0.8" />
<line x1="369.60" y1="234.20" x2="369.60" y2="238.60" stroke="#8c8c8c" stroke-width="0.8" />
<line x1="368.40" y1="220.30" x2="372.80" y2="220.30" stroke="#8c8c8c" stroke-width="0.8" />
<line x1="370.60" y1="218.10" x2="370.60" y2="222.50" stroke="#8c8c8c" stroke-width="0.8" />
<line x1="370.80" y1="215.20" x2="375.20" y2="215.20" stroke="#8c8c8c" stroke-width="0.8" />
<line x1="373.00" y1="213.00" x2="373.00" y2="217.40" stroke="#8c8c8c" stroke-width="0.8" />
<line x1="371.40" y1="232.00" x2="375.80" y2="232.00" stroke="#8c8c8c" stroke-width="0.8" />
<line x1="373.60" y1="229.80" x2="373.60" y2="234.20" stroke="#8c8c8c" stroke-width="0.8" />
<line x1="373.80" y1="235.40" x2="378.20" y2="235.40" stroke="#8c8c8c" stroke-width="0.8" />
<line x1="376.00" y1="233.20" x2="376.00" y2="237.60" stroke="#8c8c8c" stroke-width="0.8" />
<line x1="374.50" y1="226.90" x2="378.90" y2="226.90" stroke="#8c8c8c" stroke-width="0.8" />
<line x1="376.70" y1="224.70" x2="376.70" y2="229.10" stroke="#8c8c8c" stroke-width="0.8" />
<line x1="376.40" y1="221.70" x2="380.80" y2="221.70" stroke="#8c8c8c" stroke-width="0.8" />
<line x1="378.60" y1="219.50" x2="378.60" y2="223.90" stroke="#8c8c8c" stroke-width="0.8" />
<line x1="377.80" y1="233.40" x2="382.20" y2="233.40" stroke="#8c8c8c" stroke-width="0.8" />
<line x1="380.00" y1="231.20" x2="380.00" y2="235.60" stroke="#8c8c8c" stroke-width="0.8" />
<line x1="378.50" y1="216.20" x2="382.90" y2="216.20" stroke="#8c8c8c" stroke-width="0.8" />
<line x1="380.70" y1="214.00" x2="380.70" y2="218.40" stroke="#8c8c8c" stroke-width="0.8" />
<line x1="380.50" y1="213.80" x2="384.90" y2="213.80" stroke="#8c8c8c" stroke-width="0.8" />
<line x1="382.70" y1="211.60" x2="382.70" y2="216.00" stroke="#8c8c8c" stroke-width="0.8" />
<line x1="380.80" y1="231.40" x2="385.20" y2="231.40" stroke="#8c8c8c" stroke-width="0.8" />
<line x1="383.00" y1="229.20" x2="383.00" y2="233.60" stroke="#8c8c8c" stroke-width="0.8" />
<line x1="382.90" y1="226.30" x2="387.30" y2="226.30" stroke="#8c8c8c" stroke-width="0.8" />
<line x1="385.10" y1="224.10" x2="385.10" y2="228.50" stroke="#8c8c8c" stroke-width="0.8" />
<line x1="384.90" y1="235.00" x2="389.30" y2="235.00" stroke="#8c8c8c" stroke-width="0.8" />
<line x1="387.10" y1="232.80" x2="387.10" y2="237.20" stroke="#8c8c8c" stroke-width="0.8" />
<line x1="385.30" y1="220.90" x2="389.70" y2="220.90" stroke="#8c8c8c" stroke-width="0.8" />
<line x1="387.50" y1="218.70" x2="387.50" y2="223.10" stroke="#8c8c8c" stroke-width="0.8" />
<line x1="387.30" y1="234.40" x2="391.70" y2="234.40" stroke="#8c8c8c" stroke-width="0.8" />
<line x1="389.50" y1="232.20" x2="389.50" y2="236.60" stroke="#8c8c8c" stroke-width="0.8" />
<line x1="388.60" y1="221.30" x2="393.00" y2="221.30" stroke="#8c8c8c" stroke-width="0.8" />
<line x1="390.80" y1="219.10" x2="390.80" y2="223.50" stroke="#8c8c8c" stroke-width="0.8" />
<line x1="390.00" y1="219.20" x2="394.40" y2="219.20" stroke="#8c8c8c" stroke-width="0.8" />
<line x1="392.20" y1="217.00" x2="392.20" y2="221.40" stroke="#8c8c8c" stroke-width="0.8" />
<line x1="392.00" y1="220.90" x2="396.40" y2="220.90" stroke="#8c8c8c" stroke-width="0.8" />
<line x1="394.20" y1="218.70" x2="394.20" y2="223.10" stroke="#8c8c8c" stroke-width="0.8" />
<line x1="394.00" y1="220.90" x2="398.40" y2="220.90" stroke="#8c8c8c" stroke-width="0.8" />
<line x1="396.20" y1="218.70" x2="396.20" y2="223.10" stroke="#8c8c8c" stroke-width="0.8" />
<line x1="394.60" y1="224.30" x2="399.00" y2="224.30" stroke="#8c8c8c" stroke-width="0.8" />
<line x1="396.80" y1="222.10" x2="396.80" y2="226.50" stroke="#8c8c8c" stroke-width="0.8" />
<line x1="394.60" y1="241.10" x2="399.00" y2="241.10" stroke="#8c8c8c" stroke-width="0.8" />
<line x1="396.80" y1="238.90" x2="396.80" y2="243.30" stroke="#8c8c8c" stroke-width="0.8" />
<line x1="396.00" y1="220.90" x2="400.40" y2="220.90" stroke="#8c8c8c" stroke-width="0.8" />
<line x1="398.20" y1="218.70" x2="398.20" y2="223.10" stroke="#8c8c8c" stroke-width="0.8" />
<line x1="399.10" y1="237.40" x2="403.50" y2="237.40" stroke="#8c8c8c" stroke-width="0.8" />
<line x1="401.30" y1="235.20" x2="401.30" y2="239.60" stroke="#8c8c8c" stroke-width="0.8" />
<line x1="402.70" y1="249.10" x2="407.10" y2="249.10" stroke="#8c8c8c" stroke-width="0.8" />
<line x1="404.90" y1="246.90" x2="404.90" y2="251.30" stroke="#8c8c8c" stroke-width="0.8" />
<line x1="403.10" y1="209.50" x2="407.50" y2="209.50" stroke="#8c8c8c" stroke-width="0.8" />
<line x1="405.30" y1="207.30" x2="405.30" y2="211.70" stroke="#8c8c8c" stroke-width="0.8" />
<line x1="406.10" y1="218.60" x2="410.50" y2="218.60" stroke="#8c8c8c" stroke-width="0.8" />
<line x1="408.30" y1="216.40" x2="408.30" y2="220.80" stroke="#8c8c8c" stroke-width="0.8" />
<line x1="408.80" y1="223.30" x2="413.20" y2="223.30" stroke="#8c8c8c" stroke-width="0.8" />
<line x1="411.00" y1="221.10" x2="411.00" y2="225.50" stroke="#8c8c8c" stroke-width="0.8" />
<line x1="411.60" y1="229.70" x2="416.00" y2="229.70" stroke="#8c8c8c" stroke-width="0.8" />
<line x1="413.80" y1="227.50" x2="413.80" y2="231.90" stroke="#8c8c8c" stroke-width="0.8" />
<line x1="415.20" y1="232.40" x2="419.60" y2="232.40" stroke="#8c8c8c" stroke-width="0.8" />
<line x1="417.40" y1="230.20" x2="417.40" y2="234.60" stroke="#8c8c8c" stroke-width="0.8" />
<line x1="419.30" y1="228.30" x2="423.70" y2="228.30" stroke="#8c8c8c" stroke-width="0.8" />
<line x1="421.50" y1="226.10" x2="421.50" y2="230.50" stroke="#8c8c8c" stroke-width="0.8" />
<line x1="423.30" y1="220.30" x2="427.70" y2="220.30" stroke="#8c8c8c" stroke-width="0.8" />
<line x1="425.50" y1="218.10" x2="425.50" y2="222.50" stroke="#8c8c8c" stroke-width="0.8" />
<line x1="427.80" y1="217.80" x2="432.20" y2="217.80" stroke="#8c8c8c" stroke-width="0.8" />
<line x1="430.00" y1="215.60" x2="430.00" y2="220.00" stroke="#8c8c8c" stroke-width="0.8" />
<line x1="434.00" y1="213.20" x2="438.40" y2="213.20" stroke="#8c8c8c" stroke-width="0.8" />
<line x1="436.20" y1="211.00" x2="436.20" y2="215.40" stroke="#8c8c8c" stroke-width="0.8" />
<text x="578.10" y="61.2" font-family="Liberation Sans" font-style="italic" font-size="8.0" text-anchor="middle" fill="#000">kT<tspan font-size="6.2" dy="1.5">min</tspan></text>
<text x="631.20" y="61.2" font-family="Liberation Sans" font-style="italic" font-size="8.0" text-anchor="middle" fill="#000">kT<tspan font-size="6.2" dy="1.5">max</tspan></text>
<text x="684.50" y="61.2" font-family="Liberation Sans" font-style="italic" font-size="8.0" text-anchor="middle" fill="#000">m</text>
<text x="737.70" y="61.2" font-family="Liberation Sans" font-style="italic" font-size="8.0" text-anchor="middle" fill="#000">logC</text>
<path d="M556.00,113.80 L556.00,112.91 L558.42,112.91 L558.42,111.94 L560.04,111.94 L560.04,110.81 L561.65,110.81 L561.65,109.20 L563.27,109.20 L563.27,105.96 L564.89,105.96 L564.89,100.31 L565.69,100.31 L565.69,97.89 L566.50,97.89 L566.50,88.19 L567.31,88.19 L567.31,97.08 L568.12,97.08 L568.12,84.96 L568.92,84.96 L568.92,83.35 L569.73,83.35 L569.73,80.12 L570.54,80.12 L570.54,75.27 L571.35,75.27 L571.35,74.46 L572.16,74.46 L572.16,72.04 L572.96,72.04 L572.96,73.65 L573.77,73.65 L573.77,71.23 L574.58,71.23 L574.58,72.85 L575.39,72.85 L575.39,71.55 L576.03,71.55 L576.00,72.04 L576.81,72.04 L576.81,72.85 L577.62,72.85 L577.62,74.46 L578.42,74.46 L578.42,76.89 L579.23,76.89 L579.23,77.69 L580.04,77.69 L580.04,80.92 L580.85,80.92 L580.85,85.77 L581.65,85.77 L581.65,92.23 L582.46,92.23 L582.46,97.08 L583.27,97.08 L583.27,100.31 L584.08,100.31 L584.08,104.35 L584.89,104.35 L584.89,105.96 L585.69,105.96 L585.69,107.58 L586.50,107.58 L586.50,108.39 L587.31,108.39 L587.31,109.68 L588.92,109.68 L588.92,111.30 L590.54,111.30 L590.54,112.26 L592.16,112.26 L592.16,112.75 L593.77,112.75 L593.77,113.80 Z" stroke="none" stroke-width="0" fill="#5f5f5f" />
<line x1="569.10" y1="111.60" x2="580.80" y2="111.60" stroke="#e42828" stroke-width="2.0" />
<rect x="556.1" y="69.8" width="44.0" height="44.0" fill="none" stroke="#c8c8c8" stroke-width="0.8"/>
<path d="M609.48,113.80 L609.48,111.94 L611.42,111.94 L611.42,110.33 L613.04,110.33 L613.04,106.77 L614.65,106.77 L614.65,100.31 L615.46,100.31 L615.46,93.85 L616.27,93.85 L616.27,85.77 L617.08,85.77 L617.08,80.12 L617.89,80.12 L617.89,76.89 L618.69,76.89 L618.69,75.27 L619.50,75.27 L619.50,73.65 L620.31,73.65 L620.31,75.27 L621.12,75.27 L621.12,76.89 L621.92,76.89 L621.92,74.46 L622.73,74.46 L622.73,71.23 L623.54,71.23 L623.54,76.89 L624.35,76.89 L624.35,71.23 L625.16,71.23 L625.16,76.08 L625.96,76.08 L625.96,77.69 L626.77,77.69 L626.77,79.31 L627.58,79.31 L627.58,81.73 L628.39,81.73 L628.39,84.96 L629.03,84.96 L629.00,84.96 L629.08,84.96 L629.08,87.39 L629.81,87.39 L629.81,94.66 L631.42,94.66 L631.42,100.31 L632.23,100.31 L632.23,104.35 L633.04,104.35 L633.04,105.96 L634.65,105.96 L634.65,106.77 L635.46,106.77 L635.46,108.39 L636.27,108.39 L636.27,110.33 L637.89,110.33 L637.89,111.30 L638.69,111.30 L638.69,111.62 L639.50,111.62 L639.50,110.97 L640.31,110.97 L640.31,111.94 L641.12,111.94 L641.12,111.30 L641.92,111.30 L641.92,112.43 L643.54,112.43 L643.54,111.94 L645.16,111.94 L645.16,112.75 L646.77,112.75 L646.77,113.80 Z" stroke="none" stroke-width="0" fill="#5f5f5f" />
<line x1="617.80" y1="111.60" x2="630.00" y2="111.60" stroke="#e42828" stroke-width="2.0" />
<rect x="609.2" y="69.8" width="44.0" height="44.0" fill="none" stroke="#c8c8c8" stroke-width="0.8"/>
<path d="M665.23,113.80 L665.23,112.59 L670.08,112.59 L670.08,111.94 L671.69,111.94 L671.69,111.30 L672.50,111.30 L672.50,110.81 L673.31,110.81 L673.31,109.20 L674.12,109.20 L674.12,106.77 L674.92,106.77 L674.92,104.35 L675.73,104.35 L675.73,100.31 L676.54,100.31 L676.54,98.69 L677.35,98.69 L677.35,96.27 L678.16,96.27 L678.16,92.23 L678.96,92.23 L678.96,89.00 L679.77,89.00 L679.77,85.77 L680.58,85.77 L680.58,83.35 L681.39,83.35 L681.39,80.92 L682.19,80.92 L682.19,74.46 L683.00,74.46 L682.00,74.46 L682.81,74.46 L682.81,70.42 L683.62,70.42 L683.62,77.69 L684.42,77.69 L684.42,79.31 L685.23,79.31 L685.23,75.27 L686.04,75.27 L686.04,76.08 L686.85,76.08 L686.85,74.46 L687.65,74.46 L687.65,76.89 L688.46,76.89 L688.46,79.31 L689.27,79.31 L689.27,81.73 L690.08,81.73 L690.08,83.35 L690.89,83.35 L690.89,86.58 L691.69,86.58 L691.69,89.81 L692.50,89.81 L692.50,93.85 L693.31,93.85 L693.31,97.08 L694.12,97.08 L694.12,100.31 L694.92,100.31 L694.92,102.73 L695.73,102.73 L695.73,105.16 L696.54,105.16 L696.54,106.77 L697.35,106.77 L697.35,108.39 L698.16,108.39 L698.16,110.33 L699.77,110.33 L699.77,111.30 L701.39,111.30 L701.39,111.94 L703.00,111.94 L703.00,112.59 L704.62,112.59 L704.62,113.80 Z" stroke="none" stroke-width="0" fill="#5f5f5f" />
<line x1="680.20" y1="111.60" x2="693.20" y2="111.60" stroke="#e42828" stroke-width="2.0" />
<rect x="662.5" y="69.8" width="44.0" height="44.0" fill="none" stroke="#c8c8c8" stroke-width="0.8"/>
<path d="M716.62,113.80 L716.62,112.59 L721.46,112.59 L721.46,111.94 L723.89,111.94 L723.89,111.30 L725.50,111.30 L725.50,110.33 L727.12,110.33 L727.12,108.39 L727.92,108.39 L727.92,105.16 L728.73,105.16 L728.73,107.58 L729.54,107.58 L729.54,106.77 L730.35,106.77 L730.35,100.31 L731.16,100.31 L731.16,98.69 L731.96,98.69 L731.96,97.89 L732.77,97.89 L732.77,96.27 L733.58,96.27 L733.58,93.85 L734.39,93.85 L734.39,89.00 L735.19,89.00 L735.19,87.39 L736.00,87.39 L736.00,82.54 L736.32,82.54 L736.00,80.12 L736.81,80.12 L736.81,77.69 L737.62,77.69 L737.62,75.27 L738.42,75.27 L738.42,72.85 L739.23,72.85 L739.23,70.42 L740.04,70.42 L740.04,75.27 L740.85,75.27 L740.85,71.23 L741.65,71.23 L741.65,74.46 L742.46,74.46 L742.46,71.23 L743.27,71.23 L743.27,74.46 L744.08,74.46 L744.08,72.85 L744.89,72.85 L744.89,75.27 L745.69,75.27 L745.69,78.50 L746.50,78.50 L746.50,84.16 L747.31,84.16 L747.31,90.62 L748.12,90.62 L748.12,97.89 L748.92,97.89 L748.92,102.73 L749.73,102.73 L749.73,106.77 L750.54,106.77 L750.54,109.20 L751.35,109.20 L751.35,110.81 L752.16,110.81 L752.16,111.94 L753.77,111.94 L753.77,112.75 L755.39,112.75 L755.39,113.80 Z" stroke="none" stroke-width="0" fill="#5f5f5f" />
<line x1="734.30" y1="111.60" x2="746.70" y2="111.60" stroke="#e42828" stroke-width="2.0" />
<rect x="715.7" y="69.8" width="44.0" height="44.0" fill="none" stroke="#c8c8c8" stroke-width="0.8"/>
<defs>
<filter id="bl" x="-20%" y="-20%" width="140%" height="140%"><feGaussianBlur stdDeviation="1.1"/></filter>
</defs>
<rect x="609.2" y="123.1" width="44.0" height="44.0" fill="#1c0306"/>
<clipPath id="c11"><rect x="609.2" y="123.1" width="44.0" height="44.0"/></clipPath>
<g clip-path="url(#c11)">
<g filter="url(#bl)">
<path d="M609.83,162.37 L609.27,159.89 L609.40,156.29 L608.56,152.45 L609.15,149.01 L609.65,146.06 L610.39,143.19 L612.00,140.97 L612.64,138.74 L613.47,137.16 L613.43,135.55 L614.06,134.06 L615.91,133.23 L617.77,132.27 L618.89,129.95 L621.00,128.66 L623.63,128.80 L626.06,128.97 L628.53,128.01 L631.10,127.71 L633.36,128.23 L635.37,127.45 L636.88,128.50 L638.63,128.29 L640.38,128.12 L641.92,128.57 L643.21,129.80 L644.32,131.13 L646.04,131.42 L646.97,132.99 L647.93,134.61 L649.27,135.97 L650.18,137.37 L651.62,138.43 L652.28,139.85 L651.77,141.39 L650.61,142.40 L650.14,143.49 L649.14,144.48 L647.68,144.89 L646.73,145.89 L645.89,146.89 L644.35,147.37 L643.68,148.56 L643.60,150.07 L642.69,150.95 L641.83,151.87 L640.78,152.53 L640.42,153.54 L639.72,154.67 L638.22,154.73 L637.34,156.33 L636.02,156.71 L634.66,157.05 L634.19,158.51 L633.21,159.40 L632.29,160.48 L630.48,160.44 L629.01,160.87 L627.85,161.78 L626.47,162.43 L625.26,163.79 L623.48,164.14 L621.77,164.69 L620.15,165.35 L618.43,165.79 L616.53,165.37 L615.02,165.37 L613.74,166.02 L612.48,165.59 L610.97,164.75 L610.81,163.12 Z" fill="#30111a"/>
<path d="M611.64,157.25 L612.13,155.48 L611.88,152.80 L611.28,149.85 L611.77,147.35 L612.67,145.46 L613.18,143.45 L614.50,141.98 L615.56,140.36 L616.68,138.75 L618.25,137.55 L620.19,136.87 L621.60,135.39 L623.53,134.41 L625.84,134.11 L628.09,133.92 L630.08,132.93 L632.14,133.19 L634.07,134.01 L635.73,135.03 L637.14,135.75 L638.33,136.26 L639.74,136.67 L640.54,137.75 L640.88,139.13 L640.60,140.85 L640.93,142.54 L642.18,144.21 L642.41,145.86 L641.97,147.19 L641.27,148.25 L640.19,148.97 L639.17,149.87 L638.31,151.32 L637.03,152.61 L635.21,153.26 L633.52,154.16 L631.68,155.00 L629.73,155.86 L628.24,157.35 L626.71,158.81 L624.83,159.92 L622.99,161.24 L621.29,162.69 L619.22,162.61 L617.59,162.74 L616.16,162.88 L614.90,163.04 L613.56,163.13 L612.35,162.09 L611.48,160.37 L611.56,158.46 Z" fill="#5a3240"/>
<path d="M613.23,155.89 L613.29,154.33 L613.36,152.08 L613.54,149.65 L613.93,147.57 L614.56,145.96 L615.40,144.54 L616.36,143.25 L617.39,142.03 L618.46,140.84 L619.60,139.73 L620.85,138.73 L622.24,137.87 L623.84,137.12 L625.62,136.49 L627.44,136.02 L629.17,135.79 L630.86,135.85 L632.55,136.14 L634.11,136.60 L635.41,137.18 L636.40,137.85 L637.14,138.65 L637.72,139.58 L638.18,140.64 L638.57,141.93 L638.83,143.42 L638.95,144.90 L638.88,146.19 L638.62,147.20 L638.18,148.05 L637.58,148.84 L636.80,149.65 L635.79,150.50 L634.59,151.34 L633.27,152.20 L631.95,153.12 L630.62,154.13 L629.26,155.20 L627.85,156.27 L626.40,157.28 L624.86,158.27 L623.24,159.27 L621.64,160.14 L620.16,160.74 L618.79,161.10 L617.48,161.26 L616.30,161.16 L615.31,160.74 L614.55,159.76 L613.97,158.32 L613.54,156.88 Z" fill="#966a74"/>
<path d="M615.49,154.12 L615.35,152.46 L615.34,150.15 L615.38,147.70 L615.68,145.66 L616.04,144.09 L616.81,142.83 L617.90,141.95 L619.08,141.18 L620.48,140.51 L622.03,139.88 L623.77,139.99 L625.16,139.60 L626.51,139.07 L627.88,139.22 L629.12,139.71 L630.25,140.21 L631.25,140.92 L631.64,142.23 L632.12,143.26 L632.96,144.13 L633.44,145.42 L633.80,147.00 L633.59,148.63 L632.90,150.03 L631.95,151.15 L630.70,152.00 L629.86,153.36 L628.72,154.33 L627.10,154.71 L626.00,155.81 L624.92,156.95 L623.59,157.51 L622.34,158.21 L620.87,158.15 L619.63,157.74 L618.81,157.63 L617.88,157.21 L616.82,156.21 L616.15,155.00 Z" fill="#cfb0aa"/>
<path d="M618.21,152.57 L618.16,151.40 L618.06,149.70 L618.04,147.92 L618.21,146.46 L618.61,145.45 L619.17,144.65 L619.86,144.00 L620.65,143.41 L621.61,142.85 L622.72,142.38 L623.86,142.02 L624.93,141.82 L625.92,141.79 L626.89,141.92 L627.79,142.18 L628.59,142.55 L629.30,143.05 L629.94,143.67 L630.46,144.41 L630.79,145.24 L630.94,146.22 L630.94,147.35 L630.76,148.49 L630.42,149.51 L629.86,150.38 L629.10,151.15 L628.24,151.87 L627.37,152.57 L626.50,153.26 L625.58,153.94 L624.64,154.54 L623.71,155.01 L622.75,155.38 L621.76,155.66 L620.83,155.77 L620.04,155.62 L619.41,155.04 L618.90,154.13 L618.50,153.20 Z" fill="#eee6c6"/>
<path d="M620.60,150.96 L620.56,150.25 L620.50,149.22 L620.49,148.13 L620.60,147.25 L620.84,146.63 L621.18,146.15 L621.60,145.75 L622.08,145.39 L622.66,145.06 L623.33,144.77 L624.03,144.55 L624.68,144.43 L625.28,144.41 L625.87,144.49 L626.42,144.65 L626.91,144.87 L627.34,145.18 L627.73,145.56 L628.04,146.00 L628.24,146.51 L628.34,147.11 L628.33,147.79 L628.23,148.49 L628.02,149.11 L627.68,149.63 L627.22,150.10 L626.69,150.54 L626.17,150.96 L625.63,151.39 L625.07,151.80 L624.50,152.16 L623.94,152.45 L623.35,152.67 L622.75,152.84 L622.19,152.91 L621.71,152.82 L621.33,152.47 L621.01,151.91 L620.77,151.35 Z" fill="#fdfce2"/>
</g>
<path d="M609.83,162.37 L609.27,159.89 L609.40,156.29 L608.56,152.45 L609.15,149.01 L609.65,146.06 L610.39,143.19 L612.00,140.97 L612.64,138.74 L613.47,137.16 L613.43,135.55 L614.06,134.06 L615.91,133.23 L617.77,132.27 L618.89,129.95 L621.00,128.66 L623.63,128.80 L626.06,128.97 L628.53,128.01 L631.10,127.71 L633.36,128.23 L635.37,127.45 L636.88,128.50 L638.63,128.29 L640.38,128.12 L641.92,128.57 L643.21,129.80 L644.32,131.13 L646.04,131.42 L646.97,132.99 L647.93,134.61 L649.27,135.97 L650.18,137.37 L651.62,138.43 L652.28,139.85 L651.77,141.39 L650.61,142.40 L650.14,143.49 L649.14,144.48 L647.68,144.89 L646.73,145.89 L645.89,146.89 L644.35,147.37 L643.68,148.56 L643.60,150.07 L642.69,150.95 L641.83,151.87 L640.78,152.53 L640.42,153.54 L639.72,154.67 L638.22,154.73 L637.34,156.33 L636.02,156.71 L634.66,157.05 L634.19,158.51 L633.21,159.40 L632.29,160.48 L630.48,160.44 L629.01,160.87 L627.85,161.78 L626.47,162.43 L625.26,163.79 L623.48,164.14 L621.77,164.69 L620.15,165.35 L618.43,165.79 L616.53,165.37 L615.02,165.37 L613.74,166.02 L612.48,165.59 L610.97,164.75 L610.81,163.12 Z" fill="none" stroke="#2cd42c" stroke-width="0.95" stroke-linejoin="round"/>
<path d="M611.64,157.25 L612.13,155.48 L611.88,152.80 L611.28,149.85 L611.77,147.35 L612.67,145.46 L613.18,143.45 L614.50,141.98 L615.56,140.36 L616.68,138.75 L618.25,137.55 L620.19,136.87 L621.60,135.39 L623.53,134.41 L625.84,134.11 L628.09,133.92 L630.08,132.93 L632.14,133.19 L634.07,134.01 L635.73,135.03 L637.14,135.75 L638.33,136.26 L639.74,136.67 L640.54,137.75 L640.88,139.13 L640.60,140.85 L640.93,142.54 L642.18,144.21 L642.41,145.86 L641.97,147.19 L641.27,148.25 L640.19,148.97 L639.17,149.87 L638.31,151.32 L637.03,152.61 L635.21,153.26 L633.52,154.16 L631.68,155.00 L629.73,155.86 L628.24,157.35 L626.71,158.81 L624.83,159.92 L622.99,161.24 L621.29,162.69 L619.22,162.61 L617.59,162.74 L616.16,162.88 L614.90,163.04 L613.56,163.13 L612.35,162.09 L611.48,160.37 L611.56,158.46 Z" fill="none" stroke="#dab01c" stroke-width="1.05" stroke-linejoin="round"/>
<path d="M615.49,154.12 L615.35,152.46 L615.34,150.15 L615.38,147.70 L615.68,145.66 L616.04,144.09 L616.81,142.83 L617.90,141.95 L619.08,141.18 L620.48,140.51 L622.03,139.88 L623.77,139.99 L625.16,139.60 L626.51,139.07 L627.88,139.22 L629.12,139.71 L630.25,140.21 L631.25,140.92 L631.64,142.23 L632.12,143.26 L632.96,144.13 L633.44,145.42 L633.80,147.00 L633.59,148.63 L632.90,150.03 L631.95,151.15 L630.70,152.00 L629.86,153.36 L628.72,154.33 L627.10,154.71 L626.00,155.81 L624.92,156.95 L623.59,157.51 L622.34,158.21 L620.87,158.15 L619.63,157.74 L618.81,157.63 L617.88,157.21 L616.82,156.21 L616.15,155.00 Z" fill="none" stroke="#d636d0" stroke-width="1.05" stroke-linejoin="round"/>
<line x1="617.73" y1="148.23" x2="629.28" y2="148.23" stroke="#ff2a2a" stroke-width="0.95" />
<line x1="623.50" y1="142.45" x2="623.50" y2="153.18" stroke="#ff2a2a" stroke-width="0.95" />
</g>
<rect x="662.5" y="123.1" width="44.0" height="44.0" fill="#1c0306"/>
<clipPath id="c21"><rect x="662.5" y="123.1" width="44.0" height="44.0"/></clipPath>
<g clip-path="url(#c21)">
<g filter="url(#bl)">
<path d="M665.43,130.68 L667.02,130.41 L668.52,129.32 L670.10,128.39 L671.59,127.24 L673.40,127.83 L674.26,130.18 L675.47,132.26 L677.32,133.59 L679.08,134.67 L680.70,135.79 L682.65,136.59 L685.00,137.18 L686.90,138.83 L689.27,140.20 L691.95,141.29 L694.02,142.98 L695.51,145.13 L696.90,147.24 L697.70,149.69 L698.92,151.54 L700.77,152.14 L701.80,153.47 L702.56,154.37 L703.54,154.71 L705.47,155.42 L706.77,157.03 L707.22,158.96 L707.26,160.77 L706.45,162.25 L704.70,162.86 L703.21,163.11 L702.44,163.83 L701.74,164.85 L700.62,164.82 L699.45,164.79 L697.69,165.23 L696.68,163.41 L695.70,161.29 L693.89,159.67 L691.79,158.37 L689.36,157.78 L687.09,156.97 L685.34,155.10 L683.14,153.95 L681.52,151.78 L679.60,149.90 L676.83,149.06 L674.87,147.38 L673.71,144.94 L671.59,143.59 L668.97,142.89 L667.24,141.61 L666.67,139.84 L667.36,137.86 L666.78,136.82 L665.47,135.91 L666.40,134.45 L667.01,133.13 L666.16,131.82 Z" fill="#30111a"/>
<path d="M669.73,134.12 L670.70,133.77 L671.78,132.81 L673.35,132.60 L674.73,133.88 L676.14,134.41 L677.77,135.24 L679.29,136.67 L681.28,137.74 L683.04,139.50 L685.26,141.05 L687.96,142.10 L690.10,143.66 L691.90,145.36 L693.56,147.10 L694.95,148.97 L696.57,150.49 L697.88,152.14 L698.94,153.86 L699.27,155.88 L700.46,157.29 L701.42,158.90 L701.97,160.73 L702.28,162.21 L702.64,162.97 L702.05,163.05 L701.00,163.48 L699.49,163.45 L697.89,163.25 L696.07,162.96 L694.50,161.66 L692.63,160.68 L690.96,159.56 L689.76,157.93 L687.98,157.28 L686.47,156.05 L684.94,154.54 L682.80,153.45 L680.46,152.33 L678.41,150.68 L676.65,148.89 L674.95,147.14 L672.83,145.69 L671.58,143.64 L670.32,141.79 L669.85,139.65 L670.24,137.43 L670.00,135.53 Z" fill="#5a3240"/>
<path d="M672.34,136.47 L673.06,136.25 L674.08,135.91 L675.27,135.68 L676.50,135.78 L677.76,136.31 L679.10,137.12 L680.53,138.14 L682.05,139.25 L683.72,140.49 L685.51,141.89 L687.31,143.36 L688.98,144.79 L690.51,146.18 L691.97,147.56 L693.32,148.95 L694.52,150.34 L695.57,151.74 L696.47,153.15 L697.27,154.54 L697.99,155.88 L698.75,157.26 L699.50,158.65 L700.02,159.88 L700.07,160.73 L699.50,161.15 L698.46,161.25 L697.19,161.09 L695.91,160.73 L694.62,160.11 L693.22,159.22 L691.78,158.21 L690.36,157.27 L689.01,156.43 L687.68,155.62 L686.30,154.77 L684.82,153.80 L683.14,152.72 L681.31,151.55 L679.51,150.29 L677.89,148.95 L676.43,147.49 L675.07,145.92 L673.91,144.30 L673.04,142.71 L672.56,141.01 L672.39,139.20 L672.37,137.60 Z" fill="#966a74"/>
<path d="M676.69,141.02 L677.49,140.87 L678.69,140.47 L679.98,139.85 L681.42,140.06 L682.98,140.99 L684.65,142.51 L686.30,144.28 L688.03,145.77 L689.64,147.24 L691.16,148.84 L692.34,150.53 L693.47,151.81 L694.18,153.05 L694.84,154.08 L695.64,154.88 L695.37,155.60 L694.64,155.71 L693.86,156.19 L692.69,157.00 L691.24,156.96 L689.74,156.27 L687.92,155.65 L686.14,154.67 L684.51,153.54 L683.25,151.94 L681.92,150.41 L680.44,149.18 L678.88,148.32 L678.11,147.02 L677.28,146.00 L676.43,145.13 L676.56,143.99 L676.52,143.14 L676.19,142.20 L676.72,141.46 Z" fill="#cfb0aa"/>
<path d="M678.76,142.78 L679.39,142.56 L680.28,142.21 L681.33,141.99 L682.42,142.17 L683.57,142.89 L684.82,144.00 L686.10,145.26 L687.30,146.44 L688.49,147.54 L689.67,148.66 L690.74,149.74 L691.58,150.72 L692.20,151.62 L692.65,152.47 L692.87,153.21 L692.80,153.77 L692.38,154.17 L691.65,154.42 L690.74,154.50 L689.75,154.38 L688.64,154.01 L687.38,153.43 L686.08,152.71 L684.86,151.94 L683.70,151.09 L682.55,150.15 L681.49,149.18 L680.59,148.28 L679.86,147.45 L679.27,146.67 L678.82,145.93 L678.51,145.22 L678.42,144.51 L678.50,143.81 L678.66,143.20 Z" fill="#eee6c6"/>
<path d="M681.27,144.99 L681.65,144.85 L682.20,144.64 L682.84,144.51 L683.50,144.62 L684.20,145.06 L684.96,145.73 L685.74,146.50 L686.47,147.21 L687.19,147.88 L687.91,148.56 L688.56,149.22 L689.07,149.81 L689.45,150.36 L689.72,150.88 L689.85,151.33 L689.81,151.67 L689.56,151.91 L689.11,152.06 L688.56,152.11 L687.95,152.04 L687.28,151.82 L686.52,151.46 L685.73,151.02 L684.98,150.56 L684.28,150.04 L683.58,149.47 L682.93,148.88 L682.39,148.33 L681.94,147.83 L681.58,147.35 L681.31,146.90 L681.12,146.47 L681.06,146.04 L681.12,145.61 L681.21,145.25 Z" fill="#fdfce2"/>
</g>
<path d="M665.43,130.68 L667.02,130.41 L668.52,129.32 L670.10,128.39 L671.59,127.24 L673.40,127.83 L674.26,130.18 L675.47,132.26 L677.32,133.59 L679.08,134.67 L680.70,135.79 L682.65,136.59 L685.00,137.18 L686.90,138.83 L689.27,140.20 L691.95,141.29 L694.02,142.98 L695.51,145.13 L696.90,147.24 L697.70,149.69 L698.92,151.54 L700.77,152.14 L701.80,153.47 L702.56,154.37 L703.54,154.71 L705.47,155.42 L706.77,157.03 L707.22,158.96 L707.26,160.77 L706.45,162.25 L704.70,162.86 L703.21,163.11 L702.44,163.83 L701.74,164.85 L700.62,164.82 L699.45,164.79 L697.69,165.23 L696.68,163.41 L695.70,161.29 L693.89,159.67 L691.79,158.37 L689.36,157.78 L687.09,156.97 L685.34,155.10 L683.14,153.95 L681.52,151.78 L679.60,149.90 L676.83,149.06 L674.87,147.38 L673.71,144.94 L671.59,143.59 L668.97,142.89 L667.24,141.61 L666.67,139.84 L667.36,137.86 L666.78,136.82 L665.47,135.91 L666.40,134.45 L667.01,133.13 L666.16,131.82 Z" fill="none" stroke="#2cd42c" stroke-width="0.95" stroke-linejoin="round"/>
<path d="M669.73,134.12 L670.70,133.77 L671.78,132.81 L673.35,132.60 L674.73,133.88 L676.14,134.41 L677.77,135.24 L679.29,136.67 L681.28,137.74 L683.04,139.50 L685.26,141.05 L687.96,142.10 L690.10,143.66 L691.90,145.36 L693.56,147.10 L694.95,148.97 L696.57,150.49 L697.88,152.14 L698.94,153.86 L699.27,155.88 L700.46,157.29 L701.42,158.90 L701.97,160.73 L702.28,162.21 L702.64,162.97 L702.05,163.05 L701.00,163.48 L699.49,163.45 L697.89,163.25 L696.07,162.96 L694.50,161.66 L692.63,160.68 L690.96,159.56 L689.76,157.93 L687.98,157.28 L686.47,156.05 L684.94,154.54 L682.80,153.45 L680.46,152.33 L678.41,150.68 L676.65,148.89 L674.95,147.14 L672.83,145.69 L671.58,143.64 L670.32,141.79 L669.85,139.65 L670.24,137.43 L670.00,135.53 Z" fill="none" stroke="#dab01c" stroke-width="1.05" stroke-linejoin="round"/>
<path d="M676.69,141.02 L677.49,140.87 L678.69,140.47 L679.98,139.85 L681.42,140.06 L682.98,140.99 L684.65,142.51 L686.30,144.28 L688.03,145.77 L689.64,147.24 L691.16,148.84 L692.34,150.53 L693.47,151.81 L694.18,153.05 L694.84,154.08 L695.64,154.88 L695.37,155.60 L694.64,155.71 L693.86,156.19 L692.69,157.00 L691.24,156.96 L689.74,156.27 L687.92,155.65 L686.14,154.67 L684.51,153.54 L683.25,151.94 L681.92,150.41 L680.44,149.18 L678.88,148.32 L678.11,147.02 L677.28,146.00 L676.43,145.13 L676.56,143.99 L676.52,143.14 L676.19,142.20 L676.72,141.46 Z" fill="none" stroke="#d636d0" stroke-width="1.05" stroke-linejoin="round"/>
<line x1="676.50" y1="148.23" x2="694.65" y2="148.23" stroke="#ff2a2a" stroke-width="0.95" />
<line x1="685.58" y1="142.45" x2="685.58" y2="154.00" stroke="#ff2a2a" stroke-width="0.95" />
</g>
<rect x="715.7" y="123.1" width="44.0" height="44.0" fill="#1c0306"/>
<clipPath id="c31"><rect x="715.7" y="123.1" width="44.0" height="44.0"/></clipPath>
<g clip-path="url(#c31)">
<g filter="url(#bl)">
<path d="M758.02,127.05 L757.42,127.55 L756.39,127.72 L756.83,127.93 L757.97,128.79 L757.54,129.25 L756.96,129.71 L756.86,130.61 L756.61,131.55 L755.64,132.07 L754.60,132.65 L754.48,134.11 L753.22,134.71 L752.45,135.84 L752.05,137.44 L750.59,138.17 L748.95,138.79 L748.08,140.22 L747.17,141.72 L744.86,141.90 L743.36,142.89 L742.35,144.42 L742.17,146.86 L741.14,148.47 L739.69,149.64 L737.61,150.13 L736.70,151.89 L735.65,153.47 L733.72,154.03 L731.60,154.31 L730.46,155.65 L730.07,157.79 L728.88,158.92 L726.82,158.91 L725.71,159.95 L724.85,161.18 L724.55,163.00 L723.56,163.82 L721.92,163.62 L721.24,164.56 L720.60,165.39 L719.09,164.70 L718.40,165.02 L718.01,165.66 L717.87,166.70 L717.23,166.31 L716.98,166.96 L716.77,166.11 L716.54,166.41 L716.09,166.33 L716.73,166.06 L717.27,165.94 L716.29,165.05 L716.16,164.28 L717.00,163.96 L717.10,163.05 L717.28,162.05 L717.85,161.20 L718.48,160.26 L719.50,159.54 L720.59,158.79 L721.79,158.02 L723.23,157.37 L723.86,155.88 L724.85,154.65 L725.67,153.17 L726.78,151.87 L727.70,150.32 L729.03,149.13 L730.43,147.98 L732.62,147.58 L733.86,146.19 L734.71,144.40 L736.53,143.63 L738.30,142.81 L739.01,140.87 L740.79,140.15 L741.93,138.77 L743.31,137.69 L744.89,136.92 L745.72,135.39 L746.97,134.42 L748.57,133.99 L749.88,133.32 L750.44,131.85 L751.75,131.48 L752.71,130.80 L753.36,129.84 L753.84,128.79 L754.32,127.88 L754.70,126.92 L755.31,126.48 L756.10,126.56 L756.91,127.41 L757.22,126.75 L757.54,126.39 Z" fill="#30111a"/>
<path d="M756.11,128.99 L755.22,129.44 L754.90,129.54 L755.29,129.85 L755.73,130.47 L755.63,131.03 L755.17,131.44 L754.66,131.92 L754.34,132.66 L753.65,133.20 L752.87,133.79 L751.49,133.96 L750.65,134.67 L750.41,136.05 L749.76,137.17 L748.43,137.73 L747.90,139.12 L747.20,140.43 L746.38,141.70 L745.00,142.49 L743.67,143.34 L742.59,144.48 L741.63,145.80 L740.43,146.89 L739.57,148.33 L738.36,149.40 L737.16,150.49 L735.85,151.45 L734.94,152.79 L733.84,153.87 L732.46,154.63 L731.22,155.46 L729.85,156.07 L728.69,156.81 L727.52,157.48 L726.56,158.29 L725.58,158.95 L724.71,159.62 L724.31,160.78 L723.56,161.37 L722.56,161.47 L722.30,162.41 L721.52,162.47 L721.10,162.89 L720.93,163.59 L720.21,162.96 L719.92,162.71 L719.95,163.02 L720.19,163.07 L720.14,163.32 L719.45,163.02 L719.78,162.80 L720.24,162.62 L720.87,162.48 L721.30,162.10 L721.62,161.51 L721.94,160.81 L722.66,160.30 L723.16,159.48 L723.61,158.51 L723.79,157.18 L724.25,155.99 L725.24,155.18 L726.33,154.39 L727.35,153.46 L728.92,153.00 L729.95,151.93 L731.00,150.83 L732.13,149.79 L733.24,148.68 L734.05,147.21 L734.94,145.79 L736.72,145.32 L738.02,144.35 L738.95,142.99 L740.12,141.89 L741.22,140.76 L742.04,139.37 L743.48,138.69 L744.28,137.36 L745.09,136.12 L746.40,135.53 L747.74,135.05 L748.53,134.03 L749.84,133.77 L750.92,133.36 L751.34,132.22 L751.88,131.37 L752.68,131.00 L753.52,130.86 L754.15,130.61 L754.54,130.17 L754.80,129.67 L754.88,128.80 L755.23,128.59 L755.50,128.67 Z" fill="#5a3240"/>
<path d="M753.05,131.94 L753.03,132.06 L753.00,132.22 L752.94,132.44 L752.80,132.72 L752.58,133.06 L752.30,133.46 L751.95,133.91 L751.55,134.41 L751.09,134.97 L750.57,135.57 L749.99,136.23 L749.37,136.92 L748.70,137.65 L747.98,138.42 L747.21,139.23 L746.41,140.06 L745.58,140.91 L744.70,141.80 L743.80,142.71 L742.88,143.62 L741.94,144.54 L740.97,145.48 L739.99,146.43 L739.01,147.36 L738.03,148.29 L737.04,149.22 L736.05,150.13 L735.07,151.03 L734.11,151.90 L733.16,152.75 L732.23,153.58 L731.33,154.37 L730.46,155.12 L729.62,155.84 L728.81,156.52 L728.04,157.16 L727.32,157.74 L726.64,158.28 L726.00,158.77 L725.43,159.20 L724.90,159.58 L724.43,159.90 L724.02,160.16 L723.67,160.37 L723.38,160.51 L723.15,160.59 L722.98,160.61 L722.88,160.57 L722.85,160.46 L722.88,160.30 L722.97,160.07 L723.12,159.79 L723.34,159.45 L723.63,159.05 L723.98,158.60 L724.38,158.10 L724.84,157.54 L725.36,156.93 L725.94,156.28 L726.56,155.59 L727.23,154.86 L727.95,154.09 L728.72,153.28 L729.51,152.45 L730.35,151.60 L731.22,150.71 L732.13,149.80 L733.05,148.89 L733.99,147.97 L734.95,147.03 L735.93,146.08 L736.91,145.15 L737.90,144.22 L738.89,143.29 L739.88,142.37 L740.85,141.48 L741.81,140.61 L742.77,139.76 L743.70,138.93 L744.60,138.14 L745.47,137.39 L746.31,136.66 L747.12,135.98 L747.89,135.35 L748.61,134.77 L749.29,134.23 L749.92,133.74 L750.50,133.31 L751.02,132.93 L751.49,132.61 L751.91,132.35 L752.26,132.14 L752.54,132.02 L752.76,131.97 L752.93,131.96 Z" fill="#966a74"/>
<path d="M752.41,132.77 L752.54,132.82 L752.57,132.98 L752.89,133.37 L752.78,133.70 L752.27,133.83 L751.64,133.90 L751.22,134.20 L750.96,134.72 L750.77,135.40 L750.24,135.88 L749.70,136.44 L749.24,137.13 L748.69,137.83 L747.75,138.23 L747.19,139.06 L746.11,139.44 L745.42,140.25 L745.17,141.57 L744.20,142.20 L743.00,142.62 L742.10,143.37 L741.59,144.57 L740.97,145.67 L740.01,146.41 L738.83,146.91 L738.19,147.99 L737.32,148.82 L736.58,149.75 L735.48,150.26 L734.46,150.82 L733.92,151.88 L732.93,152.36 L732.14,153.01 L731.26,153.50 L730.68,154.27 L730.20,155.06 L729.34,155.31 L728.95,156.05 L728.75,156.95 L728.24,157.36 L727.51,157.35 L727.06,157.59 L726.81,158.01 L726.56,158.32 L726.22,158.35 L725.92,158.26 L725.75,158.06 L725.46,158.34 L725.83,158.07 L725.94,158.03 L725.67,157.68 L726.21,157.69 L726.50,157.48 L726.69,157.09 L726.61,156.39 L726.89,155.88 L727.49,155.55 L728.31,155.32 L728.62,154.57 L728.94,153.74 L729.50,153.06 L730.00,152.24 L730.51,151.35 L731.38,150.76 L732.52,150.39 L733.24,149.55 L734.20,148.91 L734.71,147.78 L735.46,146.87 L736.42,146.13 L737.17,145.17 L738.23,144.53 L739.51,144.14 L740.45,143.38 L741.23,142.46 L742.02,141.58 L743.02,140.97 L743.85,140.20 L744.46,139.23 L745.14,138.40 L745.67,137.44 L746.64,137.06 L747.39,136.48 L748.17,136.04 L748.72,135.42 L749.03,134.58 L749.55,134.09 L750.37,134.10 L750.61,133.46 L751.04,133.19 L751.39,132.92 L751.73,132.77 L752.18,133.09 L752.35,133.19 L752.38,132.72 Z" fill="#cfb0aa"/>
<path d="M748.99,136.01 L748.98,136.08 L748.95,136.18 L748.90,136.31 L748.81,136.49 L748.66,136.71 L748.46,136.96 L748.23,137.26 L747.96,137.58 L747.65,137.94 L747.30,138.33 L746.92,138.76 L746.50,139.20 L746.06,139.68 L745.58,140.18 L745.07,140.71 L744.54,141.25 L743.99,141.81 L743.41,142.39 L742.82,142.99 L742.21,143.58 L741.59,144.19 L740.95,144.81 L740.31,145.43 L739.66,146.04 L739.01,146.65 L738.36,147.27 L737.71,147.87 L737.07,148.46 L736.44,149.03 L735.82,149.60 L735.21,150.14 L734.62,150.67 L734.05,151.17 L733.50,151.64 L732.97,152.10 L732.47,152.52 L732.00,152.91 L731.56,153.27 L731.15,153.60 L730.78,153.89 L730.44,154.14 L730.13,154.36 L729.87,154.54 L729.64,154.68 L729.46,154.78 L729.31,154.84 L729.21,154.86 L729.15,154.84 L729.14,154.78 L729.16,154.67 L729.23,154.53 L729.34,154.36 L729.49,154.14 L729.68,153.88 L729.92,153.59 L730.19,153.27 L730.50,152.91 L730.84,152.51 L731.23,152.09 L731.64,151.64 L732.09,151.17 L732.57,150.66 L733.07,150.13 L733.60,149.59 L734.15,149.03 L734.73,148.45 L735.33,147.86 L735.94,147.26 L736.56,146.65 L737.19,146.04 L737.84,145.42 L738.48,144.80 L739.13,144.19 L739.78,143.58 L740.43,142.98 L741.07,142.39 L741.70,141.81 L742.33,141.25 L742.94,140.70 L743.52,140.18 L744.09,139.68 L744.64,139.20 L745.17,138.75 L745.67,138.33 L746.14,137.94 L746.58,137.58 L747.00,137.25 L747.37,136.96 L747.71,136.71 L748.01,136.49 L748.28,136.31 L748.50,136.17 L748.68,136.08 L748.82,136.04 L748.92,136.02 Z" fill="#eee6c6"/>
<path d="M745.11,139.70 L745.09,139.74 L745.08,139.80 L745.05,139.88 L744.99,139.99 L744.90,140.12 L744.78,140.28 L744.64,140.46 L744.48,140.65 L744.29,140.87 L744.08,141.11 L743.84,141.37 L743.59,141.64 L743.32,141.93 L743.03,142.24 L742.72,142.56 L742.40,142.89 L742.06,143.23 L741.71,143.58 L741.35,143.94 L740.98,144.30 L740.60,144.67 L740.21,145.05 L739.82,145.43 L739.43,145.80 L739.04,146.17 L738.64,146.54 L738.24,146.91 L737.86,147.27 L737.47,147.62 L737.09,147.96 L736.72,148.29 L736.37,148.61 L736.02,148.92 L735.68,149.21 L735.36,149.48 L735.06,149.74 L734.77,149.97 L734.50,150.19 L734.25,150.39 L734.03,150.57 L733.82,150.72 L733.64,150.86 L733.47,150.96 L733.34,151.05 L733.23,151.11 L733.14,151.15 L733.08,151.16 L733.04,151.15 L733.03,151.11 L733.05,151.05 L733.09,150.96 L733.15,150.85 L733.24,150.72 L733.36,150.57 L733.50,150.39 L733.67,150.19 L733.86,149.97 L734.07,149.73 L734.30,149.48 L734.55,149.20 L734.82,148.91 L735.12,148.61 L735.43,148.29 L735.75,147.96 L736.08,147.62 L736.43,147.26 L736.80,146.90 L737.17,146.54 L737.54,146.17 L737.93,145.80 L738.32,145.42 L738.71,145.05 L739.11,144.67 L739.51,144.30 L739.90,143.93 L740.29,143.58 L740.67,143.23 L741.05,142.88 L741.42,142.55 L741.78,142.23 L742.13,141.93 L742.46,141.64 L742.78,141.36 L743.09,141.11 L743.37,140.87 L743.64,140.65 L743.89,140.45 L744.12,140.28 L744.32,140.12 L744.51,139.99 L744.67,139.88 L744.81,139.79 L744.92,139.74 L745.00,139.72 L745.06,139.71 Z" fill="#fdfce2"/>
</g>
<path d="M758.02,127.05 L757.42,127.55 L756.39,127.72 L756.83,127.93 L757.97,128.79 L757.54,129.25 L756.96,129.71 L756.86,130.61 L756.61,131.55 L755.64,132.07 L754.60,132.65 L754.48,134.11 L753.22,134.71 L752.45,135.84 L752.05,137.44 L750.59,138.17 L748.95,138.79 L748.08,140.22 L747.17,141.72 L744.86,141.90 L743.36,142.89 L742.35,144.42 L742.17,146.86 L741.14,148.47 L739.69,149.64 L737.61,150.13 L736.70,151.89 L735.65,153.47 L733.72,154.03 L731.60,154.31 L730.46,155.65 L730.07,157.79 L728.88,158.92 L726.82,158.91 L725.71,159.95 L724.85,161.18 L724.55,163.00 L723.56,163.82 L721.92,163.62 L721.24,164.56 L720.60,165.39 L719.09,164.70 L718.40,165.02 L718.01,165.66 L717.87,166.70 L717.23,166.31 L716.98,166.96 L716.77,166.11 L716.54,166.41 L716.09,166.33 L716.73,166.06 L717.27,165.94 L716.29,165.05 L716.16,164.28 L717.00,163.96 L717.10,163.05 L717.28,162.05 L717.85,161.20 L718.48,160.26 L719.50,159.54 L720.59,158.79 L721.79,158.02 L723.23,157.37 L723.86,155.88 L724.85,154.65 L725.67,153.17 L726.78,151.87 L727.70,150.32 L729.03,149.13 L730.43,147.98 L732.62,147.58 L733.86,146.19 L734.71,144.40 L736.53,143.63 L738.30,142.81 L739.01,140.87 L740.79,140.15 L741.93,138.77 L743.31,137.69 L744.89,136.92 L745.72,135.39 L746.97,134.42 L748.57,133.99 L749.88,133.32 L750.44,131.85 L751.75,131.48 L752.71,130.80 L753.36,129.84 L753.84,128.79 L754.32,127.88 L754.70,126.92 L755.31,126.48 L756.10,126.56 L756.91,127.41 L757.22,126.75 L757.54,126.39 Z" fill="none" stroke="#2cd42c" stroke-width="0.95" stroke-linejoin="round"/>
<path d="M756.11,128.99 L755.22,129.44 L754.90,129.54 L755.29,129.85 L755.73,130.47 L755.63,131.03 L755.17,131.44 L754.66,131.92 L754.34,132.66 L753.65,133.20 L752.87,133.79 L751.49,133.96 L750.65,134.67 L750.41,136.05 L749.76,137.17 L748.43,137.73 L747.90,139.12 L747.20,140.43 L746.38,141.70 L745.00,142.49 L743.67,143.34 L742.59,144.48 L741.63,145.80 L740.43,146.89 L739.57,148.33 L738.36,149.40 L737.16,150.49 L735.85,151.45 L734.94,152.79 L733.84,153.87 L732.46,154.63 L731.22,155.46 L729.85,156.07 L728.69,156.81 L727.52,157.48 L726.56,158.29 L725.58,158.95 L724.71,159.62 L724.31,160.78 L723.56,161.37 L722.56,161.47 L722.30,162.41 L721.52,162.47 L721.10,162.89 L720.93,163.59 L720.21,162.96 L719.92,162.71 L719.95,163.02 L720.19,163.07 L720.14,163.32 L719.45,163.02 L719.78,162.80 L720.24,162.62 L720.87,162.48 L721.30,162.10 L721.62,161.51 L721.94,160.81 L722.66,160.30 L723.16,159.48 L723.61,158.51 L723.79,157.18 L724.25,155.99 L725.24,155.18 L726.33,154.39 L727.35,153.46 L728.92,153.00 L729.95,151.93 L731.00,150.83 L732.13,149.79 L733.24,148.68 L734.05,147.21 L734.94,145.79 L736.72,145.32 L738.02,144.35 L738.95,142.99 L740.12,141.89 L741.22,140.76 L742.04,139.37 L743.48,138.69 L744.28,137.36 L745.09,136.12 L746.40,135.53 L747.74,135.05 L748.53,134.03 L749.84,133.77 L750.92,133.36 L751.34,132.22 L751.88,131.37 L752.68,131.00 L753.52,130.86 L754.15,130.61 L754.54,130.17 L754.80,129.67 L754.88,128.80 L755.23,128.59 L755.50,128.67 Z" fill="none" stroke="#dab01c" stroke-width="1.05" stroke-linejoin="round"/>
<path d="M752.41,132.77 L752.54,132.82 L752.57,132.98 L752.89,133.37 L752.78,133.70 L752.27,133.83 L751.64,133.90 L751.22,134.20 L750.96,134.72 L750.77,135.40 L750.24,135.88 L749.70,136.44 L749.24,137.13 L748.69,137.83 L747.75,138.23 L747.19,139.06 L746.11,139.44 L745.42,140.25 L745.17,141.57 L744.20,142.20 L743.00,142.62 L742.10,143.37 L741.59,144.57 L740.97,145.67 L740.01,146.41 L738.83,146.91 L738.19,147.99 L737.32,148.82 L736.58,149.75 L735.48,150.26 L734.46,150.82 L733.92,151.88 L732.93,152.36 L732.14,153.01 L731.26,153.50 L730.68,154.27 L730.20,155.06 L729.34,155.31 L728.95,156.05 L728.75,156.95 L728.24,157.36 L727.51,157.35 L727.06,157.59 L726.81,158.01 L726.56,158.32 L726.22,158.35 L725.92,158.26 L725.75,158.06 L725.46,158.34 L725.83,158.07 L725.94,158.03 L725.67,157.68 L726.21,157.69 L726.50,157.48 L726.69,157.09 L726.61,156.39 L726.89,155.88 L727.49,155.55 L728.31,155.32 L728.62,154.57 L728.94,153.74 L729.50,153.06 L730.00,152.24 L730.51,151.35 L731.38,150.76 L732.52,150.39 L733.24,149.55 L734.20,148.91 L734.71,147.78 L735.46,146.87 L736.42,146.13 L737.17,145.17 L738.23,144.53 L739.51,144.14 L740.45,143.38 L741.23,142.46 L742.02,141.58 L743.02,140.97 L743.85,140.20 L744.46,139.23 L745.14,138.40 L745.67,137.44 L746.64,137.06 L747.39,136.48 L748.17,136.04 L748.72,135.42 L749.03,134.58 L749.55,134.09 L750.37,134.10 L750.61,133.46 L751.04,133.19 L751.39,132.92 L751.73,132.77 L752.18,133.09 L752.35,133.19 L752.38,132.72 Z" fill="none" stroke="#d636d0" stroke-width="1.05" stroke-linejoin="round"/>
<line x1="736.10" y1="147.40" x2="745.18" y2="147.40" stroke="#ff2a2a" stroke-width="0.95" />
<line x1="740.72" y1="143.28" x2="740.72" y2="151.53" stroke="#ff2a2a" stroke-width="0.95" />
</g>
<rect x="662.5" y="176.4" width="44.0" height="44.0" fill="#1c0306"/>
<clipPath id="c22"><rect x="662.5" y="176.4" width="44.0" height="44.0"/></clipPath>
<g clip-path="url(#c22)">
<g filter="url(#bl)">
<path d="M667.70,182.54 L668.72,181.35 L670.84,180.57 L672.89,179.29 L674.46,177.99 L675.72,177.34 L677.06,177.46 L678.10,178.53 L678.93,178.20 L679.99,178.76 L679.42,180.61 L679.69,182.11 L681.46,183.07 L682.84,184.29 L683.27,185.78 L683.56,187.09 L683.85,188.30 L685.01,189.08 L686.29,190.15 L687.69,191.42 L688.74,193.19 L689.71,194.84 L691.29,195.51 L693.19,195.84 L694.80,196.92 L696.37,198.47 L698.31,199.88 L700.32,201.38 L702.24,202.98 L702.99,205.47 L703.32,208.15 L705.25,209.86 L705.55,211.92 L704.93,213.65 L704.53,215.11 L705.01,216.96 L704.30,218.40 L702.86,219.10 L701.20,219.09 L699.56,218.56 L698.16,217.38 L696.79,216.87 L694.99,216.82 L692.60,217.73 L690.97,217.22 L689.84,215.24 L688.38,214.29 L686.59,214.60 L684.71,214.61 L682.54,215.06 L680.56,213.83 L678.88,211.93 L677.19,210.89 L675.56,209.49 L673.72,207.93 L670.89,206.90 L668.80,205.18 L667.84,202.78 L667.75,200.07 L667.80,197.52 L667.83,195.27 L667.33,193.24 L667.20,191.12 L667.40,189.08 L667.07,187.21 L666.80,185.59 L666.45,184.13 L667.72,183.11 Z" fill="#30111a"/>
<path d="M672.40,191.35 L673.69,191.27 L675.09,190.27 L676.50,188.87 L678.07,188.11 L679.51,188.45 L680.57,189.43 L681.75,189.97 L683.43,189.92 L684.89,190.63 L685.96,192.15 L687.31,193.42 L689.05,194.44 L690.77,195.83 L692.34,197.67 L694.41,199.05 L695.86,200.84 L697.01,202.76 L698.14,204.63 L699.61,205.93 L700.75,207.35 L702.24,208.70 L703.59,210.32 L703.92,212.17 L703.10,213.49 L702.90,214.31 L702.43,215.67 L701.18,216.54 L699.62,216.23 L698.18,215.91 L696.54,216.07 L694.77,215.90 L693.06,214.93 L691.11,214.37 L688.80,214.94 L686.54,214.95 L684.63,214.08 L682.92,213.22 L681.27,212.55 L679.56,212.18 L678.38,210.80 L677.06,209.61 L675.37,208.61 L674.03,207.16 L673.60,205.16 L672.53,203.37 L672.06,201.17 L671.06,199.10 L670.82,197.11 L671.46,195.37 L671.72,193.71 L672.50,192.43 Z" fill="#5a3240"/>
<path d="M674.63,193.65 L675.51,193.20 L676.79,192.52 L678.20,191.90 L679.48,191.57 L680.55,191.63 L681.56,191.92 L682.56,192.38 L683.64,192.96 L684.78,193.63 L685.97,194.43 L687.21,195.36 L688.49,196.42 L689.84,197.68 L691.26,199.11 L692.68,200.58 L694.03,201.97 L695.36,203.21 L696.67,204.39 L697.88,205.57 L698.88,206.82 L699.73,208.24 L700.44,209.76 L700.90,211.20 L700.96,212.36 L700.53,213.19 L699.71,213.79 L698.64,214.20 L697.50,214.44 L696.29,214.48 L694.94,214.31 L693.48,214.04 L691.95,213.75 L690.28,213.47 L688.49,213.14 L686.69,212.77 L685.02,212.36 L683.51,211.96 L682.08,211.54 L680.73,211.01 L679.48,210.28 L678.28,209.31 L677.16,208.16 L676.15,206.86 L675.32,205.43 L674.67,203.80 L674.17,201.97 L673.83,200.14 L673.66,198.50 L673.74,197.03 L674.04,195.64 L674.39,194.47 Z" fill="#966a74"/>
<path d="M678.87,200.34 L679.43,199.43 L680.47,198.41 L681.85,197.62 L683.19,197.37 L684.30,197.33 L685.62,196.88 L686.95,197.16 L688.12,197.78 L689.03,198.73 L690.43,199.01 L691.71,199.69 L692.64,200.84 L693.25,202.43 L693.73,204.20 L694.44,205.73 L694.99,207.12 L694.97,208.57 L695.07,210.08 L695.37,211.67 L694.82,212.91 L693.53,213.20 L692.43,213.80 L691.14,214.60 L689.71,214.46 L688.28,214.58 L686.74,214.59 L685.19,214.40 L683.69,214.08 L682.32,213.34 L681.29,212.09 L680.54,210.69 L680.04,209.34 L679.17,208.30 L679.08,206.95 L678.44,205.75 L678.35,204.53 L678.85,203.37 L679.03,202.22 L678.88,201.13 Z" fill="#cfb0aa"/>
<path d="M680.92,201.82 L681.45,201.31 L682.21,200.56 L683.09,199.83 L683.97,199.38 L684.86,199.27 L685.80,199.38 L686.75,199.63 L687.63,199.99 L688.45,200.43 L689.24,200.98 L689.98,201.65 L690.69,202.43 L691.41,203.37 L692.14,204.45 L692.75,205.59 L693.13,206.70 L693.26,207.84 L693.20,209.03 L692.96,210.12 L692.52,210.98 L691.83,211.54 L690.91,211.89 L689.88,212.09 L688.85,212.20 L687.80,212.23 L686.68,212.16 L685.58,211.95 L684.58,211.59 L683.68,211.01 L682.85,210.25 L682.12,209.40 L681.53,208.53 L681.11,207.65 L680.82,206.70 L680.65,205.76 L680.55,204.87 L680.56,203.99 L680.67,203.12 L680.82,202.35 Z" fill="#eee6c6"/>
<path d="M683.08,203.40 L683.40,203.09 L683.87,202.63 L684.40,202.19 L684.94,201.91 L685.48,201.85 L686.05,201.91 L686.62,202.07 L687.16,202.28 L687.66,202.55 L688.14,202.89 L688.59,203.29 L689.02,203.77 L689.46,204.34 L689.90,205.00 L690.27,205.69 L690.50,206.37 L690.59,207.06 L690.55,207.78 L690.40,208.45 L690.13,208.97 L689.72,209.31 L689.16,209.52 L688.53,209.65 L687.91,209.71 L687.26,209.73 L686.58,209.69 L685.91,209.56 L685.31,209.34 L684.76,208.99 L684.25,208.53 L683.81,208.01 L683.45,207.48 L683.19,206.94 L683.02,206.37 L682.92,205.79 L682.86,205.25 L682.86,204.72 L682.93,204.19 L683.02,203.72 Z" fill="#fdfce2"/>
</g>
<path d="M667.70,182.54 L668.72,181.35 L670.84,180.57 L672.89,179.29 L674.46,177.99 L675.72,177.34 L677.06,177.46 L678.10,178.53 L678.93,178.20 L679.99,178.76 L679.42,180.61 L679.69,182.11 L681.46,183.07 L682.84,184.29 L683.27,185.78 L683.56,187.09 L683.85,188.30 L685.01,189.08 L686.29,190.15 L687.69,191.42 L688.74,193.19 L689.71,194.84 L691.29,195.51 L693.19,195.84 L694.80,196.92 L696.37,198.47 L698.31,199.88 L700.32,201.38 L702.24,202.98 L702.99,205.47 L703.32,208.15 L705.25,209.86 L705.55,211.92 L704.93,213.65 L704.53,215.11 L705.01,216.96 L704.30,218.40 L702.86,219.10 L701.20,219.09 L699.56,218.56 L698.16,217.38 L696.79,216.87 L694.99,216.82 L692.60,217.73 L690.97,217.22 L689.84,215.24 L688.38,214.29 L686.59,214.60 L684.71,214.61 L682.54,215.06 L680.56,213.83 L678.88,211.93 L677.19,210.89 L675.56,209.49 L673.72,207.93 L670.89,206.90 L668.80,205.18 L667.84,202.78 L667.75,200.07 L667.80,197.52 L667.83,195.27 L667.33,193.24 L667.20,191.12 L667.40,189.08 L667.07,187.21 L666.80,185.59 L666.45,184.13 L667.72,183.11 Z" fill="none" stroke="#2cd42c" stroke-width="0.95" stroke-linejoin="round"/>
<path d="M672.40,191.35 L673.69,191.27 L675.09,190.27 L676.50,188.87 L678.07,188.11 L679.51,188.45 L680.57,189.43 L681.75,189.97 L683.43,189.92 L684.89,190.63 L685.96,192.15 L687.31,193.42 L689.05,194.44 L690.77,195.83 L692.34,197.67 L694.41,199.05 L695.86,200.84 L697.01,202.76 L698.14,204.63 L699.61,205.93 L700.75,207.35 L702.24,208.70 L703.59,210.32 L703.92,212.17 L703.10,213.49 L702.90,214.31 L702.43,215.67 L701.18,216.54 L699.62,216.23 L698.18,215.91 L696.54,216.07 L694.77,215.90 L693.06,214.93 L691.11,214.37 L688.80,214.94 L686.54,214.95 L684.63,214.08 L682.92,213.22 L681.27,212.55 L679.56,212.18 L678.38,210.80 L677.06,209.61 L675.37,208.61 L674.03,207.16 L673.60,205.16 L672.53,203.37 L672.06,201.17 L671.06,199.10 L670.82,197.11 L671.46,195.37 L671.72,193.71 L672.50,192.43 Z" fill="none" stroke="#dab01c" stroke-width="1.05" stroke-linejoin="round"/>
<path d="M678.87,200.34 L679.43,199.43 L680.47,198.41 L681.85,197.62 L683.19,197.37 L684.30,197.33 L685.62,196.88 L686.95,197.16 L688.12,197.78 L689.03,198.73 L690.43,199.01 L691.71,199.69 L692.64,200.84 L693.25,202.43 L693.73,204.20 L694.44,205.73 L694.99,207.12 L694.97,208.57 L695.07,210.08 L695.37,211.67 L694.82,212.91 L693.53,213.20 L692.43,213.80 L691.14,214.60 L689.71,214.46 L688.28,214.58 L686.74,214.59 L685.19,214.40 L683.69,214.08 L682.32,213.34 L681.29,212.09 L680.54,210.69 L680.04,209.34 L679.17,208.30 L679.08,206.95 L678.44,205.75 L678.35,204.53 L678.85,203.37 L679.03,202.22 L678.88,201.13 Z" fill="none" stroke="#d636d0" stroke-width="1.05" stroke-linejoin="round"/>
<line x1="679.80" y1="205.35" x2="693.00" y2="205.35" stroke="#ff2a2a" stroke-width="0.95" />
<line x1="686.40" y1="198.75" x2="686.40" y2="211.95" stroke="#ff2a2a" stroke-width="0.95" />
</g>
<rect x="715.7" y="176.4" width="44.0" height="44.0" fill="#1c0306"/>
<clipPath id="c32"><rect x="715.7" y="176.4" width="44.0" height="44.0"/></clipPath>
<g clip-path="url(#c32)">
<g filter="url(#bl)">
<path d="M715.31,218.02 L715.86,216.55 L716.36,214.89 L717.13,213.11 L716.71,210.94 L718.02,209.25 L719.97,207.89 L720.67,205.25 L722.65,203.52 L725.15,201.76 L726.50,198.95 L726.84,195.46 L728.25,192.73 L730.75,191.14 L733.74,190.46 L735.37,188.57 L737.40,187.64 L738.60,186.46 L738.01,184.90 L738.37,183.90 L740.03,183.74 L741.06,182.30 L742.46,180.57 L744.51,179.89 L745.83,178.59 L746.83,177.50 L747.96,177.00 L749.13,178.40 L749.70,179.22 L750.71,179.47 L751.85,180.13 L754.13,180.28 L755.10,181.86 L754.79,184.05 L754.04,186.35 L754.43,188.51 L756.00,190.49 L756.78,192.51 L756.58,194.61 L756.04,196.69 L755.54,198.72 L756.24,200.83 L755.24,202.79 L754.55,204.77 L754.03,206.79 L753.77,209.00 L753.89,211.36 L753.94,213.70 L753.09,215.63 L751.41,216.67 L749.58,217.18 L748.15,218.90 L746.19,219.31 L744.07,218.81 L742.14,219.85 L740.04,220.75 L737.79,220.66 L735.36,219.79 L732.80,219.42 L730.26,218.21 L727.85,217.85 L725.53,218.26 L723.32,219.94 L721.24,220.85 L719.42,220.54 L718.30,219.18 L717.65,218.20 L716.61,218.30 Z" fill="#30111a"/>
<path d="M720.71,215.09 L721.97,213.33 L723.61,210.86 L725.23,208.08 L726.73,205.65 L728.00,203.62 L728.76,201.45 L729.56,199.37 L731.30,198.07 L732.64,196.44 L734.36,195.25 L736.10,194.13 L737.84,193.08 L738.97,191.28 L740.31,189.68 L741.77,188.34 L743.36,187.62 L744.90,188.15 L746.12,188.03 L747.48,187.98 L748.48,188.85 L748.97,190.14 L750.21,190.83 L751.29,192.02 L751.41,193.94 L751.90,196.14 L752.59,198.68 L754.03,201.18 L754.00,203.70 L753.28,205.94 L752.80,208.04 L752.59,210.04 L752.75,212.26 L751.55,213.85 L749.97,215.11 L747.99,215.68 L745.81,215.54 L743.94,216.16 L741.90,216.54 L739.83,217.26 L737.70,217.29 L735.65,217.97 L733.54,218.35 L731.43,217.70 L729.50,217.64 L727.61,218.52 L725.79,218.16 L724.18,217.93 L722.75,218.11 L721.75,217.54 L721.01,216.76 L720.74,215.98 Z" fill="#5a3240"/>
<path d="M724.30,213.63 L725.05,212.09 L726.12,209.86 L727.32,207.44 L728.46,205.31 L729.47,203.56 L730.45,201.93 L731.48,200.44 L732.62,199.08 L733.92,197.89 L735.35,196.87 L736.79,195.91 L738.16,194.92 L739.44,193.76 L740.67,192.54 L741.87,191.46 L743.01,190.76 L744.13,190.51 L745.22,190.59 L746.25,190.92 L747.17,191.45 L747.98,192.15 L748.71,193.05 L749.35,194.20 L749.94,195.61 L750.54,197.43 L751.10,199.60 L751.54,201.85 L751.75,203.93 L751.71,205.84 L751.49,207.70 L751.05,209.40 L750.36,210.86 L749.35,212.02 L748.07,212.94 L746.62,213.68 L745.09,214.32 L743.48,214.84 L741.73,215.21 L739.93,215.48 L738.16,215.71 L736.40,215.90 L734.61,216.03 L732.87,216.10 L731.23,216.13 L729.65,216.12 L728.11,216.07 L726.75,215.95 L725.69,215.71 L725.02,215.26 L724.65,214.64 L724.45,214.04 Z" fill="#966a74"/>
<path d="M731.07,209.48 L731.44,208.25 L731.75,206.45 L731.74,204.39 L732.27,202.56 L733.62,201.48 L735.08,200.67 L736.26,199.48 L737.51,198.46 L738.84,197.42 L740.42,196.53 L741.52,195.31 L742.50,194.14 L743.79,193.80 L745.01,194.16 L745.96,194.77 L746.81,195.46 L747.88,196.54 L748.29,198.31 L748.19,200.28 L748.57,202.04 L748.99,203.75 L748.95,205.56 L748.50,207.20 L748.49,208.66 L747.83,209.78 L746.91,210.73 L745.66,211.33 L744.16,211.51 L742.67,212.00 L741.12,213.05 L739.39,213.60 L737.75,213.58 L736.37,214.18 L734.99,214.41 L733.80,213.73 L732.89,213.48 L732.34,212.64 L731.80,211.50 L731.62,210.25 Z" fill="#cfb0aa"/>
<path d="M733.53,208.34 L733.70,207.42 L733.91,206.09 L734.25,204.66 L734.75,203.46 L735.50,202.57 L736.43,201.82 L737.44,201.12 L738.42,200.40 L739.35,199.56 L740.29,198.65 L741.21,197.86 L742.08,197.35 L742.93,197.15 L743.76,197.16 L744.51,197.42 L745.13,197.96 L745.60,198.88 L745.94,200.14 L746.18,201.53 L746.35,202.85 L746.51,204.12 L746.62,205.44 L746.60,206.68 L746.35,207.73 L745.85,208.54 L745.13,209.18 L744.27,209.71 L743.30,210.17 L742.18,210.59 L740.90,210.94 L739.60,211.20 L738.42,211.39 L737.36,211.55 L736.36,211.66 L735.47,211.64 L734.75,211.39 L734.25,210.77 L733.91,209.87 L733.70,208.96 Z" fill="#eee6c6"/>
<path d="M736.19,207.07 L736.29,206.51 L736.42,205.70 L736.62,204.84 L736.93,204.10 L737.38,203.56 L737.95,203.11 L738.57,202.68 L739.16,202.25 L739.72,201.73 L740.30,201.18 L740.86,200.70 L741.39,200.39 L741.90,200.27 L742.41,200.27 L742.87,200.43 L743.24,200.76 L743.52,201.32 L743.73,202.08 L743.88,202.93 L743.99,203.73 L744.08,204.51 L744.15,205.31 L744.13,206.06 L743.99,206.70 L743.68,207.20 L743.24,207.58 L742.72,207.90 L742.13,208.19 L741.45,208.44 L740.67,208.65 L739.88,208.81 L739.16,208.93 L738.52,209.03 L737.91,209.09 L737.37,209.08 L736.93,208.93 L736.62,208.55 L736.42,208.00 L736.29,207.45 Z" fill="#fdfce2"/>
</g>
<path d="M715.31,218.02 L715.86,216.55 L716.36,214.89 L717.13,213.11 L716.71,210.94 L718.02,209.25 L719.97,207.89 L720.67,205.25 L722.65,203.52 L725.15,201.76 L726.50,198.95 L726.84,195.46 L728.25,192.73 L730.75,191.14 L733.74,190.46 L735.37,188.57 L737.40,187.64 L738.60,186.46 L738.01,184.90 L738.37,183.90 L740.03,183.74 L741.06,182.30 L742.46,180.57 L744.51,179.89 L745.83,178.59 L746.83,177.50 L747.96,177.00 L749.13,178.40 L749.70,179.22 L750.71,179.47 L751.85,180.13 L754.13,180.28 L755.10,181.86 L754.79,184.05 L754.04,186.35 L754.43,188.51 L756.00,190.49 L756.78,192.51 L756.58,194.61 L756.04,196.69 L755.54,198.72 L756.24,200.83 L755.24,202.79 L754.55,204.77 L754.03,206.79 L753.77,209.00 L753.89,211.36 L753.94,213.70 L753.09,215.63 L751.41,216.67 L749.58,217.18 L748.15,218.90 L746.19,219.31 L744.07,218.81 L742.14,219.85 L740.04,220.75 L737.79,220.66 L735.36,219.79 L732.80,219.42 L730.26,218.21 L727.85,217.85 L725.53,218.26 L723.32,219.94 L721.24,220.85 L719.42,220.54 L718.30,219.18 L717.65,218.20 L716.61,218.30 Z" fill="none" stroke="#2cd42c" stroke-width="0.95" stroke-linejoin="round"/>
<path d="M720.71,215.09 L721.97,213.33 L723.61,210.86 L725.23,208.08 L726.73,205.65 L728.00,203.62 L728.76,201.45 L729.56,199.37 L731.30,198.07 L732.64,196.44 L734.36,195.25 L736.10,194.13 L737.84,193.08 L738.97,191.28 L740.31,189.68 L741.77,188.34 L743.36,187.62 L744.90,188.15 L746.12,188.03 L747.48,187.98 L748.48,188.85 L748.97,190.14 L750.21,190.83 L751.29,192.02 L751.41,193.94 L751.90,196.14 L752.59,198.68 L754.03,201.18 L754.00,203.70 L753.28,205.94 L752.80,208.04 L752.59,210.04 L752.75,212.26 L751.55,213.85 L749.97,215.11 L747.99,215.68 L745.81,215.54 L743.94,216.16 L741.90,216.54 L739.83,217.26 L737.70,217.29 L735.65,217.97 L733.54,218.35 L731.43,217.70 L729.50,217.64 L727.61,218.52 L725.79,218.16 L724.18,217.93 L722.75,218.11 L721.75,217.54 L721.01,216.76 L720.74,215.98 Z" fill="none" stroke="#dab01c" stroke-width="1.05" stroke-linejoin="round"/>
<path d="M731.07,209.48 L731.44,208.25 L731.75,206.45 L731.74,204.39 L732.27,202.56 L733.62,201.48 L735.08,200.67 L736.26,199.48 L737.51,198.46 L738.84,197.42 L740.42,196.53 L741.52,195.31 L742.50,194.14 L743.79,193.80 L745.01,194.16 L745.96,194.77 L746.81,195.46 L747.88,196.54 L748.29,198.31 L748.19,200.28 L748.57,202.04 L748.99,203.75 L748.95,205.56 L748.50,207.20 L748.49,208.66 L747.83,209.78 L746.91,210.73 L745.66,211.33 L744.16,211.51 L742.67,212.00 L741.12,213.05 L739.39,213.60 L737.75,213.58 L736.37,214.18 L734.99,214.41 L733.80,213.73 L732.89,213.48 L732.34,212.64 L731.80,211.50 L731.62,210.25 Z" fill="none" stroke="#d636d0" stroke-width="1.05" stroke-linejoin="round"/>
<line x1="732.80" y1="205.35" x2="747.65" y2="205.35" stroke="#ff2a2a" stroke-width="0.95" />
<line x1="740.72" y1="197.93" x2="740.72" y2="211.13" stroke="#ff2a2a" stroke-width="0.95" />
</g>
<rect x="715.7" y="229.6" width="44.0" height="44.0" fill="#1c0306"/>
<clipPath id="c33"><rect x="715.7" y="229.6" width="44.0" height="44.0"/></clipPath>
<g clip-path="url(#c33)">
<g filter="url(#bl)">
<path d="M716.88,229.80 L718.22,229.00 L720.04,228.54 L722.34,229.39 L724.54,230.11 L726.95,230.32 L729.83,229.44 L732.41,230.30 L734.54,230.96 L735.94,231.94 L737.19,233.06 L737.53,234.49 L737.61,236.21 L738.68,237.67 L740.88,237.68 L742.19,239.06 L742.88,240.95 L743.93,242.00 L746.09,242.05 L747.17,243.24 L746.80,245.73 L747.72,247.72 L750.14,249.17 L751.98,251.04 L752.16,253.68 L753.47,255.40 L754.19,257.39 L755.27,258.90 L756.23,260.23 L757.53,261.29 L757.38,262.66 L758.12,263.81 L757.71,264.98 L756.35,265.83 L755.99,267.01 L756.37,268.85 L755.48,269.89 L754.18,269.67 L753.14,269.19 L751.90,269.17 L750.57,269.26 L749.57,268.44 L748.89,266.79 L747.73,266.07 L745.62,266.32 L744.46,264.59 L742.98,262.95 L740.71,262.00 L739.49,259.91 L737.40,258.82 L736.09,256.87 L734.65,255.00 L732.93,253.29 L730.83,251.66 L729.25,249.43 L727.85,247.10 L726.21,245.14 L724.85,243.18 L723.13,241.68 L721.35,240.39 L719.69,239.21 L719.09,237.22 L717.86,235.95 L716.63,234.91 L716.85,233.40 L716.94,232.64 L716.34,231.60 L716.19,230.52 Z" fill="#30111a"/>
<path d="M722.83,233.55 L723.74,232.75 L725.12,232.59 L726.66,232.84 L728.14,233.02 L728.92,234.16 L729.60,235.28 L730.60,236.24 L731.30,237.56 L732.80,238.36 L734.11,239.92 L735.75,241.14 L737.79,241.80 L739.82,242.65 L741.28,244.33 L742.73,246.06 L744.05,247.91 L746.02,249.30 L746.99,251.64 L748.07,253.79 L749.52,255.45 L750.86,257.05 L752.24,258.58 L752.45,260.46 L753.00,261.77 L752.78,262.89 L752.94,263.68 L753.36,264.65 L752.50,264.50 L751.57,264.42 L749.89,265.12 L748.27,264.34 L746.90,263.19 L745.29,262.46 L744.19,260.86 L742.57,259.71 L741.17,258.22 L739.23,257.28 L737.83,255.59 L736.43,253.81 L734.22,252.81 L732.39,251.12 L730.85,248.99 L728.96,247.24 L727.15,245.73 L725.91,244.12 L725.08,242.42 L724.94,240.49 L724.34,239.13 L723.75,237.70 L722.91,236.14 L723.21,234.62 Z" fill="#5a3240"/>
<path d="M725.63,236.29 L726.41,236.21 L727.53,236.08 L728.75,236.05 L729.79,236.29 L730.51,236.92 L731.09,237.81 L731.70,238.81 L732.56,239.76 L733.75,240.59 L735.16,241.41 L736.65,242.26 L738.10,243.22 L739.51,244.31 L740.92,245.48 L742.31,246.73 L743.65,248.08 L744.96,249.55 L746.25,251.15 L747.45,252.77 L748.50,254.31 L749.42,255.81 L750.23,257.30 L750.87,258.68 L751.27,259.86 L751.44,260.84 L751.40,261.68 L751.13,262.29 L750.58,262.63 L749.66,262.64 L748.41,262.37 L747.04,261.88 L745.73,261.24 L744.53,260.42 L743.34,259.38 L742.14,258.24 L740.88,257.09 L739.54,255.95 L738.15,254.79 L736.73,253.56 L735.33,252.23 L733.90,250.74 L732.43,249.12 L731.03,247.49 L729.79,246.00 L728.71,244.69 L727.75,243.48 L726.94,242.33 L726.32,241.15 L725.94,239.82 L725.76,238.42 L725.69,237.17 Z" fill="#966a74"/>
<path d="M730.86,242.26 L732.01,242.36 L733.29,242.10 L734.69,241.76 L736.02,242.17 L737.41,242.67 L738.86,243.68 L740.30,244.92 L741.95,245.90 L742.93,247.57 L744.32,248.92 L745.70,250.29 L746.68,251.86 L747.86,253.29 L748.53,255.06 L749.52,256.39 L750.15,257.52 L749.95,258.46 L749.88,259.32 L749.36,260.03 L748.48,260.02 L747.40,260.01 L746.30,259.10 L744.85,258.46 L743.64,257.35 L742.42,256.18 L740.81,255.38 L739.23,254.43 L737.57,253.62 L735.92,252.69 L734.53,251.38 L733.48,249.90 L732.78,248.47 L732.02,247.51 L731.58,246.59 L731.33,245.77 L730.52,245.22 L730.42,244.41 L730.77,243.69 L730.53,242.96 Z" fill="#cfb0aa"/>
<path d="M733.44,244.69 L734.08,244.50 L735.00,244.20 L736.06,243.99 L737.10,244.08 L738.14,244.56 L739.24,245.30 L740.34,246.20 L741.38,247.14 L742.36,248.12 L743.32,249.20 L744.22,250.31 L745.04,251.41 L745.82,252.53 L746.57,253.70 L747.16,254.79 L747.48,255.68 L747.49,256.40 L747.25,256.98 L746.82,257.37 L746.26,257.51 L745.53,257.34 L744.62,256.90 L743.61,256.31 L742.60,255.68 L741.56,255.02 L740.46,254.27 L739.36,253.47 L738.32,252.63 L737.31,251.73 L736.32,250.76 L735.41,249.81 L734.66,248.97 L734.10,248.26 L733.68,247.63 L733.39,247.06 L733.19,246.52 L733.14,245.98 L733.22,245.46 L733.35,245.01 Z" fill="#eee6c6"/>
<path d="M735.99,246.94 L736.38,246.82 L736.94,246.64 L737.58,246.52 L738.22,246.57 L738.85,246.86 L739.52,247.31 L740.18,247.86 L740.82,248.43 L741.42,249.02 L742.00,249.68 L742.55,250.36 L743.04,251.03 L743.52,251.71 L743.97,252.42 L744.33,253.08 L744.53,253.63 L744.53,254.06 L744.39,254.41 L744.13,254.65 L743.79,254.74 L743.34,254.63 L742.79,254.37 L742.18,254.01 L741.56,253.63 L740.93,253.22 L740.26,252.77 L739.59,252.28 L738.96,251.77 L738.35,251.22 L737.74,250.63 L737.19,250.05 L736.73,249.54 L736.39,249.11 L736.14,248.73 L735.96,248.38 L735.84,248.06 L735.81,247.73 L735.86,247.41 L735.94,247.13 Z" fill="#fdfce2"/>
</g>
<path d="M716.88,229.80 L718.22,229.00 L720.04,228.54 L722.34,229.39 L724.54,230.11 L726.95,230.32 L729.83,229.44 L732.41,230.30 L734.54,230.96 L735.94,231.94 L737.19,233.06 L737.53,234.49 L737.61,236.21 L738.68,237.67 L740.88,237.68 L742.19,239.06 L742.88,240.95 L743.93,242.00 L746.09,242.05 L747.17,243.24 L746.80,245.73 L747.72,247.72 L750.14,249.17 L751.98,251.04 L752.16,253.68 L753.47,255.40 L754.19,257.39 L755.27,258.90 L756.23,260.23 L757.53,261.29 L757.38,262.66 L758.12,263.81 L757.71,264.98 L756.35,265.83 L755.99,267.01 L756.37,268.85 L755.48,269.89 L754.18,269.67 L753.14,269.19 L751.90,269.17 L750.57,269.26 L749.57,268.44 L748.89,266.79 L747.73,266.07 L745.62,266.32 L744.46,264.59 L742.98,262.95 L740.71,262.00 L739.49,259.91 L737.40,258.82 L736.09,256.87 L734.65,255.00 L732.93,253.29 L730.83,251.66 L729.25,249.43 L727.85,247.10 L726.21,245.14 L724.85,243.18 L723.13,241.68 L721.35,240.39 L719.69,239.21 L719.09,237.22 L717.86,235.95 L716.63,234.91 L716.85,233.40 L716.94,232.64 L716.34,231.60 L716.19,230.52 Z" fill="none" stroke="#2cd42c" stroke-width="0.95" stroke-linejoin="round"/>
<path d="M722.83,233.55 L723.74,232.75 L725.12,232.59 L726.66,232.84 L728.14,233.02 L728.92,234.16 L729.60,235.28 L730.60,236.24 L731.30,237.56 L732.80,238.36 L734.11,239.92 L735.75,241.14 L737.79,241.80 L739.82,242.65 L741.28,244.33 L742.73,246.06 L744.05,247.91 L746.02,249.30 L746.99,251.64 L748.07,253.79 L749.52,255.45 L750.86,257.05 L752.24,258.58 L752.45,260.46 L753.00,261.77 L752.78,262.89 L752.94,263.68 L753.36,264.65 L752.50,264.50 L751.57,264.42 L749.89,265.12 L748.27,264.34 L746.90,263.19 L745.29,262.46 L744.19,260.86 L742.57,259.71 L741.17,258.22 L739.23,257.28 L737.83,255.59 L736.43,253.81 L734.22,252.81 L732.39,251.12 L730.85,248.99 L728.96,247.24 L727.15,245.73 L725.91,244.12 L725.08,242.42 L724.94,240.49 L724.34,239.13 L723.75,237.70 L722.91,236.14 L723.21,234.62 Z" fill="none" stroke="#dab01c" stroke-width="1.05" stroke-linejoin="round"/>
<path d="M730.86,242.26 L732.01,242.36 L733.29,242.10 L734.69,241.76 L736.02,242.17 L737.41,242.67 L738.86,243.68 L740.30,244.92 L741.95,245.90 L742.93,247.57 L744.32,248.92 L745.70,250.29 L746.68,251.86 L747.86,253.29 L748.53,255.06 L749.52,256.39 L750.15,257.52 L749.95,258.46 L749.88,259.32 L749.36,260.03 L748.48,260.02 L747.40,260.01 L746.30,259.10 L744.85,258.46 L743.64,257.35 L742.42,256.18 L740.81,255.38 L739.23,254.43 L737.57,253.62 L735.92,252.69 L734.53,251.38 L733.48,249.90 L732.78,248.47 L732.02,247.51 L731.58,246.59 L731.33,245.77 L730.52,245.22 L730.42,244.41 L730.77,243.69 L730.53,242.96 Z" fill="none" stroke="#d636d0" stroke-width="1.05" stroke-linejoin="round"/>
<line x1="735.28" y1="250.10" x2="747.65" y2="250.10" stroke="#ff2a2a" stroke-width="0.95" />
<line x1="741.38" y1="244.33" x2="741.38" y2="255.88" stroke="#ff2a2a" stroke-width="0.95" />
</g>
<text x="556.50" y="117.60" font-family="Liberation Sans" font-size="3.7" text-anchor="middle" fill="#333333" class="t">20</text>
<text x="566.00" y="117.60" font-family="Liberation Sans" font-size="3.7" text-anchor="middle" fill="#333333" class="t">30</text>
<text x="575.60" y="117.60" font-family="Liberation Sans" font-size="3.7" text-anchor="middle" fill="#333333" class="t">40</text>
<text x="585.20" y="117.60" font-family="Liberation Sans" font-size="3.7" text-anchor="middle" fill="#333333" class="t">50</text>
<text x="594.80" y="117.60" font-family="Liberation Sans" font-size="3.7" text-anchor="middle" fill="#333333" class="t">60</text>
<text x="613.00" y="117.60" font-family="Liberation Sans" font-size="3.7" text-anchor="middle" fill="#333333" class="t">600</text>
<text x="623.40" y="117.60" font-family="Liberation Sans" font-size="3.7" text-anchor="middle" fill="#333333" class="t">800</text>
<text x="633.80" y="117.60" font-family="Liberation Sans" font-size="3.7" text-anchor="middle" fill="#333333" class="t">1000</text>
<text x="644.40" y="117.60" font-family="Liberation Sans" font-size="3.7" text-anchor="middle" fill="#333333" class="t">1200</text>
<text x="669.60" y="117.60" font-family="Liberation Sans" font-size="3.7" text-anchor="middle" fill="#333333" class="t">-0.75</text>
<text x="679.50" y="117.60" font-family="Liberation Sans" font-size="3.7" text-anchor="middle" fill="#333333" class="t">-0.50</text>
<text x="688.70" y="117.60" font-family="Liberation Sans" font-size="3.7" text-anchor="middle" fill="#333333" class="t">-0.25</text>
<text x="698.70" y="117.60" font-family="Liberation Sans" font-size="3.7" text-anchor="middle" fill="#333333" class="t">0.00</text>
<text x="719.20" y="117.60" font-family="Liberation Sans" font-size="3.7" text-anchor="middle" fill="#333333" class="t">8.0</text>
<text x="730.90" y="117.60" font-family="Liberation Sans" font-size="3.7" text-anchor="middle" fill="#333333" class="t">8.8</text>
<text x="742.40" y="117.60" font-family="Liberation Sans" font-size="3.7" text-anchor="middle" fill="#333333" class="t">9.6</text>
<text x="754.10" y="117.60" font-family="Liberation Sans" font-size="3.7" text-anchor="middle" fill="#333333" class="t">10.4</text>
<text x="613.00" y="170.60" font-family="Liberation Sans" font-size="3.7" text-anchor="middle" fill="#333333" class="t">600</text>
<text x="623.40" y="170.60" font-family="Liberation Sans" font-size="3.7" text-anchor="middle" fill="#333333" class="t">800</text>
<text x="633.80" y="170.60" font-family="Liberation Sans" font-size="3.7" text-anchor="middle" fill="#333333" class="t">1000</text>
<text x="644.40" y="170.60" font-family="Liberation Sans" font-size="3.7" text-anchor="middle" fill="#333333" class="t">1200</text>
<text x="669.60" y="170.60" font-family="Liberation Sans" font-size="3.7" text-anchor="middle" fill="#333333" class="t">-0.75</text>
<text x="669.60" y="223.80" font-family="Liberation Sans" font-size="3.7" text-anchor="middle" fill="#333333" class="t">-0.75</text>
<text x="679.50" y="170.60" font-family="Liberation Sans" font-size="3.7" text-anchor="middle" fill="#333333" class="t">-0.50</text>
<text x="679.50" y="223.80" font-family="Liberation Sans" font-size="3.7" text-anchor="middle" fill="#333333" class="t">-0.50</text>
<text x="688.70" y="170.60" font-family="Liberation Sans" font-size="3.7" text-anchor="middle" fill="#333333" class="t">-0.25</text>
<text x="688.70" y="223.80" font-family="Liberation Sans" font-size="3.7" text-anchor="middle" fill="#333333" class="t">-0.25</text>
<text x="698.70" y="170.60" font-family="Liberation Sans" font-size="3.7" text-anchor="middle" fill="#333333" class="t">0.00</text>
<text x="698.70" y="223.80" font-family="Liberation Sans" font-size="3.7" text-anchor="middle" fill="#333333" class="t">0.00</text>
<text x="719.20" y="170.60" font-family="Liberation Sans" font-size="3.7" text-anchor="middle" fill="#333333" class="t">8.0</text>
<text x="719.20" y="223.80" font-family="Liberation Sans" font-size="3.7" text-anchor="middle" fill="#333333" class="t">8.0</text>
<text x="719.20" y="277.20" font-family="Liberation Sans" font-size="3.7" text-anchor="middle" fill="#333333" class="t">8.0</text>
<text x="730.90" y="170.60" font-family="Liberation Sans" font-size="3.7" text-anchor="middle" fill="#333333" class="t">8.8</text>
<text x="730.90" y="223.80" font-family="Liberation Sans" font-size="3.7" text-anchor="middle" fill="#333333" class="t">8.8</text>
<text x="730.90" y="277.20" font-family="Liberation Sans" font-size="3.7" text-anchor="middle" fill="#333333" class="t">8.8</text>
<text x="742.40" y="170.60" font-family="Liberation Sans" font-size="3.7" text-anchor="middle" fill="#333333" class="t">9.6</text>
<text x="742.40" y="223.80" font-family="Liberation Sans" font-size="3.7" text-anchor="middle" fill="#333333" class="t">9.6</text>
<text x="742.40" y="277.20" font-family="Liberation Sans" font-size="3.7" text-anchor="middle" fill="#333333" class="t">9.6</text>
<text x="754.10" y="170.60" font-family="Liberation Sans" font-size="3.7" text-anchor="middle" fill="#333333" class="t">10.4</text>
<text x="754.10" y="223.80" font-family="Liberation Sans" font-size="3.7" text-anchor="middle" fill="#333333" class="t">10.4</text>
<text x="754.10" y="277.20" font-family="Liberation Sans" font-size="3.7" text-anchor="middle" fill="#333333" class="t">10.4</text>
<text x="555.20" y="70.80" font-family="Liberation Sans" font-size="3.0" text-anchor="end" fill="#333333" class="t">10</text>
<line x1="556.10" y1="69.90" x2="555.10" y2="69.90" stroke="#c8c8c8" stroke-width="0.5" />
<text x="555.20" y="79.56" font-family="Liberation Sans" font-size="3.0" text-anchor="end" fill="#333333" class="t">08</text>
<line x1="556.10" y1="78.64" x2="555.10" y2="78.64" stroke="#c8c8c8" stroke-width="0.5" />
<text x="555.20" y="88.32" font-family="Liberation Sans" font-size="3.0" text-anchor="end" fill="#333333" class="t">06</text>
<line x1="556.10" y1="87.38" x2="555.10" y2="87.38" stroke="#c8c8c8" stroke-width="0.5" />
<text x="555.20" y="97.08" font-family="Liberation Sans" font-size="3.0" text-anchor="end" fill="#333333" class="t">04</text>
<line x1="556.10" y1="96.12" x2="555.10" y2="96.12" stroke="#c8c8c8" stroke-width="0.5" />
<text x="555.20" y="105.84" font-family="Liberation Sans" font-size="3.0" text-anchor="end" fill="#333333" class="t">02</text>
<line x1="556.10" y1="104.86" x2="555.10" y2="104.86" stroke="#c8c8c8" stroke-width="0.5" />
<text x="555.20" y="114.60" font-family="Liberation Sans" font-size="3.0" text-anchor="end" fill="#333333" class="t">00</text>
<line x1="556.10" y1="113.60" x2="555.10" y2="113.60" stroke="#c8c8c8" stroke-width="0.5" />
<text x="608.30" y="70.80" font-family="Liberation Sans" font-size="3.0" text-anchor="end" fill="#333333" class="t">10</text>
<line x1="609.20" y1="69.90" x2="608.20" y2="69.90" stroke="#c8c8c8" stroke-width="0.5" />
<text x="608.30" y="79.56" font-family="Liberation Sans" font-size="3.0" text-anchor="end" fill="#333333" class="t">08</text>
<line x1="609.20" y1="78.64" x2="608.20" y2="78.64" stroke="#c8c8c8" stroke-width="0.5" />
<text x="608.30" y="88.32" font-family="Liberation Sans" font-size="3.0" text-anchor="end" fill="#333333" class="t">06</text>
<line x1="609.20" y1="87.38" x2="608.20" y2="87.38" stroke="#c8c8c8" stroke-width="0.5" />
<text x="608.30" y="97.08" font-family="Liberation Sans" font-size="3.0" text-anchor="end" fill="#333333" class="t">04</text>
<line x1="609.20" y1="96.12" x2="608.20" y2="96.12" stroke="#c8c8c8" stroke-width="0.5" />
<text x="608.30" y="105.84" font-family="Liberation Sans" font-size="3.0" text-anchor="end" fill="#333333" class="t">02</text>
<line x1="609.20" y1="104.86" x2="608.20" y2="104.86" stroke="#c8c8c8" stroke-width="0.5" />
<text x="608.30" y="114.60" font-family="Liberation Sans" font-size="3.0" text-anchor="end" fill="#333333" class="t">00</text>
<line x1="609.20" y1="113.60" x2="608.20" y2="113.60" stroke="#c8c8c8" stroke-width="0.5" />
<text x="661.60" y="70.80" font-family="Liberation Sans" font-size="3.0" text-anchor="end" fill="#333333" class="t">10</text>
<line x1="662.50" y1="69.90" x2="661.50" y2="69.90" stroke="#c8c8c8" stroke-width="0.5" />
<text x="661.60" y="79.56" font-family="Liberation Sans" font-size="3.0" text-anchor="end" fill="#333333" class="t">08</text>
<line x1="662.50" y1="78.64" x2="661.50" y2="78.64" stroke="#c8c8c8" stroke-width="0.5" />
<text x="661.60" y="88.32" font-family="Liberation Sans" font-size="3.0" text-anchor="end" fill="#333333" class="t">06</text>
<line x1="662.50" y1="87.38" x2="661.50" y2="87.38" stroke="#c8c8c8" stroke-width="0.5" />
<text x="661.60" y="97.08" font-family="Liberation Sans" font-size="3.0" text-anchor="end" fill="#333333" class="t">04</text>
<line x1="662.50" y1="96.12" x2="661.50" y2="96.12" stroke="#c8c8c8" stroke-width="0.5" />
<text x="661.60" y="105.84" font-family="Liberation Sans" font-size="3.0" text-anchor="end" fill="#333333" class="t">02</text>
<line x1="662.50" y1="104.86" x2="661.50" y2="104.86" stroke="#c8c8c8" stroke-width="0.5" />
<text x="661.60" y="114.60" font-family="Liberation Sans" font-size="3.0" text-anchor="end" fill="#333333" class="t">00</text>
<line x1="662.50" y1="113.60" x2="661.50" y2="113.60" stroke="#c8c8c8" stroke-width="0.5" />
<text x="714.80" y="70.80" font-family="Liberation Sans" font-size="3.0" text-anchor="end" fill="#333333" class="t">10</text>
<line x1="715.70" y1="69.90" x2="714.70" y2="69.90" stroke="#c8c8c8" stroke-width="0.5" />
<text x="714.80" y="79.56" font-family="Liberation Sans" font-size="3.0" text-anchor="end" fill="#333333" class="t">08</text>
<line x1="715.70" y1="78.64" x2="714.70" y2="78.64" stroke="#c8c8c8" stroke-width="0.5" />
<text x="714.80" y="88.32" font-family="Liberation Sans" font-size="3.0" text-anchor="end" fill="#333333" class="t">06</text>
<line x1="715.70" y1="87.38" x2="714.70" y2="87.38" stroke="#c8c8c8" stroke-width="0.5" />
<text x="714.80" y="97.08" font-family="Liberation Sans" font-size="3.0" text-anchor="end" fill="#333333" class="t">04</text>
<line x1="715.70" y1="96.12" x2="714.70" y2="96.12" stroke="#c8c8c8" stroke-width="0.5" />
<text x="714.80" y="105.84" font-family="Liberation Sans" font-size="3.0" text-anchor="end" fill="#333333" class="t">02</text>
<line x1="715.70" y1="104.86" x2="714.70" y2="104.86" stroke="#c8c8c8" stroke-width="0.5" />
<text x="714.80" y="114.60" font-family="Liberation Sans" font-size="3.0" text-anchor="end" fill="#333333" class="t">00</text>
<line x1="715.70" y1="113.60" x2="714.70" y2="113.60" stroke="#c8c8c8" stroke-width="0.5" />
<text x="608.20" y="129.90" font-family="Liberation Sans" font-size="2.9" text-anchor="end" fill="#333333" class="t">60</text>
<text x="608.20" y="139.10" font-family="Liberation Sans" font-size="2.9" text-anchor="end" fill="#333333" class="t">50</text>
<text x="608.20" y="148.80" font-family="Liberation Sans" font-size="2.9" text-anchor="end" fill="#333333" class="t">40</text>
<text x="608.20" y="158.40" font-family="Liberation Sans" font-size="2.9" text-anchor="end" fill="#333333" class="t">30</text>
<text x="608.20" y="168.00" font-family="Liberation Sans" font-size="2.9" text-anchor="end" fill="#333333" class="t">20</text>
<text x="661.50" y="129.90" font-family="Liberation Sans" font-size="2.9" text-anchor="end" fill="#333333" class="t">60</text>
<text x="661.50" y="139.10" font-family="Liberation Sans" font-size="2.9" text-anchor="end" fill="#333333" class="t">50</text>
<text x="661.50" y="148.80" font-family="Liberation Sans" font-size="2.9" text-anchor="end" fill="#333333" class="t">40</text>
<text x="661.50" y="158.40" font-family="Liberation Sans" font-size="2.9" text-anchor="end" fill="#333333" class="t">30</text>
<text x="661.50" y="168.00" font-family="Liberation Sans" font-size="2.9" text-anchor="end" fill="#333333" class="t">20</text>
<text x="714.70" y="129.90" font-family="Liberation Sans" font-size="2.9" text-anchor="end" fill="#333333" class="t">60</text>
<text x="714.70" y="139.10" font-family="Liberation Sans" font-size="2.9" text-anchor="end" fill="#333333" class="t">50</text>
<text x="714.70" y="148.80" font-family="Liberation Sans" font-size="2.9" text-anchor="end" fill="#333333" class="t">40</text>
<text x="714.70" y="158.40" font-family="Liberation Sans" font-size="2.9" text-anchor="end" fill="#333333" class="t">30</text>
<text x="714.70" y="168.00" font-family="Liberation Sans" font-size="2.9" text-anchor="end" fill="#333333" class="t">20</text>
<text x="661.50" y="186.20" font-family="Liberation Sans" font-size="2.9" text-anchor="end" fill="#333333" class="t">12</text>
<text x="661.50" y="195.90" font-family="Liberation Sans" font-size="2.9" text-anchor="end" fill="#333333" class="t">10</text>
<text x="661.50" y="206.40" font-family="Liberation Sans" font-size="2.9" text-anchor="end" fill="#333333" class="t">80</text>
<text x="661.50" y="216.90" font-family="Liberation Sans" font-size="2.9" text-anchor="end" fill="#333333" class="t">60</text>
<text x="714.70" y="186.20" font-family="Liberation Sans" font-size="2.9" text-anchor="end" fill="#333333" class="t">12</text>
<text x="714.70" y="195.90" font-family="Liberation Sans" font-size="2.9" text-anchor="end" fill="#333333" class="t">10</text>
<text x="714.70" y="206.40" font-family="Liberation Sans" font-size="2.9" text-anchor="end" fill="#333333" class="t">80</text>
<text x="714.70" y="216.90" font-family="Liberation Sans" font-size="2.9" text-anchor="end" fill="#333333" class="t">60</text>
<text x="714.70" y="238.00" font-family="Liberation Sans" font-size="2.9" text-anchor="end" fill="#333333" class="t">0.0</text>
<text x="714.70" y="247.50" font-family="Liberation Sans" font-size="2.9" text-anchor="end" fill="#333333" class="t">-.2</text>
<text x="714.70" y="257.30" font-family="Liberation Sans" font-size="2.9" text-anchor="end" fill="#333333" class="t">-.5</text>
<text x="714.70" y="266.70" font-family="Liberation Sans" font-size="2.9" text-anchor="end" fill="#333333" class="t">-.7</text>
<text x="578.10" y="124.70" font-family="Liberation Sans" font-style="italic" font-size="7.9" text-anchor="middle" fill="#000">kT<tspan font-size="6.40" dy="0.9">min</tspan></text>
<text x="631.20" y="177.50" font-family="Liberation Sans" font-style="italic" font-size="7.9" text-anchor="middle" fill="#000">kT<tspan font-size="6.40" dy="0.9">max</tspan></text>
<text x="684.50" y="229.90" font-family="Liberation Sans" font-style="italic" font-size="7.9" text-anchor="middle" fill="#000">m</text>
<text x="737.70" y="283.80" font-family="Liberation Sans" font-style="italic" font-size="7.9" text-anchor="middle" fill="#000">logC</text>
<text transform="translate(604.50,145.10) rotate(-90)" font-family="Liberation Sans" font-style="italic" font-size="7.9" text-anchor="middle" fill="#000">kT<tspan font-size="6.40" dy="0.9">min</tspan></text>
<text transform="translate(655.00,198.40) rotate(-90)" font-family="Liberation Sans" font-style="italic" font-size="7.9" text-anchor="middle" fill="#000">kT<tspan font-size="6.40" dy="0.9">max</tspan></text>
<text transform="translate(707.90,251.60) rotate(-90)" font-family="Liberation Sans" font-style="italic" font-size="7.9" text-anchor="middle" fill="#000">m</text>
<text transform="translate(550.2,91) rotate(-90)" font-family="Liberation Sans" font-size="5.75" text-anchor="middle" fill="#000">Relative Probability</text>
</svg></body></html>
